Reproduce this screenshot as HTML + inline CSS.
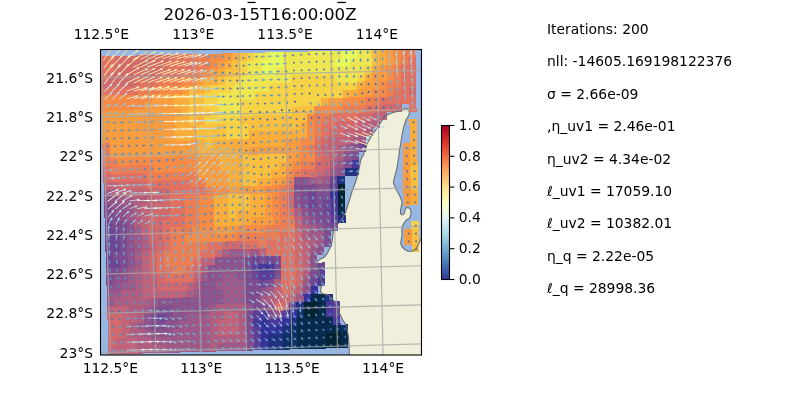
<!DOCTYPE html><html><head><meta charset="utf-8"><style>html,body{margin:0;padding:0;background:#fff;overflow:hidden}svg{display:block;will-change:transform}text{font-family:"DejaVu Sans","Liberation Sans",sans-serif;fill:#000}</style></head><body><svg width="800" height="400" viewBox="0 0 800 400"><defs><clipPath id="mc"><rect x="100.5" y="49.5" width="321" height="305.5"/></clipPath><linearGradient id="cb" x1="0" y1="1" x2="0" y2="0"><stop offset="0" stop-color="rgb(49,54,149)"/><stop offset="0.1" stop-color="rgb(69,117,180)"/><stop offset="0.2" stop-color="rgb(116,173,209)"/><stop offset="0.3" stop-color="rgb(171,217,233)"/><stop offset="0.4" stop-color="rgb(224,243,248)"/><stop offset="0.5" stop-color="rgb(255,255,191)"/><stop offset="0.6" stop-color="rgb(254,224,144)"/><stop offset="0.7" stop-color="rgb(253,174,97)"/><stop offset="0.8" stop-color="rgb(244,109,67)"/><stop offset="0.9" stop-color="rgb(215,48,39)"/><stop offset="1" stop-color="rgb(165,0,38)"/></linearGradient></defs><rect width="800" height="400" fill="#fff"/><g clip-path="url(#mc)"><rect x="100" y="49" width="322" height="307" fill="#97b6e1"/><path d="M405.5 108.5 L407.5 108.8 L409 110.5 L409.5 113 L408.5 116 L406.5 119 L405 123 L403.5 128 L402 135 L400.5 145 L399.4 150 L399 155 L398 161 L397 168 L395.5 174 L394 179 L393.5 183 L394.25 185 L395.5 188 L397 191 L398.75 194 L400.25 197 L401.5 200 L402.1 203 L401.5 205.5 L400.9 208 L400.5 210.5 L400.5 213.5 L401.5 214.75 L403 214.75 L404.5 212.5 L405.25 209.5 L406.25 207.75 L408 207.5 L409.75 208.5 L410.75 210.25 L411 213 L410.5 216 L409.25 218.5 L407.5 219.25 L406 220.25 L404.75 222 L403.2 224.5 L402 227.1 L401.8 230.5 L402.1 234.75 L401.1 240.7 L400.7 243.3 L402 246.7 L404.5 249.2 L407.9 251.3 L412.2 251.3 L415.6 249.2 L418.1 245 L420.2 240.7 L421 239 L424 234 L430 234 L430 370 L349.5 370 L349.5 362 L349.4 355 L349 344.6 L348.5 337 L347.5 331.3 L346.6 325.6 L342.8 320 L340 314.2 L338 308.5 L336 303.8 L333.2 300 L331.6 298 L329.2 295.6 L326 294.4 L322 293.6 L320.4 291.2 L321.2 287.2 L321.6 284 L321.6 280.8 L320.4 277.6 L319.2 274.4 L318.8 270.4 L317.6 267.2 L316.8 264.8 L317.2 262.4 L318.8 260 L321.6 258.4 L324.8 256.8 L327.6 252.8 L330 248 L331.6 244 L332.4 240 L333 233 L334.5 229 L337 225 L340 221.5 L343 217.5 L345.5 212.5 L347.5 206 L349.5 200 L351 195 L352.5 190 L354.5 185 L356.5 179 L358 173 L359.5 167 L360.5 161 L361.5 158 L363.5 155 L364.5 151 L366 148 L367.5 143.5 L369.75 139 L372.75 134.5 L375.75 130 L378.75 125.5 L381.7 121 L385 116.5 L389 114 L395 112 L400 111 L403.5 109.5 L405.5 108.5 Z" fill="#efefdb"/><g shape-rendering="crispEdges"><path d="M99.79 56.35 L107.13 56.18 L107.36 64.02 L100.02 64.19 Z" fill="#e17161"/><path d="M107.13 56.18 L114.47 56.01 L114.7 63.85 L107.36 64.02 Z" fill="#e17161"/><path d="M114.47 56.01 L121.81 55.84 L122.04 63.68 L114.7 63.85 Z" fill="#d16a6d"/><path d="M121.81 55.84 L129.15 55.67 L129.38 63.51 L122.04 63.68 Z" fill="#d16a6d"/><path d="M129.15 55.67 L136.49 55.5 L136.71 63.34 L129.38 63.51 Z" fill="#d16a6d"/><path d="M136.49 55.5 L143.83 55.33 L144.05 63.17 L136.71 63.34 Z" fill="#d16a6d"/><path d="M143.83 55.33 L151.17 55.15 L151.39 62.99 L144.05 63.17 Z" fill="#d16a6d"/><path d="M151.17 55.15 L158.51 54.98 L158.73 62.82 L151.39 62.99 Z" fill="#d16a6d"/><path d="M158.51 54.98 L165.85 54.81 L166.06 62.65 L158.73 62.82 Z" fill="#d16a6d"/><path d="M165.85 54.81 L173.19 54.64 L173.4 62.48 L166.06 62.65 Z" fill="#d16a6d"/><path d="M173.19 54.64 L180.53 54.47 L180.74 62.31 L173.4 62.48 Z" fill="#e17161"/><path d="M180.53 54.47 L187.87 54.3 L188.08 62.14 L180.74 62.31 Z" fill="#e17161"/><path d="M187.87 54.3 L195.21 54.13 L195.42 61.97 L188.08 62.14 Z" fill="#e17161"/><path d="M195.21 54.13 L202.55 53.96 L202.75 61.79 L195.42 61.97 Z" fill="#eb7e53"/><path d="M202.55 53.96 L209.89 53.79 L210.09 61.62 L202.75 61.79 Z" fill="#eb7e53"/><path d="M209.89 53.79 L217.23 53.62 L217.43 61.45 L210.09 61.62 Z" fill="#f68b45"/><path d="M217.23 53.62 L224.57 53.45 L224.77 61.28 L217.43 61.45 Z" fill="#f68b45"/><path d="M224.57 53.45 L231.91 53.28 L232.1 61.11 L224.77 61.28 Z" fill="#f89c40"/><path d="M231.91 53.28 L239.25 53.11 L239.44 60.94 L232.1 61.11 Z" fill="#fbad3c"/><path d="M239.25 53.11 L246.59 52.93 L246.78 60.76 L239.44 60.94 Z" fill="#f8c041"/><path d="M246.59 52.93 L253.93 52.76 L254.12 60.59 L246.78 60.76 Z" fill="#f6d346"/><path d="M253.93 52.76 L261.27 52.59 L261.46 60.42 L254.12 60.59 Z" fill="#eee650"/><path d="M261.27 52.59 L268.61 52.42 L268.79 60.25 L261.46 60.42 Z" fill="#eee650"/><path d="M268.61 52.42 L275.95 52.25 L276.13 60.08 L268.79 60.25 Z" fill="#e7fa5a"/><path d="M275.95 52.25 L283.29 52.08 L283.47 59.91 L276.13 60.08 Z" fill="#e7fa5a"/><path d="M283.29 52.08 L290.63 51.91 L290.81 59.74 L283.47 59.91 Z" fill="#eee650"/><path d="M290.63 51.91 L297.97 51.74 L298.14 59.56 L290.81 59.74 Z" fill="#eee650"/><path d="M297.97 51.74 L305.31 51.57 L305.48 59.39 L298.14 59.56 Z" fill="#eee650"/><path d="M305.31 51.57 L312.65 51.4 L312.82 59.22 L305.48 59.39 Z" fill="#eee650"/><path d="M312.65 51.4 L319.99 51.23 L320.16 59.05 L312.82 59.22 Z" fill="#eee650"/><path d="M319.99 51.23 L327.33 51.06 L327.5 58.88 L320.16 59.05 Z" fill="#eee650"/><path d="M327.33 51.06 L334.66 50.88 L334.83 58.71 L327.5 58.88 Z" fill="#eee650"/><path d="M334.66 50.88 L342 50.71 L342.17 58.53 L334.83 58.71 Z" fill="#eee650"/><path d="M342 50.71 L349.34 50.54 L349.51 58.36 L342.17 58.53 Z" fill="#e7fa5a"/><path d="M349.34 50.54 L356.68 50.37 L356.85 58.19 L349.51 58.36 Z" fill="#e7fa5a"/><path d="M356.68 50.37 L364.02 50.2 L364.18 58.02 L356.85 58.19 Z" fill="#eee650"/><path d="M364.02 50.2 L371.36 50.03 L371.52 57.85 L364.18 58.02 Z" fill="#eee650"/><path d="M371.36 50.03 L378.7 49.86 L378.86 57.68 L371.52 57.85 Z" fill="#f8c041"/><path d="M378.7 49.86 L386.04 49.69 L386.2 57.51 L378.86 57.68 Z" fill="#fbad3c"/><path d="M386.04 49.69 L393.38 49.52 L393.53 57.33 L386.2 57.51 Z" fill="#f89c40"/><path d="M393.38 49.52 L400.72 49.35 L400.87 57.16 L393.53 57.33 Z" fill="#f68b45"/><path d="M400.72 49.35 L408.06 49.18 L408.21 56.99 L400.87 57.16 Z" fill="#eb7e53"/><path d="M408.06 49.18 L415.4 49.01 L415.55 56.82 L408.21 56.99 Z" fill="#eb7e53"/><path d="M100.02 64.19 L107.36 64.02 L107.59 71.87 L100.25 72.04 Z" fill="#e17161"/><path d="M107.36 64.02 L114.7 63.85 L114.93 71.7 L107.59 71.87 Z" fill="#e17161"/><path d="M114.7 63.85 L122.04 63.68 L122.26 71.52 L114.93 71.7 Z" fill="#d16a6d"/><path d="M122.04 63.68 L129.38 63.51 L129.6 71.35 L122.26 71.52 Z" fill="#d16a6d"/><path d="M129.38 63.51 L136.71 63.34 L136.93 71.18 L129.6 71.35 Z" fill="#d16a6d"/><path d="M136.71 63.34 L144.05 63.17 L144.27 71.01 L136.93 71.18 Z" fill="#d16a6d"/><path d="M144.05 63.17 L151.39 62.99 L151.61 70.83 L144.27 71.01 Z" fill="#d16a6d"/><path d="M151.39 62.99 L158.73 62.82 L158.94 70.66 L151.61 70.83 Z" fill="#d16a6d"/><path d="M158.73 62.82 L166.06 62.65 L166.28 70.49 L158.94 70.66 Z" fill="#d16a6d"/><path d="M166.06 62.65 L173.4 62.48 L173.61 70.32 L166.28 70.49 Z" fill="#e17161"/><path d="M173.4 62.48 L180.74 62.31 L180.95 70.14 L173.61 70.32 Z" fill="#e17161"/><path d="M180.74 62.31 L188.08 62.14 L188.28 69.97 L180.95 70.14 Z" fill="#e17161"/><path d="M188.08 62.14 L195.42 61.97 L195.62 69.8 L188.28 69.97 Z" fill="#e17161"/><path d="M195.42 61.97 L202.75 61.79 L202.96 69.63 L195.62 69.8 Z" fill="#eb7e53"/><path d="M202.75 61.79 L210.09 61.62 L210.29 69.46 L202.96 69.63 Z" fill="#eb7e53"/><path d="M210.09 61.62 L217.43 61.45 L217.63 69.28 L210.29 69.46 Z" fill="#f68b45"/><path d="M217.43 61.45 L224.77 61.28 L224.96 69.11 L217.63 69.28 Z" fill="#f89c40"/><path d="M224.77 61.28 L232.1 61.11 L232.3 68.94 L224.96 69.11 Z" fill="#fbad3c"/><path d="M232.1 61.11 L239.44 60.94 L239.64 68.77 L232.3 68.94 Z" fill="#f8c041"/><path d="M239.44 60.94 L246.78 60.76 L246.97 68.59 L239.64 68.77 Z" fill="#f6d346"/><path d="M246.78 60.76 L254.12 60.59 L254.31 68.42 L246.97 68.59 Z" fill="#eee650"/><path d="M254.12 60.59 L261.46 60.42 L261.64 68.25 L254.31 68.42 Z" fill="#eee650"/><path d="M261.46 60.42 L268.79 60.25 L268.98 68.08 L261.64 68.25 Z" fill="#e7fa5a"/><path d="M268.79 60.25 L276.13 60.08 L276.31 67.91 L268.98 68.08 Z" fill="#e7fa5a"/><path d="M276.13 60.08 L283.47 59.91 L283.65 67.73 L276.31 67.91 Z" fill="#e7fa5a"/><path d="M283.47 59.91 L290.81 59.74 L290.99 67.56 L283.65 67.73 Z" fill="#eee650"/><path d="M290.81 59.74 L298.14 59.56 L298.32 67.39 L290.99 67.56 Z" fill="#eee650"/><path d="M298.14 59.56 L305.48 59.39 L305.66 67.22 L298.32 67.39 Z" fill="#eee650"/><path d="M305.48 59.39 L312.82 59.22 L312.99 67.04 L305.66 67.22 Z" fill="#eee650"/><path d="M312.82 59.22 L320.16 59.05 L320.33 66.87 L312.99 67.04 Z" fill="#eee650"/><path d="M320.16 59.05 L327.5 58.88 L327.67 66.7 L320.33 66.87 Z" fill="#eee650"/><path d="M327.5 58.88 L334.83 58.71 L335 66.53 L327.67 66.7 Z" fill="#eee650"/><path d="M334.83 58.71 L342.17 58.53 L342.34 66.36 L335 66.53 Z" fill="#e7fa5a"/><path d="M342.17 58.53 L349.51 58.36 L349.67 66.18 L342.34 66.36 Z" fill="#e7fa5a"/><path d="M349.51 58.36 L356.85 58.19 L357.01 66.01 L349.67 66.18 Z" fill="#eee650"/><path d="M356.85 58.19 L364.18 58.02 L364.34 65.84 L357.01 66.01 Z" fill="#eee650"/><path d="M364.18 58.02 L371.52 57.85 L371.68 65.67 L364.34 65.84 Z" fill="#eee650"/><path d="M371.52 57.85 L378.86 57.68 L379.02 65.49 L371.68 65.67 Z" fill="#f8c041"/><path d="M378.86 57.68 L386.2 57.51 L386.35 65.32 L379.02 65.49 Z" fill="#fbad3c"/><path d="M386.2 57.51 L393.53 57.33 L393.69 65.15 L386.35 65.32 Z" fill="#f89c40"/><path d="M393.53 57.33 L400.87 57.16 L401.02 64.98 L393.69 65.15 Z" fill="#f68b45"/><path d="M400.87 57.16 L408.21 56.99 L408.36 64.81 L401.02 64.98 Z" fill="#eb7e53"/><path d="M408.21 56.99 L415.55 56.82 L415.7 64.63 L408.36 64.81 Z" fill="#e17161"/><path d="M100.25 72.04 L107.59 71.87 L107.82 79.71 L100.48 79.88 Z" fill="#e17161"/><path d="M107.59 71.87 L114.93 71.7 L115.15 79.54 L107.82 79.71 Z" fill="#d16a6d"/><path d="M114.93 71.7 L122.26 71.52 L122.49 79.37 L115.15 79.54 Z" fill="#d16a6d"/><path d="M122.26 71.52 L129.6 71.35 L129.82 79.19 L122.49 79.37 Z" fill="#d16a6d"/><path d="M129.6 71.35 L136.93 71.18 L137.15 79.02 L129.82 79.19 Z" fill="#d16a6d"/><path d="M136.93 71.18 L144.27 71.01 L144.49 78.85 L137.15 79.02 Z" fill="#d16a6d"/><path d="M144.27 71.01 L151.61 70.83 L151.82 78.67 L144.49 78.85 Z" fill="#d16a6d"/><path d="M151.61 70.83 L158.94 70.66 L159.16 78.5 L151.82 78.67 Z" fill="#d16a6d"/><path d="M158.94 70.66 L166.28 70.49 L166.49 78.33 L159.16 78.5 Z" fill="#e17161"/><path d="M166.28 70.49 L173.61 70.32 L173.82 78.15 L166.49 78.33 Z" fill="#e17161"/><path d="M173.61 70.32 L180.95 70.14 L181.16 77.98 L173.82 78.15 Z" fill="#e17161"/><path d="M180.95 70.14 L188.28 69.97 L188.49 77.81 L181.16 77.98 Z" fill="#eb7e53"/><path d="M188.28 69.97 L195.62 69.8 L195.82 77.64 L188.49 77.81 Z" fill="#eb7e53"/><path d="M195.62 69.8 L202.96 69.63 L203.16 77.46 L195.82 77.64 Z" fill="#eb7e53"/><path d="M202.96 69.63 L210.29 69.46 L210.49 77.29 L203.16 77.46 Z" fill="#f68b45"/><path d="M210.29 69.46 L217.63 69.28 L217.83 77.12 L210.49 77.29 Z" fill="#f89c40"/><path d="M217.63 69.28 L224.96 69.11 L225.16 76.94 L217.83 77.12 Z" fill="#fbad3c"/><path d="M224.96 69.11 L232.3 68.94 L232.49 76.77 L225.16 76.94 Z" fill="#f8c041"/><path d="M232.3 68.94 L239.64 68.77 L239.83 76.6 L232.49 76.77 Z" fill="#f8c041"/><path d="M239.64 68.77 L246.97 68.59 L247.16 76.42 L239.83 76.6 Z" fill="#f6d346"/><path d="M246.97 68.59 L254.31 68.42 L254.5 76.25 L247.16 76.42 Z" fill="#eee650"/><path d="M254.31 68.42 L261.64 68.25 L261.83 76.08 L254.5 76.25 Z" fill="#eee650"/><path d="M261.64 68.25 L268.98 68.08 L269.16 75.91 L261.83 76.08 Z" fill="#e7fa5a"/><path d="M268.98 68.08 L276.31 67.91 L276.5 75.73 L269.16 75.91 Z" fill="#e7fa5a"/><path d="M276.31 67.91 L283.65 67.73 L283.83 75.56 L276.5 75.73 Z" fill="#eee650"/><path d="M283.65 67.73 L290.99 67.56 L291.17 75.39 L283.83 75.56 Z" fill="#eee650"/><path d="M290.99 67.56 L298.32 67.39 L298.5 75.21 L291.17 75.39 Z" fill="#eee650"/><path d="M298.32 67.39 L305.66 67.22 L305.83 75.04 L298.5 75.21 Z" fill="#eee650"/><path d="M305.66 67.22 L312.99 67.04 L313.17 74.87 L305.83 75.04 Z" fill="#eee650"/><path d="M312.99 67.04 L320.33 66.87 L320.5 74.69 L313.17 74.87 Z" fill="#eee650"/><path d="M320.33 66.87 L327.67 66.7 L327.84 74.52 L320.5 74.69 Z" fill="#eee650"/><path d="M327.67 66.7 L335 66.53 L335.17 74.35 L327.84 74.52 Z" fill="#eee650"/><path d="M335 66.53 L342.34 66.36 L342.5 74.18 L335.17 74.35 Z" fill="#eee650"/><path d="M342.34 66.36 L349.67 66.18 L349.84 74 L342.5 74.18 Z" fill="#eee650"/><path d="M349.67 66.18 L357.01 66.01 L357.17 73.83 L349.84 74 Z" fill="#eee650"/><path d="M357.01 66.01 L364.34 65.84 L364.5 73.66 L357.17 73.83 Z" fill="#eee650"/><path d="M364.34 65.84 L371.68 65.67 L371.84 73.48 L364.5 73.66 Z" fill="#f6d346"/><path d="M371.68 65.67 L379.02 65.49 L379.17 73.31 L371.84 73.48 Z" fill="#fbad3c"/><path d="M379.02 65.49 L386.35 65.32 L386.51 73.14 L379.17 73.31 Z" fill="#f89c40"/><path d="M386.35 65.32 L393.69 65.15 L393.84 72.97 L386.51 73.14 Z" fill="#f68b45"/><path d="M393.69 65.15 L401.02 64.98 L401.17 72.79 L393.84 72.97 Z" fill="#eb7e53"/><path d="M401.02 64.98 L408.36 64.81 L408.51 72.62 L401.17 72.79 Z" fill="#e17161"/><path d="M408.36 64.81 L415.7 64.63 L415.84 72.45 L408.51 72.62 Z" fill="#e17161"/><path d="M100.48 79.88 L107.82 79.71 L108.05 87.56 L100.71 87.73 Z" fill="#d16a6d"/><path d="M107.82 79.71 L115.15 79.54 L115.38 87.38 L108.05 87.56 Z" fill="#d16a6d"/><path d="M115.15 79.54 L122.49 79.37 L122.71 87.21 L115.38 87.38 Z" fill="#d16a6d"/><path d="M122.49 79.37 L129.82 79.19 L130.04 87.03 L122.71 87.21 Z" fill="#d16a6d"/><path d="M129.82 79.19 L137.15 79.02 L137.37 86.86 L130.04 87.03 Z" fill="#d16a6d"/><path d="M137.15 79.02 L144.49 78.85 L144.71 86.69 L137.37 86.86 Z" fill="#e17161"/><path d="M144.49 78.85 L151.82 78.67 L152.04 86.51 L144.71 86.69 Z" fill="#e17161"/><path d="M151.82 78.67 L159.16 78.5 L159.37 86.34 L152.04 86.51 Z" fill="#e17161"/><path d="M159.16 78.5 L166.49 78.33 L166.7 86.17 L159.37 86.34 Z" fill="#eb7e53"/><path d="M166.49 78.33 L173.82 78.15 L174.03 85.99 L166.7 86.17 Z" fill="#eb7e53"/><path d="M173.82 78.15 L181.16 77.98 L181.37 85.82 L174.03 85.99 Z" fill="#eb7e53"/><path d="M181.16 77.98 L188.49 77.81 L188.7 85.64 L181.37 85.82 Z" fill="#f68b45"/><path d="M188.49 77.81 L195.82 77.64 L196.03 85.47 L188.7 85.64 Z" fill="#f68b45"/><path d="M195.82 77.64 L203.16 77.46 L203.36 85.3 L196.03 85.47 Z" fill="#f89c40"/><path d="M203.16 77.46 L210.49 77.29 L210.69 85.12 L203.36 85.3 Z" fill="#fbad3c"/><path d="M210.49 77.29 L217.83 77.12 L218.03 84.95 L210.69 85.12 Z" fill="#fbad3c"/><path d="M217.83 77.12 L225.16 76.94 L225.36 84.78 L218.03 84.95 Z" fill="#f8c041"/><path d="M225.16 76.94 L232.49 76.77 L232.69 84.6 L225.36 84.78 Z" fill="#f6d346"/><path d="M232.49 76.77 L239.83 76.6 L240.02 84.43 L232.69 84.6 Z" fill="#f6d346"/><path d="M239.83 76.6 L247.16 76.42 L247.35 84.25 L240.02 84.43 Z" fill="#eee650"/><path d="M247.16 76.42 L254.5 76.25 L254.69 84.08 L247.35 84.25 Z" fill="#eee650"/><path d="M254.5 76.25 L261.83 76.08 L262.02 83.91 L254.69 84.08 Z" fill="#eee650"/><path d="M261.83 76.08 L269.16 75.91 L269.35 83.73 L262.02 83.91 Z" fill="#eee650"/><path d="M269.16 75.91 L276.5 75.73 L276.68 83.56 L269.35 83.73 Z" fill="#eee650"/><path d="M276.5 75.73 L283.83 75.56 L284.01 83.39 L276.68 83.56 Z" fill="#eee650"/><path d="M283.83 75.56 L291.17 75.39 L291.35 83.21 L284.01 83.39 Z" fill="#eee650"/><path d="M291.17 75.39 L298.5 75.21 L298.68 83.04 L291.35 83.21 Z" fill="#f6d346"/><path d="M298.5 75.21 L305.83 75.04 L306.01 82.87 L298.68 83.04 Z" fill="#f6d346"/><path d="M305.83 75.04 L313.17 74.87 L313.34 82.69 L306.01 82.87 Z" fill="#f6d346"/><path d="M313.17 74.87 L320.5 74.69 L320.67 82.52 L313.34 82.69 Z" fill="#f6d346"/><path d="M320.5 74.69 L327.84 74.52 L328.01 82.34 L320.67 82.52 Z" fill="#f6d346"/><path d="M327.84 74.52 L335.17 74.35 L335.34 82.17 L328.01 82.34 Z" fill="#f6d346"/><path d="M335.17 74.35 L342.5 74.18 L342.67 82 L335.34 82.17 Z" fill="#eee650"/><path d="M342.5 74.18 L349.84 74 L350 81.82 L342.67 82 Z" fill="#eee650"/><path d="M349.84 74 L357.17 73.83 L357.33 81.65 L350 81.82 Z" fill="#eee650"/><path d="M357.17 73.83 L364.5 73.66 L364.67 81.48 L357.33 81.65 Z" fill="#f6d346"/><path d="M364.5 73.66 L371.84 73.48 L372 81.3 L364.67 81.48 Z" fill="#fbad3c"/><path d="M371.84 73.48 L379.17 73.31 L379.33 81.13 L372 81.3 Z" fill="#f89c40"/><path d="M379.17 73.31 L386.51 73.14 L386.66 80.95 L379.33 81.13 Z" fill="#f89c40"/><path d="M386.51 73.14 L393.84 72.97 L393.99 80.78 L386.66 80.95 Z" fill="#f68b45"/><path d="M393.84 72.97 L401.17 72.79 L401.33 80.61 L393.99 80.78 Z" fill="#eb7e53"/><path d="M401.17 72.79 L408.51 72.62 L408.66 80.43 L401.33 80.61 Z" fill="#e17161"/><path d="M408.51 72.62 L415.84 72.45 L415.99 80.26 L408.66 80.43 Z" fill="#e17161"/><path d="M100.71 87.73 L108.05 87.56 L108.27 95.4 L100.94 95.57 Z" fill="#e17161"/><path d="M108.05 87.56 L115.38 87.38 L115.6 95.23 L108.27 95.4 Z" fill="#e17161"/><path d="M115.38 87.38 L122.71 87.21 L122.93 95.05 L115.6 95.23 Z" fill="#e17161"/><path d="M122.71 87.21 L130.04 87.03 L130.26 94.88 L122.93 95.05 Z" fill="#e17161"/><path d="M130.04 87.03 L137.37 86.86 L137.59 94.7 L130.26 94.88 Z" fill="#e17161"/><path d="M137.37 86.86 L144.71 86.69 L144.92 94.53 L137.59 94.7 Z" fill="#eb7e53"/><path d="M144.71 86.69 L152.04 86.51 L152.25 94.35 L144.92 94.53 Z" fill="#eb7e53"/><path d="M152.04 86.51 L159.37 86.34 L159.58 94.18 L152.25 94.35 Z" fill="#eb7e53"/><path d="M159.37 86.34 L166.7 86.17 L166.91 94 L159.58 94.18 Z" fill="#f68b45"/><path d="M166.7 86.17 L174.03 85.99 L174.24 93.83 L166.91 94 Z" fill="#f68b45"/><path d="M174.03 85.99 L181.37 85.82 L181.57 93.65 L174.24 93.83 Z" fill="#f68b45"/><path d="M181.37 85.82 L188.7 85.64 L188.9 93.48 L181.57 93.65 Z" fill="#f89c40"/><path d="M188.7 85.64 L196.03 85.47 L196.23 93.31 L188.9 93.48 Z" fill="#f8c041"/><path d="M196.03 85.47 L203.36 85.3 L203.56 93.13 L196.23 93.31 Z" fill="#fbad3c"/><path d="M203.36 85.3 L210.69 85.12 L210.89 92.96 L203.56 93.13 Z" fill="#f8c041"/><path d="M210.69 85.12 L218.03 84.95 L218.22 92.78 L210.89 92.96 Z" fill="#f6d346"/><path d="M218.03 84.95 L225.36 84.78 L225.55 92.61 L218.22 92.78 Z" fill="#f6d346"/><path d="M225.36 84.78 L232.69 84.6 L232.88 92.43 L225.55 92.61 Z" fill="#f6d346"/><path d="M232.69 84.6 L240.02 84.43 L240.21 92.26 L232.88 92.43 Z" fill="#eee650"/><path d="M240.02 84.43 L247.35 84.25 L247.54 92.08 L240.21 92.26 Z" fill="#eee650"/><path d="M247.35 84.25 L254.69 84.08 L254.87 91.91 L247.54 92.08 Z" fill="#eee650"/><path d="M254.69 84.08 L262.02 83.91 L262.2 91.74 L254.87 91.91 Z" fill="#eee650"/><path d="M262.02 83.91 L269.35 83.73 L269.53 91.56 L262.2 91.74 Z" fill="#eee650"/><path d="M269.35 83.73 L276.68 83.56 L276.86 91.39 L269.53 91.56 Z" fill="#f6d346"/><path d="M276.68 83.56 L284.01 83.39 L284.2 91.21 L276.86 91.39 Z" fill="#f6d346"/><path d="M284.01 83.39 L291.35 83.21 L291.53 91.04 L284.2 91.21 Z" fill="#f6d346"/><path d="M291.35 83.21 L298.68 83.04 L298.86 90.86 L291.53 91.04 Z" fill="#f6d346"/><path d="M298.68 83.04 L306.01 82.87 L306.19 90.69 L298.86 90.86 Z" fill="#f6d346"/><path d="M306.01 82.87 L313.34 82.69 L313.52 90.51 L306.19 90.69 Z" fill="#f6d346"/><path d="M313.34 82.69 L320.67 82.52 L320.85 90.34 L313.52 90.51 Z" fill="#f6d346"/><path d="M320.67 82.52 L328.01 82.34 L328.18 90.17 L320.85 90.34 Z" fill="#f6d346"/><path d="M328.01 82.34 L335.34 82.17 L335.51 89.99 L328.18 90.17 Z" fill="#f6d346"/><path d="M335.34 82.17 L342.67 82 L342.84 89.82 L335.51 89.99 Z" fill="#f6d346"/><path d="M342.67 82 L350 81.82 L350.17 89.64 L342.84 89.82 Z" fill="#f6d346"/><path d="M350 81.82 L357.33 81.65 L357.5 89.47 L350.17 89.64 Z" fill="#f6d346"/><path d="M357.33 81.65 L364.67 81.48 L364.83 89.29 L357.5 89.47 Z" fill="#fbad3c"/><path d="M364.67 81.48 L372 81.3 L372.16 89.12 L364.83 89.29 Z" fill="#f89c40"/><path d="M372 81.3 L379.33 81.13 L379.49 88.94 L372.16 89.12 Z" fill="#f89c40"/><path d="M379.33 81.13 L386.66 80.95 L386.82 88.77 L379.49 88.94 Z" fill="#f68b45"/><path d="M386.66 80.95 L393.99 80.78 L394.15 88.6 L386.82 88.77 Z" fill="#eb7e53"/><path d="M393.99 80.78 L401.33 80.61 L401.48 88.42 L394.15 88.6 Z" fill="#eb7e53"/><path d="M401.33 80.61 L408.66 80.43 L408.81 88.25 L401.48 88.42 Z" fill="#e17161"/><path d="M408.66 80.43 L415.99 80.26 L416.14 88.07 L408.81 88.25 Z" fill="#e17161"/><path d="M100.94 95.57 L108.27 95.4 L108.5 103.24 L101.17 103.42 Z" fill="#f68b45"/><path d="M108.27 95.4 L115.6 95.23 L115.83 103.07 L108.5 103.24 Z" fill="#f68b45"/><path d="M115.6 95.23 L122.93 95.05 L123.16 102.89 L115.83 103.07 Z" fill="#f68b45"/><path d="M122.93 95.05 L130.26 94.88 L130.49 102.72 L123.16 102.89 Z" fill="#f68b45"/><path d="M130.26 94.88 L137.59 94.7 L137.81 102.54 L130.49 102.72 Z" fill="#f68b45"/><path d="M137.59 94.7 L144.92 94.53 L145.14 102.37 L137.81 102.54 Z" fill="#f68b45"/><path d="M144.92 94.53 L152.25 94.35 L152.47 102.19 L145.14 102.37 Z" fill="#f68b45"/><path d="M152.25 94.35 L159.58 94.18 L159.8 102.02 L152.47 102.19 Z" fill="#f89c40"/><path d="M159.58 94.18 L166.91 94 L167.13 101.84 L159.8 102.02 Z" fill="#f89c40"/><path d="M166.91 94 L174.24 93.83 L174.45 101.67 L167.13 101.84 Z" fill="#f89c40"/><path d="M174.24 93.83 L181.57 93.65 L181.78 101.49 L174.45 101.67 Z" fill="#fbad3c"/><path d="M181.57 93.65 L188.9 93.48 L189.11 101.32 L181.78 101.49 Z" fill="#fbad3c"/><path d="M188.9 93.48 L196.23 93.31 L196.44 101.14 L189.11 101.32 Z" fill="#f8c041"/><path d="M196.23 93.31 L203.56 93.13 L203.77 100.97 L196.44 101.14 Z" fill="#f8c041"/><path d="M203.56 93.13 L210.89 92.96 L211.1 100.79 L203.77 100.97 Z" fill="#f6d346"/><path d="M210.89 92.96 L218.22 92.78 L218.42 100.62 L211.1 100.79 Z" fill="#f6d346"/><path d="M218.22 92.78 L225.55 92.61 L225.75 100.44 L218.42 100.62 Z" fill="#eee650"/><path d="M225.55 92.61 L232.88 92.43 L233.08 100.27 L225.75 100.44 Z" fill="#eee650"/><path d="M232.88 92.43 L240.21 92.26 L240.41 100.09 L233.08 100.27 Z" fill="#eee650"/><path d="M240.21 92.26 L247.54 92.08 L247.74 99.92 L240.41 100.09 Z" fill="#eee650"/><path d="M247.54 92.08 L254.87 91.91 L255.06 99.74 L247.74 99.92 Z" fill="#eee650"/><path d="M254.87 91.91 L262.2 91.74 L262.39 99.56 L255.06 99.74 Z" fill="#f6d346"/><path d="M262.2 91.74 L269.53 91.56 L269.72 99.39 L262.39 99.56 Z" fill="#f6d346"/><path d="M269.53 91.56 L276.86 91.39 L277.05 99.21 L269.72 99.39 Z" fill="#f6d346"/><path d="M276.86 91.39 L284.2 91.21 L284.38 99.04 L277.05 99.21 Z" fill="#f6d346"/><path d="M284.2 91.21 L291.53 91.04 L291.7 98.86 L284.38 99.04 Z" fill="#f6d346"/><path d="M291.53 91.04 L298.86 90.86 L299.03 98.69 L291.7 98.86 Z" fill="#f6d346"/><path d="M298.86 90.86 L306.19 90.69 L306.36 98.51 L299.03 98.69 Z" fill="#f6d346"/><path d="M306.19 90.69 L313.52 90.51 L313.69 98.34 L306.36 98.51 Z" fill="#f6d346"/><path d="M313.52 90.51 L320.85 90.34 L321.02 98.16 L313.69 98.34 Z" fill="#f6d346"/><path d="M320.85 90.34 L328.18 90.17 L328.35 97.99 L321.02 98.16 Z" fill="#f6d346"/><path d="M328.18 90.17 L335.51 89.99 L335.67 97.81 L328.35 97.99 Z" fill="#f6d346"/><path d="M335.51 89.99 L342.84 89.82 L343 97.64 L335.67 97.81 Z" fill="#f6d346"/><path d="M342.84 89.82 L350.17 89.64 L350.33 97.46 L343 97.64 Z" fill="#fbad3c"/><path d="M350.17 89.64 L357.5 89.47 L357.66 97.29 L350.33 97.46 Z" fill="#fbad3c"/><path d="M357.5 89.47 L364.83 89.29 L364.99 97.11 L357.66 97.29 Z" fill="#f89c40"/><path d="M364.83 89.29 L372.16 89.12 L372.31 96.94 L364.99 97.11 Z" fill="#f89c40"/><path d="M372.16 89.12 L379.49 88.94 L379.64 96.76 L372.31 96.94 Z" fill="#f68b45"/><path d="M379.49 88.94 L386.82 88.77 L386.97 96.59 L379.64 96.76 Z" fill="#f68b45"/><path d="M386.82 88.77 L394.15 88.6 L394.3 96.41 L386.97 96.59 Z" fill="#eb7e53"/><path d="M394.15 88.6 L401.48 88.42 L401.63 96.24 L394.3 96.41 Z" fill="#e17161"/><path d="M401.48 88.42 L408.81 88.25 L408.96 96.06 L401.63 96.24 Z" fill="#e17161"/><path d="M408.81 88.25 L416.14 88.07 L416.28 95.89 L408.96 96.06 Z" fill="#d16a6d"/><path d="M101.17 103.42 L108.5 103.24 L108.73 111.09 L101.4 111.26 Z" fill="#f68b45"/><path d="M108.5 103.24 L115.83 103.07 L116.05 110.91 L108.73 111.09 Z" fill="#f68b45"/><path d="M115.83 103.07 L123.16 102.89 L123.38 110.74 L116.05 110.91 Z" fill="#f68b45"/><path d="M123.16 102.89 L130.49 102.72 L130.71 110.56 L123.38 110.74 Z" fill="#f68b45"/><path d="M130.49 102.72 L137.81 102.54 L138.03 110.38 L130.71 110.56 Z" fill="#f68b45"/><path d="M137.81 102.54 L145.14 102.37 L145.36 110.21 L138.03 110.38 Z" fill="#f68b45"/><path d="M145.14 102.37 L152.47 102.19 L152.69 110.03 L145.36 110.21 Z" fill="#f89c40"/><path d="M152.47 102.19 L159.8 102.02 L160.01 109.86 L152.69 110.03 Z" fill="#f89c40"/><path d="M159.8 102.02 L167.13 101.84 L167.34 109.68 L160.01 109.86 Z" fill="#f89c40"/><path d="M167.13 101.84 L174.45 101.67 L174.66 109.5 L167.34 109.68 Z" fill="#f89c40"/><path d="M174.45 101.67 L181.78 101.49 L181.99 109.33 L174.66 109.5 Z" fill="#fbad3c"/><path d="M181.78 101.49 L189.11 101.32 L189.32 109.15 L181.99 109.33 Z" fill="#fbad3c"/><path d="M189.11 101.32 L196.44 101.14 L196.64 108.98 L189.32 109.15 Z" fill="#f8c041"/><path d="M196.44 101.14 L203.77 100.97 L203.97 108.8 L196.64 108.98 Z" fill="#f8c041"/><path d="M203.77 100.97 L211.1 100.79 L211.3 108.62 L203.97 108.8 Z" fill="#f6d346"/><path d="M211.1 100.79 L218.42 100.62 L218.62 108.45 L211.3 108.62 Z" fill="#f6d346"/><path d="M218.42 100.62 L225.75 100.44 L225.95 108.27 L218.62 108.45 Z" fill="#eee650"/><path d="M225.75 100.44 L233.08 100.27 L233.27 108.1 L225.95 108.27 Z" fill="#eee650"/><path d="M233.08 100.27 L240.41 100.09 L240.6 107.92 L233.27 108.1 Z" fill="#eee650"/><path d="M240.41 100.09 L247.74 99.92 L247.93 107.75 L240.6 107.92 Z" fill="#f6d346"/><path d="M247.74 99.92 L255.06 99.74 L255.25 107.57 L247.93 107.75 Z" fill="#f6d346"/><path d="M255.06 99.74 L262.39 99.56 L262.58 107.39 L255.25 107.57 Z" fill="#f6d346"/><path d="M262.39 99.56 L269.72 99.39 L269.91 107.22 L262.58 107.39 Z" fill="#f6d346"/><path d="M269.72 99.39 L277.05 99.21 L277.23 107.04 L269.91 107.22 Z" fill="#f6d346"/><path d="M277.05 99.21 L284.38 99.04 L284.56 106.87 L277.23 107.04 Z" fill="#f6d346"/><path d="M284.38 99.04 L291.7 98.86 L291.88 106.69 L284.56 106.87 Z" fill="#f6d346"/><path d="M291.7 98.86 L299.03 98.69 L299.21 106.51 L291.88 106.69 Z" fill="#f6d346"/><path d="M299.03 98.69 L306.36 98.51 L306.54 106.34 L299.21 106.51 Z" fill="#f6d346"/><path d="M306.36 98.51 L313.69 98.34 L313.86 106.16 L306.54 106.34 Z" fill="#f6d346"/><path d="M313.69 98.34 L321.02 98.16 L321.19 105.99 L313.86 106.16 Z" fill="#f6d346"/><path d="M321.02 98.16 L328.35 97.99 L328.52 105.81 L321.19 105.99 Z" fill="#fbad3c"/><path d="M328.35 97.99 L335.67 97.81 L335.84 105.63 L328.52 105.81 Z" fill="#f89c40"/><path d="M335.67 97.81 L343 97.64 L343.17 105.46 L335.84 105.63 Z" fill="#f89c40"/><path d="M343 97.64 L350.33 97.46 L350.49 105.28 L343.17 105.46 Z" fill="#f68b45"/><path d="M350.33 97.46 L357.66 97.29 L357.82 105.11 L350.49 105.28 Z" fill="#f68b45"/><path d="M357.66 97.29 L364.99 97.11 L365.15 104.93 L357.82 105.11 Z" fill="#f68b45"/><path d="M364.99 97.11 L372.31 96.94 L372.47 104.75 L365.15 104.93 Z" fill="#eb7e53"/><path d="M372.31 96.94 L379.64 96.76 L379.8 104.58 L372.47 104.75 Z" fill="#eb7e53"/><path d="M379.64 96.76 L386.97 96.59 L387.13 104.4 L379.8 104.58 Z" fill="#e17161"/><path d="M386.97 96.59 L394.3 96.41 L394.45 104.23 L387.13 104.4 Z" fill="#e17161"/><path d="M394.3 96.41 L401.63 96.24 L401.78 104.05 L394.45 104.23 Z" fill="#e17161"/><path d="M401.63 96.24 L408.96 96.06 L409.1 103.88 L401.78 104.05 Z" fill="#e17161"/><path d="M408.96 96.06 L416.28 95.89 L416.43 103.7 L409.1 103.88 Z" fill="#e17161"/><path d="M101.4 111.26 L108.73 111.09 L108.96 118.93 L101.63 119.11 Z" fill="#f89c40"/><path d="M108.73 111.09 L116.05 110.91 L116.28 118.75 L108.96 118.93 Z" fill="#f89c40"/><path d="M116.05 110.91 L123.38 110.74 L123.6 118.58 L116.28 118.75 Z" fill="#f89c40"/><path d="M123.38 110.74 L130.71 110.56 L130.93 118.4 L123.6 118.58 Z" fill="#f89c40"/><path d="M130.71 110.56 L138.03 110.38 L138.25 118.22 L130.93 118.4 Z" fill="#f89c40"/><path d="M138.03 110.38 L145.36 110.21 L145.58 118.05 L138.25 118.22 Z" fill="#f89c40"/><path d="M145.36 110.21 L152.69 110.03 L152.9 117.87 L145.58 118.05 Z" fill="#f89c40"/><path d="M152.69 110.03 L160.01 109.86 L160.23 117.7 L152.9 117.87 Z" fill="#f89c40"/><path d="M160.01 109.86 L167.34 109.68 L167.55 117.52 L160.23 117.7 Z" fill="#f89c40"/><path d="M167.34 109.68 L174.66 109.5 L174.88 117.34 L167.55 117.52 Z" fill="#f89c40"/><path d="M174.66 109.5 L181.99 109.33 L182.2 117.17 L174.88 117.34 Z" fill="#f89c40"/><path d="M181.99 109.33 L189.32 109.15 L189.52 116.99 L182.2 117.17 Z" fill="#fbad3c"/><path d="M189.32 109.15 L196.64 108.98 L196.85 116.81 L189.52 116.99 Z" fill="#f8c041"/><path d="M196.64 108.98 L203.97 108.8 L204.17 116.64 L196.85 116.81 Z" fill="#f8c041"/><path d="M203.97 108.8 L211.3 108.62 L211.5 116.46 L204.17 116.64 Z" fill="#f8c041"/><path d="M211.3 108.62 L218.62 108.45 L218.82 116.28 L211.5 116.46 Z" fill="#f6d346"/><path d="M218.62 108.45 L225.95 108.27 L226.15 116.11 L218.82 116.28 Z" fill="#eee650"/><path d="M225.95 108.27 L233.27 108.1 L233.47 115.93 L226.15 116.11 Z" fill="#eee650"/><path d="M233.27 108.1 L240.6 107.92 L240.79 115.75 L233.47 115.93 Z" fill="#eee650"/><path d="M240.6 107.92 L247.93 107.75 L248.12 115.58 L240.79 115.75 Z" fill="#f6d346"/><path d="M247.93 107.75 L255.25 107.57 L255.44 115.4 L248.12 115.58 Z" fill="#f6d346"/><path d="M255.25 107.57 L262.58 107.39 L262.77 115.22 L255.44 115.4 Z" fill="#f6d346"/><path d="M262.58 107.39 L269.91 107.22 L270.09 115.05 L262.77 115.22 Z" fill="#f6d346"/><path d="M269.91 107.22 L277.23 107.04 L277.42 114.87 L270.09 115.05 Z" fill="#f6d346"/><path d="M277.23 107.04 L284.56 106.87 L284.74 114.69 L277.42 114.87 Z" fill="#f6d346"/><path d="M284.56 106.87 L291.88 106.69 L292.06 114.52 L284.74 114.69 Z" fill="#f6d346"/><path d="M291.88 106.69 L299.21 106.51 L299.39 114.34 L292.06 114.52 Z" fill="#f8c041"/><path d="M299.21 106.51 L306.54 106.34 L306.71 114.16 L299.39 114.34 Z" fill="#f8c041"/><path d="M306.54 106.34 L313.86 106.16 L314.04 113.99 L306.71 114.16 Z" fill="#f8c041"/><path d="M313.86 106.16 L321.19 105.99 L321.36 113.81 L314.04 113.99 Z" fill="#f68b45"/><path d="M321.19 105.99 L328.52 105.81 L328.69 113.63 L321.36 113.81 Z" fill="#f68b45"/><path d="M328.52 105.81 L335.84 105.63 L336.01 113.46 L328.69 113.63 Z" fill="#f68b45"/><path d="M335.84 105.63 L343.17 105.46 L343.33 113.28 L336.01 113.46 Z" fill="#f68b45"/><path d="M343.17 105.46 L350.49 105.28 L350.66 113.1 L343.33 113.28 Z" fill="#eb7e53"/><path d="M350.49 105.28 L357.82 105.11 L357.98 112.93 L350.66 113.1 Z" fill="#eb7e53"/><path d="M357.82 105.11 L365.15 104.93 L365.31 112.75 L357.98 112.93 Z" fill="#eb7e53"/><path d="M365.15 104.93 L372.47 104.75 L372.63 112.57 L365.31 112.75 Z" fill="#e17161"/><path d="M372.47 104.75 L379.8 104.58 L379.96 112.4 L372.63 112.57 Z" fill="#e17161"/><path d="M379.8 104.58 L387.13 104.4 L387.28 112.22 L379.96 112.4 Z" fill="#d16a6d"/><path d="M387.13 104.4 L394.45 104.23 L394.6 112.04 L387.28 112.22 Z" fill="#d16a6d"/><path d="M394.45 104.23 L401.78 104.05 L401.93 111.87 L394.6 112.04 Z" fill="#d16a6d"/><path d="M409.1 103.88 L416.43 103.7 L416.58 111.51 L409.25 111.69 Z" fill="#e17161"/><path d="M101.63 119.11 L108.96 118.93 L109.18 126.78 L101.86 126.95 Z" fill="#f89c40"/><path d="M108.96 118.93 L116.28 118.75 L116.51 126.6 L109.18 126.78 Z" fill="#f89c40"/><path d="M116.28 118.75 L123.6 118.58 L123.83 126.42 L116.51 126.6 Z" fill="#f89c40"/><path d="M123.6 118.58 L130.93 118.4 L131.15 126.24 L123.83 126.42 Z" fill="#f89c40"/><path d="M130.93 118.4 L138.25 118.22 L138.47 126.07 L131.15 126.24 Z" fill="#f89c40"/><path d="M138.25 118.22 L145.58 118.05 L145.8 125.89 L138.47 126.07 Z" fill="#f89c40"/><path d="M145.58 118.05 L152.9 117.87 L153.12 125.71 L145.8 125.89 Z" fill="#f89c40"/><path d="M152.9 117.87 L160.23 117.7 L160.44 125.53 L153.12 125.71 Z" fill="#f89c40"/><path d="M160.23 117.7 L167.55 117.52 L167.76 125.36 L160.44 125.53 Z" fill="#f89c40"/><path d="M167.55 117.52 L174.88 117.34 L175.09 125.18 L167.76 125.36 Z" fill="#f89c40"/><path d="M174.88 117.34 L182.2 117.17 L182.41 125 L175.09 125.18 Z" fill="#fbad3c"/><path d="M182.2 117.17 L189.52 116.99 L189.73 124.82 L182.41 125 Z" fill="#fbad3c"/><path d="M189.52 116.99 L196.85 116.81 L197.05 124.65 L189.73 124.82 Z" fill="#f8c041"/><path d="M196.85 116.81 L204.17 116.64 L204.38 124.47 L197.05 124.65 Z" fill="#fbad3c"/><path d="M204.17 116.64 L211.5 116.46 L211.7 124.29 L204.38 124.47 Z" fill="#f6d346"/><path d="M211.5 116.46 L218.82 116.28 L219.02 124.11 L211.7 124.29 Z" fill="#f6d346"/><path d="M218.82 116.28 L226.15 116.11 L226.34 123.94 L219.02 124.11 Z" fill="#f6d346"/><path d="M226.15 116.11 L233.47 115.93 L233.66 123.76 L226.34 123.94 Z" fill="#f6d346"/><path d="M233.47 115.93 L240.79 115.75 L240.99 123.58 L233.66 123.76 Z" fill="#f6d346"/><path d="M240.79 115.75 L248.12 115.58 L248.31 123.41 L240.99 123.58 Z" fill="#f8c041"/><path d="M248.12 115.58 L255.44 115.4 L255.63 123.23 L248.31 123.41 Z" fill="#f8c041"/><path d="M255.44 115.4 L262.77 115.22 L262.95 123.05 L255.63 123.23 Z" fill="#f8c041"/><path d="M262.77 115.22 L270.09 115.05 L270.28 122.87 L262.95 123.05 Z" fill="#f8c041"/><path d="M270.09 115.05 L277.42 114.87 L277.6 122.7 L270.28 122.87 Z" fill="#f8c041"/><path d="M277.42 114.87 L284.74 114.69 L284.92 122.52 L277.6 122.7 Z" fill="#f8c041"/><path d="M284.74 114.69 L292.06 114.52 L292.24 122.34 L284.92 122.52 Z" fill="#f8c041"/><path d="M292.06 114.52 L299.39 114.34 L299.57 122.16 L292.24 122.34 Z" fill="#f8c041"/><path d="M299.39 114.34 L306.71 114.16 L306.89 121.99 L299.57 122.16 Z" fill="#f8c041"/><path d="M306.71 114.16 L314.04 113.99 L314.21 121.81 L306.89 121.99 Z" fill="#f68b45"/><path d="M314.04 113.99 L321.36 113.81 L321.53 121.63 L314.21 121.81 Z" fill="#eb7e53"/><path d="M321.36 113.81 L328.69 113.63 L328.86 121.45 L321.53 121.63 Z" fill="#eb7e53"/><path d="M328.69 113.63 L336.01 113.46 L336.18 121.28 L328.86 121.45 Z" fill="#e17161"/><path d="M336.01 113.46 L343.33 113.28 L343.5 121.1 L336.18 121.28 Z" fill="#e17161"/><path d="M343.33 113.28 L350.66 113.1 L350.82 120.92 L343.5 121.1 Z" fill="#e17161"/><path d="M350.66 113.1 L357.98 112.93 L358.15 120.74 L350.82 120.92 Z" fill="#e17161"/><path d="M357.98 112.93 L365.31 112.75 L365.47 120.57 L358.15 120.74 Z" fill="#d16a6d"/><path d="M365.31 112.75 L372.63 112.57 L372.79 120.39 L365.47 120.57 Z" fill="#d16a6d"/><path d="M372.63 112.57 L379.96 112.4 L380.11 120.21 L372.79 120.39 Z" fill="#c16479"/><path d="M379.96 112.4 L387.28 112.22 L387.44 120.04 L380.11 120.21 Z" fill="#c16479"/><path d="M101.86 126.95 L109.18 126.78 L109.41 134.62 L102.09 134.8 Z" fill="#f89c40"/><path d="M109.18 126.78 L116.51 126.6 L116.73 134.44 L109.41 134.62 Z" fill="#f89c40"/><path d="M116.51 126.6 L123.83 126.42 L124.05 134.26 L116.73 134.44 Z" fill="#f89c40"/><path d="M123.83 126.42 L131.15 126.24 L131.37 134.09 L124.05 134.26 Z" fill="#f89c40"/><path d="M131.15 126.24 L138.47 126.07 L138.69 133.91 L131.37 134.09 Z" fill="#f89c40"/><path d="M138.47 126.07 L145.8 125.89 L146.01 133.73 L138.69 133.91 Z" fill="#f89c40"/><path d="M145.8 125.89 L153.12 125.71 L153.33 133.55 L146.01 133.73 Z" fill="#f89c40"/><path d="M153.12 125.71 L160.44 125.53 L160.66 133.37 L153.33 133.55 Z" fill="#f89c40"/><path d="M160.44 125.53 L167.76 125.36 L167.98 133.19 L160.66 133.37 Z" fill="#f89c40"/><path d="M167.76 125.36 L175.09 125.18 L175.3 133.02 L167.98 133.19 Z" fill="#f89c40"/><path d="M175.09 125.18 L182.41 125 L182.62 132.84 L175.3 133.02 Z" fill="#fbad3c"/><path d="M182.41 125 L189.73 124.82 L189.94 132.66 L182.62 132.84 Z" fill="#fbad3c"/><path d="M189.73 124.82 L197.05 124.65 L197.26 132.48 L189.94 132.66 Z" fill="#fbad3c"/><path d="M197.05 124.65 L204.38 124.47 L204.58 132.3 L197.26 132.48 Z" fill="#f8c041"/><path d="M204.38 124.47 L211.7 124.29 L211.9 132.13 L204.58 132.3 Z" fill="#f8c041"/><path d="M211.7 124.29 L219.02 124.11 L219.22 131.95 L211.9 132.13 Z" fill="#f8c041"/><path d="M219.02 124.11 L226.34 123.94 L226.54 131.77 L219.22 131.95 Z" fill="#f8c041"/><path d="M226.34 123.94 L233.66 123.76 L233.86 131.59 L226.54 131.77 Z" fill="#f6d346"/><path d="M233.66 123.76 L240.99 123.58 L241.18 131.41 L233.86 131.59 Z" fill="#f6d346"/><path d="M240.99 123.58 L248.31 123.41 L248.5 131.24 L241.18 131.41 Z" fill="#f6d346"/><path d="M248.31 123.41 L255.63 123.23 L255.82 131.06 L248.5 131.24 Z" fill="#f8c041"/><path d="M255.63 123.23 L262.95 123.05 L263.14 130.88 L255.82 131.06 Z" fill="#f8c041"/><path d="M262.95 123.05 L270.28 122.87 L270.46 130.7 L263.14 130.88 Z" fill="#f8c041"/><path d="M270.28 122.87 L277.6 122.7 L277.78 130.52 L270.46 130.7 Z" fill="#f8c041"/><path d="M277.6 122.7 L284.92 122.52 L285.1 130.35 L277.78 130.52 Z" fill="#f8c041"/><path d="M284.92 122.52 L292.24 122.34 L292.42 130.17 L285.1 130.35 Z" fill="#f8c041"/><path d="M292.24 122.34 L299.57 122.16 L299.74 129.99 L292.42 130.17 Z" fill="#f8c041"/><path d="M299.57 122.16 L306.89 121.99 L307.06 129.81 L299.74 129.99 Z" fill="#fbad3c"/><path d="M306.89 121.99 L314.21 121.81 L314.39 129.63 L307.06 129.81 Z" fill="#f68b45"/><path d="M314.21 121.81 L321.53 121.63 L321.71 129.45 L314.39 129.63 Z" fill="#eb7e53"/><path d="M321.53 121.63 L328.86 121.45 L329.03 129.28 L321.71 129.45 Z" fill="#e17161"/><path d="M328.86 121.45 L336.18 121.28 L336.35 129.1 L329.03 129.28 Z" fill="#e17161"/><path d="M336.18 121.28 L343.5 121.1 L343.67 128.92 L336.35 129.1 Z" fill="#d16a6d"/><path d="M343.5 121.1 L350.82 120.92 L350.99 128.74 L343.67 128.92 Z" fill="#d16a6d"/><path d="M350.82 120.92 L358.15 120.74 L358.31 128.56 L350.99 128.74 Z" fill="#d16a6d"/><path d="M358.15 120.74 L365.47 120.57 L365.63 128.39 L358.31 128.56 Z" fill="#c16479"/><path d="M365.47 120.57 L372.79 120.39 L372.95 128.21 L365.63 128.39 Z" fill="#c16479"/><path d="M372.79 120.39 L380.11 120.21 L380.27 128.03 L372.95 128.21 Z" fill="#b05e80"/><path d="M409.4 119.5 L416.72 119.33 L416.87 127.14 L409.55 127.32 Z" fill="#fbad3c"/><path d="M102.09 134.8 L109.41 134.62 L109.64 142.46 L102.32 142.64 Z" fill="#f89c40"/><path d="M109.41 134.62 L116.73 134.44 L116.96 142.28 L109.64 142.46 Z" fill="#f89c40"/><path d="M116.73 134.44 L124.05 134.26 L124.28 142.11 L116.96 142.28 Z" fill="#f89c40"/><path d="M124.05 134.26 L131.37 134.09 L131.6 141.93 L124.28 142.11 Z" fill="#f89c40"/><path d="M131.37 134.09 L138.69 133.91 L138.91 141.75 L131.6 141.93 Z" fill="#f89c40"/><path d="M138.69 133.91 L146.01 133.73 L146.23 141.57 L138.91 141.75 Z" fill="#f89c40"/><path d="M146.01 133.73 L153.33 133.55 L153.55 141.39 L146.23 141.57 Z" fill="#f89c40"/><path d="M153.33 133.55 L160.66 133.37 L160.87 141.21 L153.55 141.39 Z" fill="#f89c40"/><path d="M160.66 133.37 L167.98 133.19 L168.19 141.03 L160.87 141.21 Z" fill="#f89c40"/><path d="M167.98 133.19 L175.3 133.02 L175.51 140.85 L168.19 141.03 Z" fill="#f89c40"/><path d="M175.3 133.02 L182.62 132.84 L182.82 140.68 L175.51 140.85 Z" fill="#fbad3c"/><path d="M182.62 132.84 L189.94 132.66 L190.14 140.5 L182.82 140.68 Z" fill="#fbad3c"/><path d="M189.94 132.66 L197.26 132.48 L197.46 140.32 L190.14 140.5 Z" fill="#fbad3c"/><path d="M197.26 132.48 L204.58 132.3 L204.78 140.14 L197.46 140.32 Z" fill="#f8c041"/><path d="M204.58 132.3 L211.9 132.13 L212.1 139.96 L204.78 140.14 Z" fill="#f8c041"/><path d="M211.9 132.13 L219.22 131.95 L219.42 139.78 L212.1 139.96 Z" fill="#f8c041"/><path d="M219.22 131.95 L226.54 131.77 L226.74 139.6 L219.42 139.78 Z" fill="#f8c041"/><path d="M226.54 131.77 L233.86 131.59 L234.05 139.42 L226.74 139.6 Z" fill="#f6d346"/><path d="M233.86 131.59 L241.18 131.41 L241.37 139.24 L234.05 139.42 Z" fill="#f6d346"/><path d="M241.18 131.41 L248.5 131.24 L248.69 139.07 L241.37 139.24 Z" fill="#f6d346"/><path d="M248.5 131.24 L255.82 131.06 L256.01 138.89 L248.69 139.07 Z" fill="#fbad3c"/><path d="M255.82 131.06 L263.14 130.88 L263.33 138.71 L256.01 138.89 Z" fill="#fbad3c"/><path d="M263.14 130.88 L270.46 130.7 L270.65 138.53 L263.33 138.71 Z" fill="#fbad3c"/><path d="M270.46 130.7 L277.78 130.52 L277.97 138.35 L270.65 138.53 Z" fill="#fbad3c"/><path d="M277.78 130.52 L285.1 130.35 L285.28 138.17 L277.97 138.35 Z" fill="#fbad3c"/><path d="M285.1 130.35 L292.42 130.17 L292.6 137.99 L285.28 138.17 Z" fill="#fbad3c"/><path d="M292.42 130.17 L299.74 129.99 L299.92 137.81 L292.6 137.99 Z" fill="#fbad3c"/><path d="M299.74 129.99 L307.06 129.81 L307.24 137.64 L299.92 137.81 Z" fill="#fbad3c"/><path d="M307.06 129.81 L314.39 129.63 L314.56 137.46 L307.24 137.64 Z" fill="#f68b45"/><path d="M314.39 129.63 L321.71 129.45 L321.88 137.28 L314.56 137.46 Z" fill="#eb7e53"/><path d="M321.71 129.45 L329.03 129.28 L329.2 137.1 L321.88 137.28 Z" fill="#e17161"/><path d="M329.03 129.28 L336.35 129.1 L336.51 136.92 L329.2 137.1 Z" fill="#d16a6d"/><path d="M336.35 129.1 L343.67 128.92 L343.83 136.74 L336.51 136.92 Z" fill="#d16a6d"/><path d="M343.67 128.92 L350.99 128.74 L351.15 136.56 L343.83 136.74 Z" fill="#c16479"/><path d="M350.99 128.74 L358.31 128.56 L358.47 136.38 L351.15 136.56 Z" fill="#c16479"/><path d="M358.31 128.56 L365.63 128.39 L365.79 136.2 L358.47 136.38 Z" fill="#c16479"/><path d="M365.63 128.39 L372.95 128.21 L373.11 136.03 L365.79 136.2 Z" fill="#b05e80"/><path d="M409.55 127.32 L416.87 127.14 L417.02 134.95 L409.7 135.13 Z" fill="#fbad3c"/><path d="M102.32 142.64 L109.64 142.46 L109.87 150.31 L102.55 150.49 Z" fill="#eb7e53"/><path d="M109.64 142.46 L116.96 142.28 L117.18 150.13 L109.87 150.31 Z" fill="#f89c40"/><path d="M116.96 142.28 L124.28 142.11 L124.5 149.95 L117.18 150.13 Z" fill="#f89c40"/><path d="M124.28 142.11 L131.6 141.93 L131.82 149.77 L124.5 149.95 Z" fill="#f89c40"/><path d="M131.6 141.93 L138.91 141.75 L139.13 149.59 L131.82 149.77 Z" fill="#f89c40"/><path d="M138.91 141.75 L146.23 141.57 L146.45 149.41 L139.13 149.59 Z" fill="#f89c40"/><path d="M146.23 141.57 L153.55 141.39 L153.77 149.23 L146.45 149.41 Z" fill="#f89c40"/><path d="M153.55 141.39 L160.87 141.21 L161.08 149.05 L153.77 149.23 Z" fill="#f89c40"/><path d="M160.87 141.21 L168.19 141.03 L168.4 148.87 L161.08 149.05 Z" fill="#f89c40"/><path d="M168.19 141.03 L175.51 140.85 L175.72 148.69 L168.4 148.87 Z" fill="#f89c40"/><path d="M175.51 140.85 L182.82 140.68 L183.03 148.51 L175.72 148.69 Z" fill="#f89c40"/><path d="M182.82 140.68 L190.14 140.5 L190.35 148.33 L183.03 148.51 Z" fill="#f89c40"/><path d="M190.14 140.5 L197.46 140.32 L197.67 148.15 L190.35 148.33 Z" fill="#f89c40"/><path d="M197.46 140.32 L204.78 140.14 L204.98 147.97 L197.67 148.15 Z" fill="#fbad3c"/><path d="M204.78 140.14 L212.1 139.96 L212.3 147.79 L204.98 147.97 Z" fill="#f8c041"/><path d="M212.1 139.96 L219.42 139.78 L219.62 147.61 L212.3 147.79 Z" fill="#fbad3c"/><path d="M219.42 139.78 L226.74 139.6 L226.93 147.43 L219.62 147.61 Z" fill="#fbad3c"/><path d="M226.74 139.6 L234.05 139.42 L234.25 147.25 L226.93 147.43 Z" fill="#fbad3c"/><path d="M234.05 139.42 L241.37 139.24 L241.57 147.08 L234.25 147.25 Z" fill="#fbad3c"/><path d="M241.37 139.24 L248.69 139.07 L248.88 146.9 L241.57 147.08 Z" fill="#fbad3c"/><path d="M248.69 139.07 L256.01 138.89 L256.2 146.72 L248.88 146.9 Z" fill="#fbad3c"/><path d="M256.01 138.89 L263.33 138.71 L263.52 146.54 L256.2 146.72 Z" fill="#fbad3c"/><path d="M263.33 138.71 L270.65 138.53 L270.83 146.36 L263.52 146.54 Z" fill="#fbad3c"/><path d="M270.65 138.53 L277.97 138.35 L278.15 146.18 L270.83 146.36 Z" fill="#fbad3c"/><path d="M277.97 138.35 L285.28 138.17 L285.47 146 L278.15 146.18 Z" fill="#fbad3c"/><path d="M285.28 138.17 L292.6 137.99 L292.78 145.82 L285.47 146 Z" fill="#f89c40"/><path d="M292.6 137.99 L299.92 137.81 L300.1 145.64 L292.78 145.82 Z" fill="#f89c40"/><path d="M299.92 137.81 L307.24 137.64 L307.42 145.46 L300.1 145.64 Z" fill="#f68b45"/><path d="M307.24 137.64 L314.56 137.46 L314.73 145.28 L307.42 145.46 Z" fill="#f68b45"/><path d="M314.56 137.46 L321.88 137.28 L322.05 145.1 L314.73 145.28 Z" fill="#e17161"/><path d="M321.88 137.28 L329.2 137.1 L329.37 144.92 L322.05 145.1 Z" fill="#d16a6d"/><path d="M329.2 137.1 L336.51 136.92 L336.68 144.74 L329.37 144.92 Z" fill="#c16479"/><path d="M336.51 136.92 L343.83 136.74 L344 144.56 L336.68 144.74 Z" fill="#c16479"/><path d="M343.83 136.74 L351.15 136.56 L351.32 144.38 L344 144.56 Z" fill="#c16479"/><path d="M351.15 136.56 L358.47 136.38 L358.63 144.2 L351.32 144.38 Z" fill="#b05e80"/><path d="M358.47 136.38 L365.79 136.2 L365.95 144.02 L358.63 144.2 Z" fill="#9e5987"/><path d="M409.7 135.13 L417.02 134.95 L417.17 142.77 L409.85 142.95 Z" fill="#fbad3c"/><path d="M102.55 150.49 L109.87 150.31 L110.09 158.15 L102.78 158.33 Z" fill="#eb7e53"/><path d="M109.87 150.31 L117.18 150.13 L117.41 157.97 L110.09 158.15 Z" fill="#f89c40"/><path d="M117.18 150.13 L124.5 149.95 L124.72 157.79 L117.41 157.97 Z" fill="#f89c40"/><path d="M124.5 149.95 L131.82 149.77 L132.04 157.61 L124.72 157.79 Z" fill="#f89c40"/><path d="M131.82 149.77 L139.13 149.59 L139.35 157.43 L132.04 157.61 Z" fill="#f89c40"/><path d="M139.13 149.59 L146.45 149.41 L146.67 157.25 L139.35 157.43 Z" fill="#f89c40"/><path d="M146.45 149.41 L153.77 149.23 L153.98 157.07 L146.67 157.25 Z" fill="#f89c40"/><path d="M153.77 149.23 L161.08 149.05 L161.3 156.89 L153.98 157.07 Z" fill="#f89c40"/><path d="M161.08 149.05 L168.4 148.87 L168.61 156.71 L161.3 156.89 Z" fill="#f89c40"/><path d="M168.4 148.87 L175.72 148.69 L175.93 156.53 L168.61 156.71 Z" fill="#f89c40"/><path d="M175.72 148.69 L183.03 148.51 L183.24 156.35 L175.93 156.53 Z" fill="#f89c40"/><path d="M183.03 148.51 L190.35 148.33 L190.56 156.17 L183.24 156.35 Z" fill="#f89c40"/><path d="M190.35 148.33 L197.67 148.15 L197.87 155.99 L190.56 156.17 Z" fill="#f89c40"/><path d="M197.67 148.15 L204.98 147.97 L205.19 155.81 L197.87 155.99 Z" fill="#fbad3c"/><path d="M204.98 147.97 L212.3 147.79 L212.5 155.63 L205.19 155.81 Z" fill="#fbad3c"/><path d="M212.3 147.79 L219.62 147.61 L219.82 155.45 L212.5 155.63 Z" fill="#fbad3c"/><path d="M219.62 147.61 L226.93 147.43 L227.13 155.27 L219.82 155.45 Z" fill="#fbad3c"/><path d="M226.93 147.43 L234.25 147.25 L234.44 155.09 L227.13 155.27 Z" fill="#fbad3c"/><path d="M234.25 147.25 L241.57 147.08 L241.76 154.91 L234.44 155.09 Z" fill="#fbad3c"/><path d="M241.57 147.08 L248.88 146.9 L249.07 154.73 L241.76 154.91 Z" fill="#fbad3c"/><path d="M248.88 146.9 L256.2 146.72 L256.39 154.55 L249.07 154.73 Z" fill="#f89c40"/><path d="M256.2 146.72 L263.52 146.54 L263.7 154.37 L256.39 154.55 Z" fill="#f89c40"/><path d="M263.52 146.54 L270.83 146.36 L271.02 154.19 L263.7 154.37 Z" fill="#f89c40"/><path d="M270.83 146.36 L278.15 146.18 L278.33 154 L271.02 154.19 Z" fill="#f89c40"/><path d="M278.15 146.18 L285.47 146 L285.65 153.82 L278.33 154 Z" fill="#f89c40"/><path d="M285.47 146 L292.78 145.82 L292.96 153.64 L285.65 153.82 Z" fill="#f89c40"/><path d="M292.78 145.82 L300.1 145.64 L300.28 153.46 L292.96 153.64 Z" fill="#f89c40"/><path d="M300.1 145.64 L307.42 145.46 L307.59 153.28 L300.28 153.46 Z" fill="#f68b45"/><path d="M307.42 145.46 L314.73 145.28 L314.91 153.1 L307.59 153.28 Z" fill="#eb7e53"/><path d="M314.73 145.28 L322.05 145.1 L322.22 152.92 L314.91 153.1 Z" fill="#d16a6d"/><path d="M322.05 145.1 L329.37 144.92 L329.54 152.74 L322.22 152.92 Z" fill="#c16479"/><path d="M329.37 144.92 L336.68 144.74 L336.85 152.56 L329.54 152.74 Z" fill="#c16479"/><path d="M336.68 144.74 L344 144.56 L344.17 152.38 L336.85 152.56 Z" fill="#b05e80"/><path d="M344 144.56 L351.32 144.38 L351.48 152.2 L344.17 152.38 Z" fill="#9e5987"/><path d="M351.32 144.38 L358.63 144.2 L358.8 152.02 L351.48 152.2 Z" fill="#8e538b"/><path d="M358.63 144.2 L365.95 144.02 L366.11 151.84 L358.8 152.02 Z" fill="#6e4694"/><path d="M402.53 143.12 L409.85 142.95 L410 150.76 L402.68 150.94 Z" fill="#f89c40"/><path d="M409.85 142.95 L417.17 142.77 L417.31 150.58 L410 150.76 Z" fill="#fbad3c"/><path d="M102.78 158.33 L110.09 158.15 L110.32 166 L103.01 166.18 Z" fill="#eb7e53"/><path d="M110.09 158.15 L117.41 157.97 L117.64 165.81 L110.32 166 Z" fill="#eb7e53"/><path d="M117.41 157.97 L124.72 157.79 L124.95 165.63 L117.64 165.81 Z" fill="#f68b45"/><path d="M124.72 157.79 L132.04 157.61 L132.26 165.45 L124.95 165.63 Z" fill="#f68b45"/><path d="M132.04 157.61 L139.35 157.43 L139.57 165.27 L132.26 165.45 Z" fill="#f68b45"/><path d="M139.35 157.43 L146.67 157.25 L146.89 165.09 L139.57 165.27 Z" fill="#f68b45"/><path d="M146.67 157.25 L153.98 157.07 L154.2 164.91 L146.89 165.09 Z" fill="#f68b45"/><path d="M153.98 157.07 L161.3 156.89 L161.51 164.73 L154.2 164.91 Z" fill="#f68b45"/><path d="M161.3 156.89 L168.61 156.71 L168.82 164.55 L161.51 164.73 Z" fill="#f68b45"/><path d="M168.61 156.71 L175.93 156.53 L176.14 164.37 L168.82 164.55 Z" fill="#f68b45"/><path d="M175.93 156.53 L183.24 156.35 L183.45 164.19 L176.14 164.37 Z" fill="#f68b45"/><path d="M183.24 156.35 L190.56 156.17 L190.76 164 L183.45 164.19 Z" fill="#f68b45"/><path d="M190.56 156.17 L197.87 155.99 L198.08 163.82 L190.76 164 Z" fill="#f68b45"/><path d="M197.87 155.99 L205.19 155.81 L205.39 163.64 L198.08 163.82 Z" fill="#f89c40"/><path d="M205.19 155.81 L212.5 155.63 L212.7 163.46 L205.39 163.64 Z" fill="#f89c40"/><path d="M212.5 155.63 L219.82 155.45 L220.01 163.28 L212.7 163.46 Z" fill="#f89c40"/><path d="M219.82 155.45 L227.13 155.27 L227.33 163.1 L220.01 163.28 Z" fill="#fbad3c"/><path d="M227.13 155.27 L234.44 155.09 L234.64 162.92 L227.33 163.1 Z" fill="#fbad3c"/><path d="M234.44 155.09 L241.76 154.91 L241.95 162.74 L234.64 162.92 Z" fill="#fbad3c"/><path d="M241.76 154.91 L249.07 154.73 L249.27 162.56 L241.95 162.74 Z" fill="#f8c041"/><path d="M249.07 154.73 L256.39 154.55 L256.58 162.38 L249.27 162.56 Z" fill="#f8c041"/><path d="M256.39 154.55 L263.7 154.37 L263.89 162.19 L256.58 162.38 Z" fill="#f8c041"/><path d="M263.7 154.37 L271.02 154.19 L271.2 162.01 L263.89 162.19 Z" fill="#f8c041"/><path d="M271.02 154.19 L278.33 154 L278.52 161.83 L271.2 162.01 Z" fill="#f8c041"/><path d="M278.33 154 L285.65 153.82 L285.83 161.65 L278.52 161.83 Z" fill="#f8c041"/><path d="M285.65 153.82 L292.96 153.64 L293.14 161.47 L285.83 161.65 Z" fill="#f89c40"/><path d="M292.96 153.64 L300.28 153.46 L300.46 161.29 L293.14 161.47 Z" fill="#f89c40"/><path d="M300.28 153.46 L307.59 153.28 L307.77 161.11 L300.46 161.29 Z" fill="#f68b45"/><path d="M307.59 153.28 L314.91 153.1 L315.08 160.93 L307.77 161.11 Z" fill="#f68b45"/><path d="M314.91 153.1 L322.22 152.92 L322.39 160.75 L315.08 160.93 Z" fill="#e17161"/><path d="M322.22 152.92 L329.54 152.74 L329.71 160.56 L322.39 160.75 Z" fill="#d16a6d"/><path d="M329.54 152.74 L336.85 152.56 L337.02 160.38 L329.71 160.56 Z" fill="#c16479"/><path d="M336.85 152.56 L344.17 152.38 L344.33 160.2 L337.02 160.38 Z" fill="#b05e80"/><path d="M344.17 152.38 L351.48 152.2 L351.64 160.02 L344.33 160.2 Z" fill="#8e538b"/><path d="M351.48 152.2 L358.8 152.02 L358.96 159.84 L351.64 160.02 Z" fill="#7e4d8f"/><path d="M402.68 150.94 L410 150.76 L410.15 158.57 L402.83 158.75 Z" fill="#f89c40"/><path d="M410 150.76 L417.31 150.58 L417.46 158.39 L410.15 158.57 Z" fill="#fbad3c"/><path d="M103.01 166.18 L110.32 166 L110.55 173.84 L103.24 174.02 Z" fill="#e17161"/><path d="M110.32 166 L117.64 165.81 L117.86 173.66 L110.55 173.84 Z" fill="#eb7e53"/><path d="M117.64 165.81 L124.95 165.63 L125.17 173.48 L117.86 173.66 Z" fill="#eb7e53"/><path d="M124.95 165.63 L132.26 165.45 L132.48 173.29 L125.17 173.48 Z" fill="#eb7e53"/><path d="M132.26 165.45 L139.57 165.27 L139.79 173.11 L132.48 173.29 Z" fill="#eb7e53"/><path d="M139.57 165.27 L146.89 165.09 L147.1 172.93 L139.79 173.11 Z" fill="#eb7e53"/><path d="M146.89 165.09 L154.2 164.91 L154.42 172.75 L147.1 172.93 Z" fill="#eb7e53"/><path d="M154.2 164.91 L161.51 164.73 L161.73 172.57 L154.42 172.75 Z" fill="#f68b45"/><path d="M161.51 164.73 L168.82 164.55 L169.04 172.39 L161.73 172.57 Z" fill="#f68b45"/><path d="M168.82 164.55 L176.14 164.37 L176.35 172.2 L169.04 172.39 Z" fill="#f68b45"/><path d="M176.14 164.37 L183.45 164.19 L183.66 172.02 L176.35 172.2 Z" fill="#f68b45"/><path d="M183.45 164.19 L190.76 164 L190.97 171.84 L183.66 172.02 Z" fill="#f68b45"/><path d="M190.76 164 L198.08 163.82 L198.28 171.66 L190.97 171.84 Z" fill="#f68b45"/><path d="M198.08 163.82 L205.39 163.64 L205.59 171.48 L198.28 171.66 Z" fill="#f89c40"/><path d="M205.39 163.64 L212.7 163.46 L212.9 171.3 L205.59 171.48 Z" fill="#f89c40"/><path d="M212.7 163.46 L220.01 163.28 L220.21 171.11 L212.9 171.3 Z" fill="#f89c40"/><path d="M220.01 163.28 L227.33 163.1 L227.52 170.93 L220.21 171.11 Z" fill="#fbad3c"/><path d="M227.33 163.1 L234.64 162.92 L234.84 170.75 L227.52 170.93 Z" fill="#fbad3c"/><path d="M234.64 162.92 L241.95 162.74 L242.15 170.57 L234.84 170.75 Z" fill="#fbad3c"/><path d="M241.95 162.74 L249.27 162.56 L249.46 170.39 L242.15 170.57 Z" fill="#f8c041"/><path d="M249.27 162.56 L256.58 162.38 L256.77 170.2 L249.46 170.39 Z" fill="#f8c041"/><path d="M256.58 162.38 L263.89 162.19 L264.08 170.02 L256.77 170.2 Z" fill="#f8c041"/><path d="M263.89 162.19 L271.2 162.01 L271.39 169.84 L264.08 170.02 Z" fill="#f8c041"/><path d="M271.2 162.01 L278.52 161.83 L278.7 169.66 L271.39 169.84 Z" fill="#f8c041"/><path d="M278.52 161.83 L285.83 161.65 L286.01 169.48 L278.7 169.66 Z" fill="#fbad3c"/><path d="M285.83 161.65 L293.14 161.47 L293.32 169.3 L286.01 169.48 Z" fill="#f89c40"/><path d="M293.14 161.47 L300.46 161.29 L300.63 169.11 L293.32 169.3 Z" fill="#f68b45"/><path d="M300.46 161.29 L307.77 161.11 L307.94 168.93 L300.63 169.11 Z" fill="#eb7e53"/><path d="M307.77 161.11 L315.08 160.93 L315.25 168.75 L307.94 168.93 Z" fill="#eb7e53"/><path d="M315.08 160.93 L322.39 160.75 L322.57 168.57 L315.25 168.75 Z" fill="#d16a6d"/><path d="M322.39 160.75 L329.71 160.56 L329.88 168.39 L322.57 168.57 Z" fill="#d16a6d"/><path d="M329.71 160.56 L337.02 160.38 L337.19 168.21 L329.88 168.39 Z" fill="#b05e80"/><path d="M337.02 160.38 L344.33 160.2 L344.5 168.02 L337.19 168.21 Z" fill="#9e5987"/><path d="M344.33 160.2 L351.64 160.02 L351.81 167.84 L344.5 168.02 Z" fill="#7e4d8f"/><path d="M351.64 160.02 L358.96 159.84 L359.12 167.66 L351.81 167.84 Z" fill="#49389a"/><path d="M402.83 158.75 L410.15 158.57 L410.3 166.39 L402.99 166.57 Z" fill="#f89c40"/><path d="M410.15 158.57 L417.46 158.39 L417.61 166.21 L410.3 166.39 Z" fill="#fbad3c"/><path d="M103.24 174.02 L110.55 173.84 L110.78 181.68 L103.47 181.87 Z" fill="#d16a6d"/><path d="M110.55 173.84 L117.86 173.66 L118.09 181.5 L110.78 181.68 Z" fill="#e17161"/><path d="M117.86 173.66 L125.17 173.48 L125.4 181.32 L118.09 181.5 Z" fill="#e17161"/><path d="M125.17 173.48 L132.48 173.29 L132.7 181.14 L125.4 181.32 Z" fill="#e17161"/><path d="M132.48 173.29 L139.79 173.11 L140.01 180.95 L132.7 181.14 Z" fill="#e17161"/><path d="M139.79 173.11 L147.1 172.93 L147.32 180.77 L140.01 180.95 Z" fill="#e17161"/><path d="M147.1 172.93 L154.42 172.75 L154.63 180.59 L147.32 180.77 Z" fill="#eb7e53"/><path d="M154.42 172.75 L161.73 172.57 L161.94 180.41 L154.63 180.59 Z" fill="#eb7e53"/><path d="M161.73 172.57 L169.04 172.39 L169.25 180.22 L161.94 180.41 Z" fill="#eb7e53"/><path d="M169.04 172.39 L176.35 172.2 L176.56 180.04 L169.25 180.22 Z" fill="#eb7e53"/><path d="M176.35 172.2 L183.66 172.02 L183.87 179.86 L176.56 180.04 Z" fill="#eb7e53"/><path d="M183.66 172.02 L190.97 171.84 L191.18 179.68 L183.87 179.86 Z" fill="#eb7e53"/><path d="M190.97 171.84 L198.28 171.66 L198.49 179.49 L191.18 179.68 Z" fill="#eb7e53"/><path d="M198.28 171.66 L205.59 171.48 L205.79 179.31 L198.49 179.49 Z" fill="#f89c40"/><path d="M205.59 171.48 L212.9 171.3 L213.1 179.13 L205.79 179.31 Z" fill="#f89c40"/><path d="M212.9 171.3 L220.21 171.11 L220.41 178.95 L213.1 179.13 Z" fill="#f89c40"/><path d="M220.21 171.11 L227.52 170.93 L227.72 178.76 L220.41 178.95 Z" fill="#f89c40"/><path d="M227.52 170.93 L234.84 170.75 L235.03 178.58 L227.72 178.76 Z" fill="#fbad3c"/><path d="M234.84 170.75 L242.15 170.57 L242.34 178.4 L235.03 178.58 Z" fill="#fbad3c"/><path d="M242.15 170.57 L249.46 170.39 L249.65 178.22 L242.34 178.4 Z" fill="#f8c041"/><path d="M249.46 170.39 L256.77 170.2 L256.96 178.03 L249.65 178.22 Z" fill="#f8c041"/><path d="M256.77 170.2 L264.08 170.02 L264.27 177.85 L256.96 178.03 Z" fill="#f8c041"/><path d="M264.08 170.02 L271.39 169.84 L271.57 177.67 L264.27 177.85 Z" fill="#f8c041"/><path d="M271.39 169.84 L278.7 169.66 L278.88 177.49 L271.57 177.67 Z" fill="#fbad3c"/><path d="M278.7 169.66 L286.01 169.48 L286.19 177.3 L278.88 177.49 Z" fill="#fbad3c"/><path d="M286.01 169.48 L293.32 169.3 L293.5 177.12 L286.19 177.3 Z" fill="#f68b45"/><path d="M293.32 169.3 L300.63 169.11 L300.81 176.94 L293.5 177.12 Z" fill="#eb7e53"/><path d="M300.63 169.11 L307.94 168.93 L308.12 176.76 L300.81 176.94 Z" fill="#e17161"/><path d="M307.94 168.93 L315.25 168.75 L315.43 176.57 L308.12 176.76 Z" fill="#e17161"/><path d="M315.25 168.75 L322.57 168.57 L322.74 176.39 L315.43 176.57 Z" fill="#d16a6d"/><path d="M322.57 168.57 L329.88 168.39 L330.05 176.21 L322.74 176.39 Z" fill="#c16479"/><path d="M329.88 168.39 L337.19 168.21 L337.36 176.03 L330.05 176.21 Z" fill="#9e5987"/><path d="M337.19 168.21 L344.5 168.02 L344.66 175.84 L337.36 176.03 Z" fill="#8e538b"/><path d="M344.5 168.02 L351.81 167.84 L351.97 175.66 L344.66 175.84 Z" fill="#213180"/><path d="M351.81 167.84 L359.12 167.66 L359.28 175.48 L351.97 175.66 Z" fill="#213180"/><path d="M402.99 166.57 L410.3 166.39 L410.45 174.2 L403.14 174.38 Z" fill="#f89c40"/><path d="M410.3 166.39 L417.61 166.21 L417.75 174.02 L410.45 174.2 Z" fill="#f8c041"/><path d="M103.47 181.87 L110.78 181.68 L111.01 189.53 L103.7 189.71 Z" fill="#c16479"/><path d="M110.78 181.68 L118.09 181.5 L118.31 189.34 L111.01 189.53 Z" fill="#c16479"/><path d="M118.09 181.5 L125.4 181.32 L125.62 189.16 L118.31 189.34 Z" fill="#d16a6d"/><path d="M125.4 181.32 L132.7 181.14 L132.93 188.98 L125.62 189.16 Z" fill="#d16a6d"/><path d="M132.7 181.14 L140.01 180.95 L140.23 188.79 L132.93 188.98 Z" fill="#d16a6d"/><path d="M140.01 180.95 L147.32 180.77 L147.54 188.61 L140.23 188.79 Z" fill="#d16a6d"/><path d="M147.32 180.77 L154.63 180.59 L154.85 188.43 L147.54 188.61 Z" fill="#e17161"/><path d="M154.63 180.59 L161.94 180.41 L162.15 188.25 L154.85 188.43 Z" fill="#e17161"/><path d="M161.94 180.41 L169.25 180.22 L169.46 188.06 L162.15 188.25 Z" fill="#e17161"/><path d="M169.25 180.22 L176.56 180.04 L176.77 187.88 L169.46 188.06 Z" fill="#e17161"/><path d="M176.56 180.04 L183.87 179.86 L184.08 187.7 L176.77 187.88 Z" fill="#e17161"/><path d="M183.87 179.86 L191.18 179.68 L191.38 187.51 L184.08 187.7 Z" fill="#e17161"/><path d="M191.18 179.68 L198.49 179.49 L198.69 187.33 L191.38 187.51 Z" fill="#eb7e53"/><path d="M198.49 179.49 L205.79 179.31 L206 187.15 L198.69 187.33 Z" fill="#eb7e53"/><path d="M205.79 179.31 L213.1 179.13 L213.3 186.96 L206 187.15 Z" fill="#f89c40"/><path d="M213.1 179.13 L220.41 178.95 L220.61 186.78 L213.3 186.96 Z" fill="#f89c40"/><path d="M220.41 178.95 L227.72 178.76 L227.92 186.6 L220.61 186.78 Z" fill="#f89c40"/><path d="M227.72 178.76 L235.03 178.58 L235.23 186.41 L227.92 186.6 Z" fill="#fbad3c"/><path d="M235.03 178.58 L242.34 178.4 L242.53 186.23 L235.23 186.41 Z" fill="#fbad3c"/><path d="M242.34 178.4 L249.65 178.22 L249.84 186.05 L242.53 186.23 Z" fill="#f8c041"/><path d="M249.65 178.22 L256.96 178.03 L257.15 185.86 L249.84 186.05 Z" fill="#f8c041"/><path d="M256.96 178.03 L264.27 177.85 L264.45 185.68 L257.15 185.86 Z" fill="#fbad3c"/><path d="M264.27 177.85 L271.57 177.67 L271.76 185.5 L264.45 185.68 Z" fill="#fbad3c"/><path d="M271.57 177.67 L278.88 177.49 L279.07 185.31 L271.76 185.5 Z" fill="#f89c40"/><path d="M278.88 177.49 L286.19 177.3 L286.37 185.13 L279.07 185.31 Z" fill="#f89c40"/><path d="M286.19 177.3 L293.5 177.12 L293.68 184.95 L286.37 185.13 Z" fill="#eb7e53"/><path d="M293.5 177.12 L300.81 176.94 L300.99 184.76 L293.68 184.95 Z" fill="#8e538b"/><path d="M300.81 176.94 L308.12 176.76 L308.3 184.58 L300.99 184.76 Z" fill="#8e538b"/><path d="M308.12 176.76 L315.43 176.57 L315.6 184.4 L308.3 184.58 Z" fill="#9e5987"/><path d="M315.43 176.57 L322.74 176.39 L322.91 184.21 L315.6 184.4 Z" fill="#b05e80"/><path d="M322.74 176.39 L330.05 176.21 L330.22 184.03 L322.91 184.21 Z" fill="#9e5987"/><path d="M330.05 176.21 L337.36 176.03 L337.52 183.85 L330.22 184.03 Z" fill="#6e4694"/><path d="M337.36 176.03 L344.66 175.84 L344.83 183.66 L337.52 183.85 Z" fill="#213180"/><path d="M403.14 174.38 L410.45 174.2 L410.59 182.02 L403.29 182.2 Z" fill="#f89c40"/><path d="M410.45 174.2 L417.75 174.02 L417.9 181.83 L410.59 182.02 Z" fill="#f8c041"/><path d="M103.7 189.71 L111.01 189.53 L111.23 197.37 L103.93 197.56 Z" fill="#9e5987"/><path d="M111.01 189.53 L118.31 189.34 L118.54 197.19 L111.23 197.37 Z" fill="#b05e80"/><path d="M118.31 189.34 L125.62 189.16 L125.84 197 L118.54 197.19 Z" fill="#b05e80"/><path d="M125.62 189.16 L132.93 188.98 L133.15 196.82 L125.84 197 Z" fill="#c16479"/><path d="M132.93 188.98 L140.23 188.79 L140.45 196.64 L133.15 196.82 Z" fill="#c16479"/><path d="M140.23 188.79 L147.54 188.61 L147.76 196.45 L140.45 196.64 Z" fill="#c16479"/><path d="M147.54 188.61 L154.85 188.43 L155.06 196.27 L147.76 196.45 Z" fill="#d16a6d"/><path d="M154.85 188.43 L162.15 188.25 L162.37 196.08 L155.06 196.27 Z" fill="#d16a6d"/><path d="M162.15 188.25 L169.46 188.06 L169.67 195.9 L162.37 196.08 Z" fill="#d16a6d"/><path d="M169.46 188.06 L176.77 187.88 L176.98 195.72 L169.67 195.9 Z" fill="#e17161"/><path d="M176.77 187.88 L184.08 187.7 L184.28 195.53 L176.98 195.72 Z" fill="#e17161"/><path d="M184.08 187.7 L191.38 187.51 L191.59 195.35 L184.28 195.53 Z" fill="#e17161"/><path d="M191.38 187.51 L198.69 187.33 L198.89 195.16 L191.59 195.35 Z" fill="#e17161"/><path d="M198.69 187.33 L206 187.15 L206.2 194.98 L198.89 195.16 Z" fill="#e17161"/><path d="M206 187.15 L213.3 186.96 L213.5 194.8 L206.2 194.98 Z" fill="#eb7e53"/><path d="M213.3 186.96 L220.61 186.78 L220.81 194.61 L213.5 194.8 Z" fill="#f68b45"/><path d="M220.61 186.78 L227.92 186.6 L228.12 194.43 L220.81 194.61 Z" fill="#f68b45"/><path d="M227.92 186.6 L235.23 186.41 L235.42 194.24 L228.12 194.43 Z" fill="#f89c40"/><path d="M235.23 186.41 L242.53 186.23 L242.73 194.06 L235.42 194.24 Z" fill="#f89c40"/><path d="M242.53 186.23 L249.84 186.05 L250.03 193.88 L242.73 194.06 Z" fill="#f89c40"/><path d="M249.84 186.05 L257.15 185.86 L257.34 193.69 L250.03 193.88 Z" fill="#f89c40"/><path d="M257.15 185.86 L264.45 185.68 L264.64 193.51 L257.34 193.69 Z" fill="#f89c40"/><path d="M264.45 185.68 L271.76 185.5 L271.95 193.32 L264.64 193.51 Z" fill="#f68b45"/><path d="M271.76 185.5 L279.07 185.31 L279.25 193.14 L271.95 193.32 Z" fill="#f68b45"/><path d="M279.07 185.31 L286.37 185.13 L286.56 192.96 L279.25 193.14 Z" fill="#eb7e53"/><path d="M286.37 185.13 L293.68 184.95 L293.86 192.77 L286.56 192.96 Z" fill="#e17161"/><path d="M293.68 184.95 L300.99 184.76 L301.17 192.59 L293.86 192.77 Z" fill="#7e4d8f"/><path d="M300.99 184.76 L308.3 184.58 L308.47 192.4 L301.17 192.59 Z" fill="#7e4d8f"/><path d="M308.3 184.58 L315.6 184.4 L315.78 192.22 L308.47 192.4 Z" fill="#7e4d8f"/><path d="M315.6 184.4 L322.91 184.21 L323.08 192.04 L315.78 192.22 Z" fill="#8e538b"/><path d="M322.91 184.21 L330.22 184.03 L330.39 191.85 L323.08 192.04 Z" fill="#8e538b"/><path d="M330.22 184.03 L337.52 183.85 L337.69 191.67 L330.39 191.85 Z" fill="#5d3e99"/><path d="M337.52 183.85 L344.83 183.66 L345 191.49 L337.69 191.67 Z" fill="#032333"/><path d="M403.29 182.2 L410.59 182.02 L410.74 189.83 L403.44 190.01 Z" fill="#f89c40"/><path d="M410.59 182.02 L417.9 181.83 L418.05 189.65 L410.74 189.83 Z" fill="#f8c041"/><path d="M103.93 197.56 L111.23 197.37 L111.46 205.22 L104.16 205.4 Z" fill="#8e538b"/><path d="M111.23 197.37 L118.54 197.19 L118.76 205.03 L111.46 205.22 Z" fill="#8e538b"/><path d="M118.54 197.19 L125.84 197 L126.07 204.85 L118.76 205.03 Z" fill="#9e5987"/><path d="M125.84 197 L133.15 196.82 L133.37 204.66 L126.07 204.85 Z" fill="#9e5987"/><path d="M133.15 196.82 L140.45 196.64 L140.67 204.48 L133.37 204.66 Z" fill="#b05e80"/><path d="M140.45 196.64 L147.76 196.45 L147.98 204.29 L140.67 204.48 Z" fill="#b05e80"/><path d="M147.76 196.45 L155.06 196.27 L155.28 204.11 L147.98 204.29 Z" fill="#c16479"/><path d="M155.06 196.27 L162.37 196.08 L162.58 203.92 L155.28 204.11 Z" fill="#c16479"/><path d="M162.37 196.08 L169.67 195.9 L169.89 203.74 L162.58 203.92 Z" fill="#d16a6d"/><path d="M169.67 195.9 L176.98 195.72 L177.19 203.55 L169.89 203.74 Z" fill="#e17161"/><path d="M176.98 195.72 L184.28 195.53 L184.49 203.37 L177.19 203.55 Z" fill="#e17161"/><path d="M184.28 195.53 L191.59 195.35 L191.8 203.18 L184.49 203.37 Z" fill="#eb7e53"/><path d="M191.59 195.35 L198.89 195.16 L199.1 203 L191.8 203.18 Z" fill="#eb7e53"/><path d="M198.89 195.16 L206.2 194.98 L206.4 202.81 L199.1 203 Z" fill="#f68b45"/><path d="M206.2 194.98 L213.5 194.8 L213.71 202.63 L206.4 202.81 Z" fill="#f68b45"/><path d="M213.5 194.8 L220.81 194.61 L221.01 202.45 L213.71 202.63 Z" fill="#fbad3c"/><path d="M220.81 194.61 L228.12 194.43 L228.31 202.26 L221.01 202.45 Z" fill="#fbad3c"/><path d="M228.12 194.43 L235.42 194.24 L235.62 202.08 L228.31 202.26 Z" fill="#f8c041"/><path d="M235.42 194.24 L242.73 194.06 L242.92 201.89 L235.62 202.08 Z" fill="#f8c041"/><path d="M242.73 194.06 L250.03 193.88 L250.22 201.71 L242.92 201.89 Z" fill="#f8c041"/><path d="M250.03 193.88 L257.34 193.69 L257.52 201.52 L250.22 201.71 Z" fill="#fbad3c"/><path d="M257.34 193.69 L264.64 193.51 L264.83 201.34 L257.52 201.52 Z" fill="#fbad3c"/><path d="M264.64 193.51 L271.95 193.32 L272.13 201.15 L264.83 201.34 Z" fill="#f89c40"/><path d="M271.95 193.32 L279.25 193.14 L279.43 200.97 L272.13 201.15 Z" fill="#f68b45"/><path d="M279.25 193.14 L286.56 192.96 L286.74 200.78 L279.43 200.97 Z" fill="#eb7e53"/><path d="M286.56 192.96 L293.86 192.77 L294.04 200.6 L286.74 200.78 Z" fill="#d16a6d"/><path d="M293.86 192.77 L301.17 192.59 L301.34 200.41 L294.04 200.6 Z" fill="#8e538b"/><path d="M301.17 192.59 L308.47 192.4 L308.65 200.23 L301.34 200.41 Z" fill="#7e4d8f"/><path d="M308.47 192.4 L315.78 192.22 L315.95 200.04 L308.65 200.23 Z" fill="#6e4694"/><path d="M315.78 192.22 L323.08 192.04 L323.25 199.86 L315.95 200.04 Z" fill="#7e4d8f"/><path d="M323.08 192.04 L330.39 191.85 L330.56 199.68 L323.25 199.86 Z" fill="#7e4d8f"/><path d="M330.39 191.85 L337.69 191.67 L337.86 199.49 L330.56 199.68 Z" fill="#35329b"/><path d="M337.69 191.67 L345 191.49 L345.16 199.31 L337.86 199.49 Z" fill="#032333"/><path d="M403.44 190.01 L410.74 189.83 L410.89 197.64 L403.59 197.83 Z" fill="#f89c40"/><path d="M410.74 189.83 L418.05 189.65 L418.2 197.46 L410.89 197.64 Z" fill="#fbad3c"/><path d="M104.16 205.4 L111.46 205.22 L111.69 213.06 L104.39 213.25 Z" fill="#7e4d8f"/><path d="M111.46 205.22 L118.76 205.03 L118.99 212.87 L111.69 213.06 Z" fill="#8e538b"/><path d="M118.76 205.03 L126.07 204.85 L126.29 212.69 L118.99 212.87 Z" fill="#8e538b"/><path d="M126.07 204.85 L133.37 204.66 L133.59 212.5 L126.29 212.69 Z" fill="#9e5987"/><path d="M133.37 204.66 L140.67 204.48 L140.89 212.32 L133.59 212.5 Z" fill="#b05e80"/><path d="M140.67 204.48 L147.98 204.29 L148.2 212.13 L140.89 212.32 Z" fill="#c16479"/><path d="M147.98 204.29 L155.28 204.11 L155.5 211.95 L148.2 212.13 Z" fill="#c16479"/><path d="M155.28 204.11 L162.58 203.92 L162.8 211.76 L155.5 211.95 Z" fill="#d16a6d"/><path d="M162.58 203.92 L169.89 203.74 L170.1 211.58 L162.8 211.76 Z" fill="#d16a6d"/><path d="M169.89 203.74 L177.19 203.55 L177.4 211.39 L170.1 211.58 Z" fill="#e17161"/><path d="M177.19 203.55 L184.49 203.37 L184.7 211.21 L177.4 211.39 Z" fill="#e17161"/><path d="M184.49 203.37 L191.8 203.18 L192 211.02 L184.7 211.21 Z" fill="#eb7e53"/><path d="M191.8 203.18 L199.1 203 L199.3 210.83 L192 211.02 Z" fill="#eb7e53"/><path d="M199.1 203 L206.4 202.81 L206.61 210.65 L199.3 210.83 Z" fill="#f68b45"/><path d="M206.4 202.81 L213.71 202.63 L213.91 210.46 L206.61 210.65 Z" fill="#f68b45"/><path d="M213.71 202.63 L221.01 202.45 L221.21 210.28 L213.91 210.46 Z" fill="#fbad3c"/><path d="M221.01 202.45 L228.31 202.26 L228.51 210.09 L221.21 210.28 Z" fill="#fbad3c"/><path d="M228.31 202.26 L235.62 202.08 L235.81 209.91 L228.51 210.09 Z" fill="#f8c041"/><path d="M235.62 202.08 L242.92 201.89 L243.11 209.72 L235.81 209.91 Z" fill="#f8c041"/><path d="M242.92 201.89 L250.22 201.71 L250.41 209.54 L243.11 209.72 Z" fill="#f8c041"/><path d="M250.22 201.71 L257.52 201.52 L257.71 209.35 L250.41 209.54 Z" fill="#fbad3c"/><path d="M257.52 201.52 L264.83 201.34 L265.02 209.17 L257.71 209.35 Z" fill="#fbad3c"/><path d="M264.83 201.34 L272.13 201.15 L272.32 208.98 L265.02 209.17 Z" fill="#f89c40"/><path d="M272.13 201.15 L279.43 200.97 L279.62 208.8 L272.32 208.98 Z" fill="#f68b45"/><path d="M279.43 200.97 L286.74 200.78 L286.92 208.61 L279.62 208.8 Z" fill="#eb7e53"/><path d="M286.74 200.78 L294.04 200.6 L294.22 208.42 L286.92 208.61 Z" fill="#d16a6d"/><path d="M294.04 200.6 L301.34 200.41 L301.52 208.24 L294.22 208.42 Z" fill="#8e538b"/><path d="M301.34 200.41 L308.65 200.23 L308.82 208.05 L301.52 208.24 Z" fill="#7e4d8f"/><path d="M308.65 200.23 L315.95 200.04 L316.12 207.87 L308.82 208.05 Z" fill="#6e4694"/><path d="M315.95 200.04 L323.25 199.86 L323.43 207.68 L316.12 207.87 Z" fill="#7e4d8f"/><path d="M323.25 199.86 L330.56 199.68 L330.73 207.5 L323.43 207.68 Z" fill="#6e4694"/><path d="M330.56 199.68 L337.86 199.49 L338.03 207.31 L330.73 207.5 Z" fill="#49389a"/><path d="M337.86 199.49 L345.16 199.31 L345.33 207.13 L338.03 207.31 Z" fill="#032333"/><path d="M403.59 197.83 L410.89 197.64 L411.04 205.46 L403.74 205.64 Z" fill="#f89c40"/><path d="M410.89 197.64 L418.2 197.46 L418.34 205.27 L411.04 205.46 Z" fill="#fbad3c"/><path d="M104.39 213.25 L111.69 213.06 L111.92 220.9 L104.62 221.09 Z" fill="#7e4d8f"/><path d="M111.69 213.06 L118.99 212.87 L119.22 220.72 L111.92 220.9 Z" fill="#7e4d8f"/><path d="M118.99 212.87 L126.29 212.69 L126.52 220.53 L119.22 220.72 Z" fill="#8e538b"/><path d="M126.29 212.69 L133.59 212.5 L133.81 220.35 L126.52 220.53 Z" fill="#9e5987"/><path d="M133.59 212.5 L140.89 212.32 L141.11 220.16 L133.81 220.35 Z" fill="#b05e80"/><path d="M140.89 212.32 L148.2 212.13 L148.41 219.97 L141.11 220.16 Z" fill="#c16479"/><path d="M148.2 212.13 L155.5 211.95 L155.71 219.79 L148.41 219.97 Z" fill="#d16a6d"/><path d="M155.5 211.95 L162.8 211.76 L163.01 219.6 L155.71 219.79 Z" fill="#d16a6d"/><path d="M162.8 211.76 L170.1 211.58 L170.31 219.41 L163.01 219.6 Z" fill="#d16a6d"/><path d="M170.1 211.58 L177.4 211.39 L177.61 219.23 L170.31 219.41 Z" fill="#e17161"/><path d="M177.4 211.39 L184.7 211.21 L184.91 219.04 L177.61 219.23 Z" fill="#e17161"/><path d="M184.7 211.21 L192 211.02 L192.21 218.86 L184.91 219.04 Z" fill="#eb7e53"/><path d="M192 211.02 L199.3 210.83 L199.51 218.67 L192.21 218.86 Z" fill="#eb7e53"/><path d="M199.3 210.83 L206.61 210.65 L206.81 218.48 L199.51 218.67 Z" fill="#f68b45"/><path d="M206.61 210.65 L213.91 210.46 L214.11 218.3 L206.81 218.48 Z" fill="#f68b45"/><path d="M213.91 210.46 L221.21 210.28 L221.41 218.11 L214.11 218.3 Z" fill="#fbad3c"/><path d="M221.21 210.28 L228.51 210.09 L228.71 217.93 L221.41 218.11 Z" fill="#fbad3c"/><path d="M228.51 210.09 L235.81 209.91 L236.01 217.74 L228.71 217.93 Z" fill="#f8c041"/><path d="M235.81 209.91 L243.11 209.72 L243.3 217.55 L236.01 217.74 Z" fill="#fbad3c"/><path d="M243.11 209.72 L250.41 209.54 L250.6 217.37 L243.3 217.55 Z" fill="#fbad3c"/><path d="M250.41 209.54 L257.71 209.35 L257.9 217.18 L250.6 217.37 Z" fill="#fbad3c"/><path d="M257.71 209.35 L265.02 209.17 L265.2 216.99 L257.9 217.18 Z" fill="#fbad3c"/><path d="M265.02 209.17 L272.32 208.98 L272.5 216.81 L265.2 216.99 Z" fill="#f89c40"/><path d="M272.32 208.98 L279.62 208.8 L279.8 216.62 L272.5 216.81 Z" fill="#f68b45"/><path d="M279.62 208.8 L286.92 208.61 L287.1 216.44 L279.8 216.62 Z" fill="#eb7e53"/><path d="M286.92 208.61 L294.22 208.42 L294.4 216.25 L287.1 216.44 Z" fill="#e17161"/><path d="M294.22 208.42 L301.52 208.24 L301.7 216.06 L294.4 216.25 Z" fill="#b05e80"/><path d="M301.52 208.24 L308.82 208.05 L309 215.88 L301.7 216.06 Z" fill="#8e538b"/><path d="M308.82 208.05 L316.12 207.87 L316.3 215.69 L309 215.88 Z" fill="#7e4d8f"/><path d="M316.12 207.87 L323.43 207.68 L323.6 215.51 L316.3 215.69 Z" fill="#7e4d8f"/><path d="M323.43 207.68 L330.73 207.5 L330.9 215.32 L323.6 215.51 Z" fill="#6e4694"/><path d="M330.73 207.5 L338.03 207.31 L338.2 215.13 L330.9 215.32 Z" fill="#49389a"/><path d="M338.03 207.31 L345.33 207.13 L345.5 214.95 L338.2 215.13 Z" fill="#082a4c"/><path d="M104.62 221.09 L111.92 220.9 L112.14 228.75 L104.85 228.93 Z" fill="#6e4694"/><path d="M111.92 220.9 L119.22 220.72 L119.44 228.56 L112.14 228.75 Z" fill="#7e4d8f"/><path d="M119.22 220.72 L126.52 220.53 L126.74 228.37 L119.44 228.56 Z" fill="#7e4d8f"/><path d="M126.52 220.53 L133.81 220.35 L134.04 228.19 L126.74 228.37 Z" fill="#8e538b"/><path d="M133.81 220.35 L141.11 220.16 L141.33 228 L134.04 228.19 Z" fill="#b05e80"/><path d="M141.11 220.16 L148.41 219.97 L148.63 227.81 L141.33 228 Z" fill="#c16479"/><path d="M148.41 219.97 L155.71 219.79 L155.93 227.63 L148.63 227.81 Z" fill="#d16a6d"/><path d="M155.71 219.79 L163.01 219.6 L163.23 227.44 L155.93 227.63 Z" fill="#d16a6d"/><path d="M163.01 219.6 L170.31 219.41 L170.52 227.25 L163.23 227.44 Z" fill="#e17161"/><path d="M170.31 219.41 L177.61 219.23 L177.82 227.07 L170.52 227.25 Z" fill="#e17161"/><path d="M177.61 219.23 L184.91 219.04 L185.12 226.88 L177.82 227.07 Z" fill="#e17161"/><path d="M184.91 219.04 L192.21 218.86 L192.42 226.69 L185.12 226.88 Z" fill="#eb7e53"/><path d="M192.21 218.86 L199.51 218.67 L199.71 226.51 L192.42 226.69 Z" fill="#eb7e53"/><path d="M199.51 218.67 L206.81 218.48 L207.01 226.32 L199.71 226.51 Z" fill="#f68b45"/><path d="M206.81 218.48 L214.11 218.3 L214.31 226.13 L207.01 226.32 Z" fill="#f68b45"/><path d="M214.11 218.3 L221.41 218.11 L221.61 225.94 L214.31 226.13 Z" fill="#fbad3c"/><path d="M221.41 218.11 L228.71 217.93 L228.9 225.76 L221.61 225.94 Z" fill="#fbad3c"/><path d="M228.71 217.93 L236.01 217.74 L236.2 225.57 L228.9 225.76 Z" fill="#fbad3c"/><path d="M236.01 217.74 L243.3 217.55 L243.5 225.38 L236.2 225.57 Z" fill="#fbad3c"/><path d="M243.3 217.55 L250.6 217.37 L250.8 225.2 L243.5 225.38 Z" fill="#fbad3c"/><path d="M250.6 217.37 L257.9 217.18 L258.09 225.01 L250.8 225.2 Z" fill="#f89c40"/><path d="M257.9 217.18 L265.2 216.99 L265.39 224.82 L258.09 225.01 Z" fill="#f89c40"/><path d="M265.2 216.99 L272.5 216.81 L272.69 224.64 L265.39 224.82 Z" fill="#f89c40"/><path d="M272.5 216.81 L279.8 216.62 L279.99 224.45 L272.69 224.64 Z" fill="#f68b45"/><path d="M279.8 216.62 L287.1 216.44 L287.28 224.26 L279.99 224.45 Z" fill="#eb7e53"/><path d="M287.1 216.44 L294.4 216.25 L294.58 224.08 L287.28 224.26 Z" fill="#eb7e53"/><path d="M294.4 216.25 L301.7 216.06 L301.88 223.89 L294.58 224.08 Z" fill="#c16479"/><path d="M301.7 216.06 L309 215.88 L309.17 223.7 L301.88 223.89 Z" fill="#9e5987"/><path d="M309 215.88 L316.3 215.69 L316.47 223.52 L309.17 223.7 Z" fill="#8e538b"/><path d="M316.3 215.69 L323.6 215.51 L323.77 223.33 L316.47 223.52 Z" fill="#7e4d8f"/><path d="M323.6 215.51 L330.9 215.32 L331.07 223.14 L323.77 223.33 Z" fill="#7e4d8f"/><path d="M330.9 215.32 L338.2 215.13 L338.36 222.95 L331.07 223.14 Z" fill="#5d3e99"/><path d="M338.2 215.13 L345.5 214.95 L345.66 222.77 L338.36 222.95 Z" fill="#213180"/><path d="M104.85 228.93 L112.14 228.75 L112.37 236.59 L105.08 236.78 Z" fill="#6e4694"/><path d="M112.14 228.75 L119.44 228.56 L119.67 236.4 L112.37 236.59 Z" fill="#6e4694"/><path d="M119.44 228.56 L126.74 228.37 L126.96 236.22 L119.67 236.4 Z" fill="#7e4d8f"/><path d="M126.74 228.37 L134.04 228.19 L134.26 236.03 L126.96 236.22 Z" fill="#8e538b"/><path d="M134.04 228.19 L141.33 228 L141.55 235.84 L134.26 236.03 Z" fill="#9e5987"/><path d="M141.33 228 L148.63 227.81 L148.85 235.65 L141.55 235.84 Z" fill="#c16479"/><path d="M148.63 227.81 L155.93 227.63 L156.14 235.47 L148.85 235.65 Z" fill="#d16a6d"/><path d="M155.93 227.63 L163.23 227.44 L163.44 235.28 L156.14 235.47 Z" fill="#d16a6d"/><path d="M163.23 227.44 L170.52 227.25 L170.74 235.09 L163.44 235.28 Z" fill="#e17161"/><path d="M170.52 227.25 L177.82 227.07 L178.03 234.9 L170.74 235.09 Z" fill="#eb7e53"/><path d="M177.82 227.07 L185.12 226.88 L185.33 234.72 L178.03 234.9 Z" fill="#eb7e53"/><path d="M185.12 226.88 L192.42 226.69 L192.62 234.53 L185.33 234.72 Z" fill="#eb7e53"/><path d="M192.42 226.69 L199.71 226.51 L199.92 234.34 L192.62 234.53 Z" fill="#f68b45"/><path d="M199.71 226.51 L207.01 226.32 L207.21 234.15 L199.92 234.34 Z" fill="#f68b45"/><path d="M207.01 226.32 L214.31 226.13 L214.51 233.97 L207.21 234.15 Z" fill="#f68b45"/><path d="M214.31 226.13 L221.61 225.94 L221.8 233.78 L214.51 233.97 Z" fill="#f89c40"/><path d="M221.61 225.94 L228.9 225.76 L229.1 233.59 L221.8 233.78 Z" fill="#f89c40"/><path d="M228.9 225.76 L236.2 225.57 L236.4 233.4 L229.1 233.59 Z" fill="#f89c40"/><path d="M236.2 225.57 L243.5 225.38 L243.69 233.21 L236.4 233.4 Z" fill="#f68b45"/><path d="M243.5 225.38 L250.8 225.2 L250.99 233.03 L243.69 233.21 Z" fill="#f68b45"/><path d="M250.8 225.2 L258.09 225.01 L258.28 232.84 L250.99 233.03 Z" fill="#f68b45"/><path d="M258.09 225.01 L265.39 224.82 L265.58 232.65 L258.28 232.84 Z" fill="#f68b45"/><path d="M265.39 224.82 L272.69 224.64 L272.87 232.46 L265.58 232.65 Z" fill="#eb7e53"/><path d="M272.69 224.64 L279.99 224.45 L280.17 232.28 L272.87 232.46 Z" fill="#eb7e53"/><path d="M279.99 224.45 L287.28 224.26 L287.46 232.09 L280.17 232.28 Z" fill="#eb7e53"/><path d="M287.28 224.26 L294.58 224.08 L294.76 231.9 L287.46 232.09 Z" fill="#eb7e53"/><path d="M294.58 224.08 L301.88 223.89 L302.06 231.71 L294.76 231.9 Z" fill="#c16479"/><path d="M301.88 223.89 L309.17 223.7 L309.35 231.53 L302.06 231.71 Z" fill="#b05e80"/><path d="M309.17 223.7 L316.47 223.52 L316.65 231.34 L309.35 231.53 Z" fill="#9e5987"/><path d="M316.47 223.52 L323.77 223.33 L323.94 231.15 L316.65 231.34 Z" fill="#8e538b"/><path d="M323.77 223.33 L331.07 223.14 L331.24 230.96 L323.94 231.15 Z" fill="#7e4d8f"/><path d="M331.07 223.14 L338.36 222.95 L338.53 230.78 L331.24 230.96 Z" fill="#6e4694"/><path d="M411.34 221.09 L418.64 220.9 L418.78 228.71 L411.49 228.9 Z" fill="#f6d346"/><path d="M105.08 236.78 L112.37 236.59 L112.6 244.44 L105.31 244.62 Z" fill="#6e4694"/><path d="M112.37 236.59 L119.67 236.4 L119.89 244.25 L112.6 244.44 Z" fill="#6e4694"/><path d="M119.67 236.4 L126.96 236.22 L127.19 244.06 L119.89 244.25 Z" fill="#7e4d8f"/><path d="M126.96 236.22 L134.26 236.03 L134.48 243.87 L127.19 244.06 Z" fill="#8e538b"/><path d="M134.26 236.03 L141.55 235.84 L141.77 243.68 L134.48 243.87 Z" fill="#9e5987"/><path d="M141.55 235.84 L148.85 235.65 L149.07 243.49 L141.77 243.68 Z" fill="#b05e80"/><path d="M148.85 235.65 L156.14 235.47 L156.36 243.31 L149.07 243.49 Z" fill="#d16a6d"/><path d="M156.14 235.47 L163.44 235.28 L163.65 243.12 L156.36 243.31 Z" fill="#d16a6d"/><path d="M163.44 235.28 L170.74 235.09 L170.95 242.93 L163.65 243.12 Z" fill="#e17161"/><path d="M170.74 235.09 L178.03 234.9 L178.24 242.74 L170.95 242.93 Z" fill="#eb7e53"/><path d="M178.03 234.9 L185.33 234.72 L185.54 242.55 L178.24 242.74 Z" fill="#eb7e53"/><path d="M185.33 234.72 L192.62 234.53 L192.83 242.36 L185.54 242.55 Z" fill="#f68b45"/><path d="M192.62 234.53 L199.92 234.34 L200.12 242.18 L192.83 242.36 Z" fill="#f68b45"/><path d="M199.92 234.34 L207.21 234.15 L207.42 241.99 L200.12 242.18 Z" fill="#f68b45"/><path d="M207.21 234.15 L214.51 233.97 L214.71 241.8 L207.42 241.99 Z" fill="#f68b45"/><path d="M214.51 233.97 L221.8 233.78 L222 241.61 L214.71 241.8 Z" fill="#f68b45"/><path d="M221.8 233.78 L229.1 233.59 L229.3 241.42 L222 241.61 Z" fill="#f68b45"/><path d="M229.1 233.59 L236.4 233.4 L236.59 241.23 L229.3 241.42 Z" fill="#f68b45"/><path d="M236.4 233.4 L243.69 233.21 L243.88 241.05 L236.59 241.23 Z" fill="#eb7e53"/><path d="M243.69 233.21 L250.99 233.03 L251.18 240.86 L243.88 241.05 Z" fill="#eb7e53"/><path d="M250.99 233.03 L258.28 232.84 L258.47 240.67 L251.18 240.86 Z" fill="#eb7e53"/><path d="M258.28 232.84 L265.58 232.65 L265.77 240.48 L258.47 240.67 Z" fill="#eb7e53"/><path d="M265.58 232.65 L272.87 232.46 L273.06 240.29 L265.77 240.48 Z" fill="#eb7e53"/><path d="M272.87 232.46 L280.17 232.28 L280.35 240.1 L273.06 240.29 Z" fill="#eb7e53"/><path d="M280.17 232.28 L287.46 232.09 L287.65 239.92 L280.35 240.1 Z" fill="#e17161"/><path d="M287.46 232.09 L294.76 231.9 L294.94 239.73 L287.65 239.92 Z" fill="#e17161"/><path d="M294.76 231.9 L302.06 231.71 L302.23 239.54 L294.94 239.73 Z" fill="#d16a6d"/><path d="M302.06 231.71 L309.35 231.53 L309.53 239.35 L302.23 239.54 Z" fill="#b05e80"/><path d="M309.35 231.53 L316.65 231.34 L316.82 239.16 L309.53 239.35 Z" fill="#9e5987"/><path d="M316.65 231.34 L323.94 231.15 L324.11 238.97 L316.82 239.16 Z" fill="#9e5987"/><path d="M323.94 231.15 L331.24 230.96 L331.41 238.79 L324.11 238.97 Z" fill="#7e4d8f"/><path d="M404.19 229.09 L411.49 228.9 L411.64 236.71 L404.34 236.9 Z" fill="#f89c40"/><path d="M411.49 228.9 L418.78 228.71 L418.93 236.53 L411.64 236.71 Z" fill="#f8c041"/><path d="M105.31 244.62 L112.6 244.44 L112.83 252.28 L105.54 252.47 Z" fill="#6e4694"/><path d="M112.6 244.44 L119.89 244.25 L120.12 252.09 L112.83 252.28 Z" fill="#6e4694"/><path d="M119.89 244.25 L127.19 244.06 L127.41 251.9 L120.12 252.09 Z" fill="#7e4d8f"/><path d="M127.19 244.06 L134.48 243.87 L134.7 251.71 L127.41 251.9 Z" fill="#8e538b"/><path d="M134.48 243.87 L141.77 243.68 L141.99 251.52 L134.7 251.71 Z" fill="#9e5987"/><path d="M141.77 243.68 L149.07 243.49 L149.29 251.33 L141.99 251.52 Z" fill="#b05e80"/><path d="M149.07 243.49 L156.36 243.31 L156.58 251.15 L149.29 251.33 Z" fill="#c16479"/><path d="M156.36 243.31 L163.65 243.12 L163.87 250.96 L156.58 251.15 Z" fill="#d16a6d"/><path d="M163.65 243.12 L170.95 242.93 L171.16 250.77 L163.87 250.96 Z" fill="#e17161"/><path d="M170.95 242.93 L178.24 242.74 L178.45 250.58 L171.16 250.77 Z" fill="#eb7e53"/><path d="M178.24 242.74 L185.54 242.55 L185.74 250.39 L178.45 250.58 Z" fill="#eb7e53"/><path d="M185.54 242.55 L192.83 242.36 L193.04 250.2 L185.74 250.39 Z" fill="#eb7e53"/><path d="M192.83 242.36 L200.12 242.18 L200.33 250.01 L193.04 250.2 Z" fill="#eb7e53"/><path d="M200.12 242.18 L207.42 241.99 L207.62 249.82 L200.33 250.01 Z" fill="#eb7e53"/><path d="M207.42 241.99 L214.71 241.8 L214.91 249.63 L207.62 249.82 Z" fill="#e17161"/><path d="M214.71 241.8 L222 241.61 L222.2 249.44 L214.91 249.63 Z" fill="#e17161"/><path d="M222 241.61 L229.3 241.42 L229.49 249.25 L222.2 249.44 Z" fill="#d16a6d"/><path d="M229.3 241.42 L236.59 241.23 L236.79 249.07 L229.49 249.25 Z" fill="#d16a6d"/><path d="M236.59 241.23 L243.88 241.05 L244.08 248.88 L236.79 249.07 Z" fill="#d16a6d"/><path d="M243.88 241.05 L251.18 240.86 L251.37 248.69 L244.08 248.88 Z" fill="#e17161"/><path d="M251.18 240.86 L258.47 240.67 L258.66 248.5 L251.37 248.69 Z" fill="#e17161"/><path d="M258.47 240.67 L265.77 240.48 L265.95 248.31 L258.66 248.5 Z" fill="#eb7e53"/><path d="M265.77 240.48 L273.06 240.29 L273.24 248.12 L265.95 248.31 Z" fill="#e17161"/><path d="M273.06 240.29 L280.35 240.1 L280.54 247.93 L273.24 248.12 Z" fill="#e17161"/><path d="M280.35 240.1 L287.65 239.92 L287.83 247.74 L280.54 247.93 Z" fill="#e17161"/><path d="M287.65 239.92 L294.94 239.73 L295.12 247.55 L287.83 247.74 Z" fill="#e17161"/><path d="M294.94 239.73 L302.23 239.54 L302.41 247.36 L295.12 247.55 Z" fill="#d16a6d"/><path d="M302.23 239.54 L309.53 239.35 L309.7 247.17 L302.41 247.36 Z" fill="#c16479"/><path d="M309.53 239.35 L316.82 239.16 L316.99 246.99 L309.7 247.17 Z" fill="#b05e80"/><path d="M316.82 239.16 L324.11 238.97 L324.29 246.8 L316.99 246.99 Z" fill="#9e5987"/><path d="M324.11 238.97 L331.41 238.79 L331.58 246.61 L324.29 246.8 Z" fill="#7e4d8f"/><path d="M404.34 236.9 L411.64 236.71 L411.79 244.53 L404.49 244.72 Z" fill="#f89c40"/><path d="M411.64 236.71 L418.93 236.53 L419.08 244.34 L411.79 244.53 Z" fill="#f8c041"/><path d="M105.54 252.47 L112.83 252.28 L113.05 260.12 L105.77 260.31 Z" fill="#6e4694"/><path d="M112.83 252.28 L120.12 252.09 L120.34 259.93 L113.05 260.12 Z" fill="#7e4d8f"/><path d="M120.12 252.09 L127.41 251.9 L127.63 259.74 L120.34 259.93 Z" fill="#7e4d8f"/><path d="M127.41 251.9 L134.7 251.71 L134.92 259.55 L127.63 259.74 Z" fill="#8e538b"/><path d="M134.7 251.71 L141.99 251.52 L142.21 259.36 L134.92 259.55 Z" fill="#b05e80"/><path d="M141.99 251.52 L149.29 251.33 L149.5 259.17 L142.21 259.36 Z" fill="#c16479"/><path d="M149.29 251.33 L156.58 251.15 L156.79 258.99 L149.5 259.17 Z" fill="#d16a6d"/><path d="M156.58 251.15 L163.87 250.96 L164.08 258.8 L156.79 258.99 Z" fill="#e17161"/><path d="M163.87 250.96 L171.16 250.77 L171.37 258.61 L164.08 258.8 Z" fill="#eb7e53"/><path d="M171.16 250.77 L178.45 250.58 L178.66 258.42 L171.37 258.61 Z" fill="#eb7e53"/><path d="M178.45 250.58 L185.74 250.39 L185.95 258.23 L178.66 258.42 Z" fill="#eb7e53"/><path d="M185.74 250.39 L193.04 250.2 L193.24 258.04 L185.95 258.23 Z" fill="#eb7e53"/><path d="M193.04 250.2 L200.33 250.01 L200.53 257.85 L193.24 258.04 Z" fill="#eb7e53"/><path d="M200.33 250.01 L207.62 249.82 L207.82 257.66 L200.53 257.85 Z" fill="#e17161"/><path d="M207.62 249.82 L214.91 249.63 L215.11 257.47 L207.82 257.66 Z" fill="#e17161"/><path d="M214.91 249.63 L222.2 249.44 L222.4 257.28 L215.11 257.47 Z" fill="#d16a6d"/><path d="M222.2 249.44 L229.49 249.25 L229.69 257.09 L222.4 257.28 Z" fill="#b05e80"/><path d="M229.49 249.25 L236.79 249.07 L236.98 256.9 L229.69 257.09 Z" fill="#9e5987"/><path d="M236.79 249.07 L244.08 248.88 L244.27 256.71 L236.98 256.9 Z" fill="#9e5987"/><path d="M244.08 248.88 L251.37 248.69 L251.56 256.52 L244.27 256.71 Z" fill="#b05e80"/><path d="M251.37 248.69 L258.66 248.5 L258.85 256.33 L251.56 256.52 Z" fill="#9e5987"/><path d="M258.66 248.5 L265.95 248.31 L266.14 256.14 L258.85 256.33 Z" fill="#c16479"/><path d="M265.95 248.31 L273.24 248.12 L273.43 255.95 L266.14 256.14 Z" fill="#e17161"/><path d="M273.24 248.12 L280.54 247.93 L280.72 255.76 L273.43 255.95 Z" fill="#e17161"/><path d="M280.54 247.93 L287.83 247.74 L288.01 255.57 L280.72 255.76 Z" fill="#e17161"/><path d="M287.83 247.74 L295.12 247.55 L295.3 255.38 L288.01 255.57 Z" fill="#e17161"/><path d="M295.12 247.55 L302.41 247.36 L302.59 255.19 L295.3 255.38 Z" fill="#d16a6d"/><path d="M302.41 247.36 L309.7 247.17 L309.88 255 L302.59 255.19 Z" fill="#c16479"/><path d="M309.7 247.17 L316.99 246.99 L317.17 254.81 L309.88 255 Z" fill="#9e5987"/><path d="M316.99 246.99 L324.29 246.8 L324.46 254.62 L317.17 254.81 Z" fill="#8e538b"/><path d="M411.79 244.53 L419.08 244.34 L419.22 252.15 L411.94 252.34 Z" fill="#f8c041"/><path d="M105.77 260.31 L113.05 260.12 L113.28 267.97 L105.99 268.16 Z" fill="#6e4694"/><path d="M113.05 260.12 L120.34 259.93 L120.57 267.78 L113.28 267.97 Z" fill="#6e4694"/><path d="M120.34 259.93 L127.63 259.74 L127.86 267.59 L120.57 267.78 Z" fill="#7e4d8f"/><path d="M127.63 259.74 L134.92 259.55 L135.15 267.4 L127.86 267.59 Z" fill="#8e538b"/><path d="M134.92 259.55 L142.21 259.36 L142.43 267.21 L135.15 267.4 Z" fill="#9e5987"/><path d="M142.21 259.36 L149.5 259.17 L149.72 267.02 L142.43 267.21 Z" fill="#c16479"/><path d="M149.5 259.17 L156.79 258.99 L157.01 266.82 L149.72 267.02 Z" fill="#d16a6d"/><path d="M156.79 258.99 L164.08 258.8 L164.3 266.63 L157.01 266.82 Z" fill="#e17161"/><path d="M164.08 258.8 L171.37 258.61 L171.59 266.44 L164.3 266.63 Z" fill="#eb7e53"/><path d="M171.37 258.61 L178.66 258.42 L178.87 266.25 L171.59 266.44 Z" fill="#eb7e53"/><path d="M178.66 258.42 L185.95 258.23 L186.16 266.06 L178.87 266.25 Z" fill="#eb7e53"/><path d="M185.95 258.23 L193.24 258.04 L193.45 265.87 L186.16 266.06 Z" fill="#eb7e53"/><path d="M193.24 258.04 L200.53 257.85 L200.74 265.68 L193.45 265.87 Z" fill="#e17161"/><path d="M200.53 257.85 L207.82 257.66 L208.02 265.49 L200.74 265.68 Z" fill="#c16479"/><path d="M207.82 257.66 L215.11 257.47 L215.31 265.3 L208.02 265.49 Z" fill="#c16479"/><path d="M215.11 257.47 L222.4 257.28 L222.6 265.11 L215.31 265.3 Z" fill="#8e538b"/><path d="M222.4 257.28 L229.69 257.09 L229.89 264.92 L222.6 265.11 Z" fill="#8e538b"/><path d="M229.69 257.09 L236.98 256.9 L237.18 264.73 L229.89 264.92 Z" fill="#8e538b"/><path d="M236.98 256.9 L244.27 256.71 L244.46 264.54 L237.18 264.73 Z" fill="#8e538b"/><path d="M244.27 256.71 L251.56 256.52 L251.75 264.35 L244.46 264.54 Z" fill="#7e4d8f"/><path d="M251.56 256.52 L258.85 256.33 L259.04 264.16 L251.75 264.35 Z" fill="#6e4694"/><path d="M258.85 256.33 L266.14 256.14 L266.33 263.97 L259.04 264.16 Z" fill="#7e4d8f"/><path d="M266.14 256.14 L273.43 255.95 L273.62 263.78 L266.33 263.97 Z" fill="#6e4694"/><path d="M273.43 255.95 L280.72 255.76 L280.9 263.59 L273.62 263.78 Z" fill="#7e4d8f"/><path d="M280.72 255.76 L288.01 255.57 L288.19 263.4 L280.9 263.59 Z" fill="#e17161"/><path d="M288.01 255.57 L295.3 255.38 L295.48 263.2 L288.19 263.4 Z" fill="#e17161"/><path d="M295.3 255.38 L302.59 255.19 L302.77 263.01 L295.48 263.2 Z" fill="#d16a6d"/><path d="M302.59 255.19 L309.88 255 L310.05 262.82 L302.77 263.01 Z" fill="#c16479"/><path d="M309.88 255 L317.17 254.81 L317.34 262.63 L310.05 262.82 Z" fill="#8e538b"/><path d="M105.99 268.16 L113.28 267.97 L113.51 275.81 L106.22 276 Z" fill="#7e4d8f"/><path d="M113.28 267.97 L120.57 267.78 L120.8 275.62 L113.51 275.81 Z" fill="#7e4d8f"/><path d="M120.57 267.78 L127.86 267.59 L128.08 275.43 L120.8 275.62 Z" fill="#8e538b"/><path d="M127.86 267.59 L135.15 267.4 L135.37 275.24 L128.08 275.43 Z" fill="#9e5987"/><path d="M135.15 267.4 L142.43 267.21 L142.65 275.05 L135.37 275.24 Z" fill="#b05e80"/><path d="M142.43 267.21 L149.72 267.02 L149.94 274.86 L142.65 275.05 Z" fill="#c16479"/><path d="M149.72 267.02 L157.01 266.82 L157.23 274.66 L149.94 274.86 Z" fill="#d16a6d"/><path d="M157.01 266.82 L164.3 266.63 L164.51 274.47 L157.23 274.66 Z" fill="#e17161"/><path d="M164.3 266.63 L171.59 266.44 L171.8 274.28 L164.51 274.47 Z" fill="#e17161"/><path d="M171.59 266.44 L178.87 266.25 L179.08 274.09 L171.8 274.28 Z" fill="#eb7e53"/><path d="M178.87 266.25 L186.16 266.06 L186.37 273.9 L179.08 274.09 Z" fill="#eb7e53"/><path d="M186.16 266.06 L193.45 265.87 L193.66 273.71 L186.37 273.9 Z" fill="#e17161"/><path d="M193.45 265.87 L200.74 265.68 L200.94 273.52 L193.66 273.71 Z" fill="#d16a6d"/><path d="M200.74 265.68 L208.02 265.49 L208.23 273.33 L200.94 273.52 Z" fill="#b05e80"/><path d="M208.02 265.49 L215.31 265.3 L215.51 273.13 L208.23 273.33 Z" fill="#8e538b"/><path d="M215.31 265.3 L222.6 265.11 L222.8 272.94 L215.51 273.13 Z" fill="#8e538b"/><path d="M222.6 265.11 L229.89 264.92 L230.09 272.75 L222.8 272.94 Z" fill="#8e538b"/><path d="M229.89 264.92 L237.18 264.73 L237.37 272.56 L230.09 272.75 Z" fill="#8e538b"/><path d="M237.18 264.73 L244.46 264.54 L244.66 272.37 L237.37 272.56 Z" fill="#8e538b"/><path d="M244.46 264.54 L251.75 264.35 L251.94 272.18 L244.66 272.37 Z" fill="#7e4d8f"/><path d="M251.75 264.35 L259.04 264.16 L259.23 271.99 L251.94 272.18 Z" fill="#5d3e99"/><path d="M259.04 264.16 L266.33 263.97 L266.51 271.8 L259.23 271.99 Z" fill="#49389a"/><path d="M266.33 263.97 L273.62 263.78 L273.8 271.6 L266.51 271.8 Z" fill="#49389a"/><path d="M273.62 263.78 L280.9 263.59 L281.09 271.41 L273.8 271.6 Z" fill="#6e4694"/><path d="M280.9 263.59 L288.19 263.4 L288.37 271.22 L281.09 271.41 Z" fill="#e17161"/><path d="M288.19 263.4 L295.48 263.2 L295.66 271.03 L288.37 271.22 Z" fill="#e17161"/><path d="M295.48 263.2 L302.77 263.01 L302.94 270.84 L295.66 271.03 Z" fill="#d16a6d"/><path d="M302.77 263.01 L310.05 262.82 L310.23 270.65 L302.94 270.84 Z" fill="#c16479"/><path d="M310.05 262.82 L317.34 262.63 L317.52 270.46 L310.23 270.65 Z" fill="#8e538b"/><path d="M317.34 262.63 L324.63 262.44 L324.8 270.27 L317.52 270.46 Z" fill="#6e4694"/><path d="M106.22 276 L113.51 275.81 L113.74 283.66 L106.45 283.85 Z" fill="#7e4d8f"/><path d="M113.51 275.81 L120.8 275.62 L121.02 283.46 L113.74 283.66 Z" fill="#8e538b"/><path d="M120.8 275.62 L128.08 275.43 L128.31 283.27 L121.02 283.46 Z" fill="#8e538b"/><path d="M128.08 275.43 L135.37 275.24 L135.59 283.08 L128.31 283.27 Z" fill="#9e5987"/><path d="M135.37 275.24 L142.65 275.05 L142.87 282.89 L135.59 283.08 Z" fill="#b05e80"/><path d="M142.65 275.05 L149.94 274.86 L150.16 282.7 L142.87 282.89 Z" fill="#c16479"/><path d="M149.94 274.86 L157.23 274.66 L157.44 282.5 L150.16 282.7 Z" fill="#c16479"/><path d="M157.23 274.66 L164.51 274.47 L164.73 282.31 L157.44 282.5 Z" fill="#d16a6d"/><path d="M164.51 274.47 L171.8 274.28 L172.01 282.12 L164.73 282.31 Z" fill="#e17161"/><path d="M171.8 274.28 L179.08 274.09 L179.29 281.93 L172.01 282.12 Z" fill="#e17161"/><path d="M179.08 274.09 L186.37 273.9 L186.58 281.74 L179.29 281.93 Z" fill="#e17161"/><path d="M186.37 273.9 L193.66 273.71 L193.86 281.54 L186.58 281.74 Z" fill="#e17161"/><path d="M193.66 273.71 L200.94 273.52 L201.15 281.35 L193.86 281.54 Z" fill="#c16479"/><path d="M200.94 273.52 L208.23 273.33 L208.43 281.16 L201.15 281.35 Z" fill="#9e5987"/><path d="M208.23 273.33 L215.51 273.13 L215.71 280.97 L208.43 281.16 Z" fill="#8e538b"/><path d="M215.51 273.13 L222.8 272.94 L223 280.78 L215.71 280.97 Z" fill="#8e538b"/><path d="M222.8 272.94 L230.09 272.75 L230.28 280.58 L223 280.78 Z" fill="#9e5987"/><path d="M230.09 272.75 L237.37 272.56 L237.57 280.39 L230.28 280.58 Z" fill="#9e5987"/><path d="M237.37 272.56 L244.66 272.37 L244.85 280.2 L237.57 280.39 Z" fill="#8e538b"/><path d="M244.66 272.37 L251.94 272.18 L252.13 280.01 L244.85 280.2 Z" fill="#7e4d8f"/><path d="M251.94 272.18 L259.23 271.99 L259.42 279.82 L252.13 280.01 Z" fill="#6e4694"/><path d="M259.23 271.99 L266.51 271.8 L266.7 279.62 L259.42 279.82 Z" fill="#5d3e99"/><path d="M266.51 271.8 L273.8 271.6 L273.99 279.43 L266.7 279.62 Z" fill="#5d3e99"/><path d="M273.8 271.6 L281.09 271.41 L281.27 279.24 L273.99 279.43 Z" fill="#7e4d8f"/><path d="M281.09 271.41 L288.37 271.22 L288.55 279.05 L281.27 279.24 Z" fill="#e17161"/><path d="M288.37 271.22 L295.66 271.03 L295.84 278.86 L288.55 279.05 Z" fill="#e17161"/><path d="M295.66 271.03 L302.94 270.84 L303.12 278.66 L295.84 278.86 Z" fill="#d16a6d"/><path d="M302.94 270.84 L310.23 270.65 L310.41 278.47 L303.12 278.66 Z" fill="#b05e80"/><path d="M310.23 270.65 L317.52 270.46 L317.69 278.28 L310.41 278.47 Z" fill="#7e4d8f"/><path d="M317.52 270.46 L324.8 270.27 L324.97 278.09 L317.69 278.28 Z" fill="#5d3e99"/><path d="M106.45 283.85 L113.74 283.66 L113.97 291.5 L106.68 291.69 Z" fill="#8e538b"/><path d="M113.74 283.66 L121.02 283.46 L121.25 291.31 L113.97 291.5 Z" fill="#8e538b"/><path d="M121.02 283.46 L128.31 283.27 L128.53 291.11 L121.25 291.31 Z" fill="#9e5987"/><path d="M128.31 283.27 L135.59 283.08 L135.81 290.92 L128.53 291.11 Z" fill="#9e5987"/><path d="M135.59 283.08 L142.87 282.89 L143.09 290.73 L135.81 290.92 Z" fill="#b05e80"/><path d="M142.87 282.89 L150.16 282.7 L150.38 290.54 L143.09 290.73 Z" fill="#c16479"/><path d="M150.16 282.7 L157.44 282.5 L157.66 290.34 L150.38 290.54 Z" fill="#c16479"/><path d="M157.44 282.5 L164.73 282.31 L164.94 290.15 L157.66 290.34 Z" fill="#d16a6d"/><path d="M164.73 282.31 L172.01 282.12 L172.22 289.96 L164.94 290.15 Z" fill="#d16a6d"/><path d="M172.01 282.12 L179.29 281.93 L179.5 289.77 L172.22 289.96 Z" fill="#d16a6d"/><path d="M179.29 281.93 L186.58 281.74 L186.79 289.57 L179.5 289.77 Z" fill="#d16a6d"/><path d="M186.58 281.74 L193.86 281.54 L194.07 289.38 L186.79 289.57 Z" fill="#c16479"/><path d="M193.86 281.54 L201.15 281.35 L201.35 289.19 L194.07 289.38 Z" fill="#b05e80"/><path d="M201.15 281.35 L208.43 281.16 L208.63 288.99 L201.35 289.19 Z" fill="#8e538b"/><path d="M208.43 281.16 L215.71 280.97 L215.91 288.8 L208.63 288.99 Z" fill="#8e538b"/><path d="M215.71 280.97 L223 280.78 L223.2 288.61 L215.91 288.8 Z" fill="#9e5987"/><path d="M223 280.78 L230.28 280.58 L230.48 288.42 L223.2 288.61 Z" fill="#9e5987"/><path d="M230.28 280.58 L237.57 280.39 L237.76 288.22 L230.48 288.42 Z" fill="#9e5987"/><path d="M237.57 280.39 L244.85 280.2 L245.04 288.03 L237.76 288.22 Z" fill="#9e5987"/><path d="M244.85 280.2 L252.13 280.01 L252.33 287.84 L245.04 288.03 Z" fill="#7e4d8f"/><path d="M252.13 280.01 L259.42 279.82 L259.61 287.65 L252.33 287.84 Z" fill="#7e4d8f"/><path d="M259.42 279.82 L266.7 279.62 L266.89 287.45 L259.61 287.65 Z" fill="#6e4694"/><path d="M266.7 279.62 L273.99 279.43 L274.17 287.26 L266.89 287.45 Z" fill="#7e4d8f"/><path d="M273.99 279.43 L281.27 279.24 L281.45 287.07 L274.17 287.26 Z" fill="#b05e80"/><path d="M281.27 279.24 L288.55 279.05 L288.74 286.87 L281.45 287.07 Z" fill="#e17161"/><path d="M288.55 279.05 L295.84 278.86 L296.02 286.68 L288.74 286.87 Z" fill="#e17161"/><path d="M295.84 278.86 L303.12 278.66 L303.3 286.49 L296.02 286.68 Z" fill="#d16a6d"/><path d="M303.12 278.66 L310.41 278.47 L310.58 286.3 L303.3 286.49 Z" fill="#9e5987"/><path d="M310.41 278.47 L317.69 278.28 L317.86 286.1 L310.58 286.3 Z" fill="#6e4694"/><path d="M317.69 278.28 L324.97 278.09 L325.15 285.91 L317.86 286.1 Z" fill="#49389a"/><path d="M106.68 291.69 L113.97 291.5 L114.19 299.34 L106.91 299.54 Z" fill="#9e5987"/><path d="M113.97 291.5 L121.25 291.31 L121.47 299.15 L114.19 299.34 Z" fill="#9e5987"/><path d="M121.25 291.31 L128.53 291.11 L128.75 298.96 L121.47 299.15 Z" fill="#b05e80"/><path d="M128.53 291.11 L135.81 290.92 L136.03 298.76 L128.75 298.96 Z" fill="#b05e80"/><path d="M135.81 290.92 L143.09 290.73 L143.31 298.57 L136.03 298.76 Z" fill="#b05e80"/><path d="M143.09 290.73 L150.38 290.54 L150.59 298.38 L143.31 298.57 Z" fill="#c16479"/><path d="M150.38 290.54 L157.66 290.34 L157.87 298.18 L150.59 298.38 Z" fill="#c16479"/><path d="M157.66 290.34 L164.94 290.15 L165.15 297.99 L157.87 298.18 Z" fill="#c16479"/><path d="M164.94 290.15 L172.22 289.96 L172.43 297.8 L165.15 297.99 Z" fill="#c16479"/><path d="M172.22 289.96 L179.5 289.77 L179.71 297.6 L172.43 297.8 Z" fill="#c16479"/><path d="M179.5 289.77 L186.79 289.57 L187 297.41 L179.71 297.6 Z" fill="#c16479"/><path d="M186.79 289.57 L194.07 289.38 L194.28 297.22 L187 297.41 Z" fill="#b05e80"/><path d="M194.07 289.38 L201.35 289.19 L201.56 297.02 L194.28 297.22 Z" fill="#9e5987"/><path d="M201.35 289.19 L208.63 288.99 L208.84 296.83 L201.56 297.02 Z" fill="#8e538b"/><path d="M208.63 288.99 L215.91 288.8 L216.12 296.64 L208.84 296.83 Z" fill="#8e538b"/><path d="M215.91 288.8 L223.2 288.61 L223.4 296.44 L216.12 296.64 Z" fill="#8e538b"/><path d="M223.2 288.61 L230.48 288.42 L230.68 296.25 L223.4 296.44 Z" fill="#9e5987"/><path d="M230.48 288.42 L237.76 288.22 L237.96 296.06 L230.68 296.25 Z" fill="#9e5987"/><path d="M237.76 288.22 L245.04 288.03 L245.24 295.86 L237.96 296.06 Z" fill="#9e5987"/><path d="M245.04 288.03 L252.33 287.84 L252.52 295.67 L245.24 295.86 Z" fill="#7e4d8f"/><path d="M252.33 287.84 L259.61 287.65 L259.8 295.47 L252.52 295.67 Z" fill="#7e4d8f"/><path d="M259.61 287.65 L266.89 287.45 L267.08 295.28 L259.8 295.47 Z" fill="#8e538b"/><path d="M266.89 287.45 L274.17 287.26 L274.36 295.09 L267.08 295.28 Z" fill="#9e5987"/><path d="M274.17 287.26 L281.45 287.07 L281.64 294.89 L274.36 295.09 Z" fill="#c16479"/><path d="M281.45 287.07 L288.74 286.87 L288.92 294.7 L281.64 294.89 Z" fill="#e17161"/><path d="M288.74 286.87 L296.02 286.68 L296.2 294.51 L288.92 294.7 Z" fill="#d16a6d"/><path d="M296.02 286.68 L303.3 286.49 L303.48 294.31 L296.2 294.51 Z" fill="#c16479"/><path d="M303.3 286.49 L310.58 286.3 L310.76 294.12 L303.48 294.31 Z" fill="#8e538b"/><path d="M310.58 286.3 L317.86 286.1 L318.04 293.93 L310.76 294.12 Z" fill="#35329b"/><path d="M106.91 299.54 L114.19 299.34 L114.42 307.19 L107.14 307.38 Z" fill="#9e5987"/><path d="M114.19 299.34 L121.47 299.15 L121.7 306.99 L114.42 307.19 Z" fill="#b05e80"/><path d="M121.47 299.15 L128.75 298.96 L128.98 306.8 L121.7 306.99 Z" fill="#b05e80"/><path d="M128.75 298.96 L136.03 298.76 L136.26 306.61 L128.98 306.8 Z" fill="#b05e80"/><path d="M136.03 298.76 L143.31 298.57 L143.53 306.41 L136.26 306.61 Z" fill="#b05e80"/><path d="M143.31 298.57 L150.59 298.38 L150.81 306.22 L143.53 306.41 Z" fill="#b05e80"/><path d="M150.59 298.38 L157.87 298.18 L158.09 306.02 L150.81 306.22 Z" fill="#9e5987"/><path d="M157.87 298.18 L165.15 297.99 L165.37 305.83 L158.09 306.02 Z" fill="#8e538b"/><path d="M165.15 297.99 L172.43 297.8 L172.65 305.63 L165.37 305.83 Z" fill="#8e538b"/><path d="M172.43 297.8 L179.71 297.6 L179.93 305.44 L172.65 305.63 Z" fill="#8e538b"/><path d="M179.71 297.6 L187 297.41 L187.2 305.25 L179.93 305.44 Z" fill="#8e538b"/><path d="M187 297.41 L194.28 297.22 L194.48 305.05 L187.2 305.25 Z" fill="#8e538b"/><path d="M194.28 297.22 L201.56 297.02 L201.76 304.86 L194.48 305.05 Z" fill="#8e538b"/><path d="M201.56 297.02 L208.84 296.83 L209.04 304.66 L201.76 304.86 Z" fill="#8e538b"/><path d="M208.84 296.83 L216.12 296.64 L216.32 304.47 L209.04 304.66 Z" fill="#8e538b"/><path d="M216.12 296.64 L223.4 296.44 L223.59 304.28 L216.32 304.47 Z" fill="#8e538b"/><path d="M223.4 296.44 L230.68 296.25 L230.87 304.08 L223.59 304.28 Z" fill="#9e5987"/><path d="M230.68 296.25 L237.96 296.06 L238.15 303.89 L230.87 304.08 Z" fill="#9e5987"/><path d="M237.96 296.06 L245.24 295.86 L245.43 303.69 L238.15 303.89 Z" fill="#9e5987"/><path d="M245.24 295.86 L252.52 295.67 L252.71 303.5 L245.43 303.69 Z" fill="#7e4d8f"/><path d="M252.52 295.67 L259.8 295.47 L259.99 303.3 L252.71 303.5 Z" fill="#7e4d8f"/><path d="M259.8 295.47 L267.08 295.28 L267.26 303.11 L259.99 303.3 Z" fill="#9e5987"/><path d="M267.08 295.28 L274.36 295.09 L274.54 302.92 L267.26 303.11 Z" fill="#b05e80"/><path d="M274.36 295.09 L281.64 294.89 L281.82 302.72 L274.54 302.92 Z" fill="#c16479"/><path d="M281.64 294.89 L288.92 294.7 L289.1 302.53 L281.82 302.72 Z" fill="#d16a6d"/><path d="M288.92 294.7 L296.2 294.51 L296.38 302.33 L289.1 302.53 Z" fill="#c16479"/><path d="M296.2 294.51 L303.48 294.31 L303.66 302.14 L296.38 302.33 Z" fill="#9e5987"/><path d="M303.48 294.31 L310.76 294.12 L310.93 301.94 L303.66 302.14 Z" fill="#35329b"/><path d="M310.76 294.12 L318.04 293.93 L318.21 301.75 L310.93 301.94 Z" fill="#082a4c"/><path d="M318.04 293.93 L325.32 293.73 L325.49 301.56 L318.21 301.75 Z" fill="#082a4c"/><path d="M325.32 293.73 L332.6 293.54 L332.77 301.36 L325.49 301.56 Z" fill="#213180"/><path d="M107.14 307.38 L114.42 307.19 L114.65 315.03 L107.37 315.23 Z" fill="#c16479"/><path d="M114.42 307.19 L121.7 306.99 L121.93 314.84 L114.65 315.03 Z" fill="#c16479"/><path d="M121.7 306.99 L128.98 306.8 L129.2 314.64 L121.93 314.84 Z" fill="#c16479"/><path d="M128.98 306.8 L136.26 306.61 L136.48 314.45 L129.2 314.64 Z" fill="#b05e80"/><path d="M136.26 306.61 L143.53 306.41 L143.75 314.25 L136.48 314.45 Z" fill="#b05e80"/><path d="M143.53 306.41 L150.81 306.22 L151.03 314.06 L143.75 314.25 Z" fill="#9e5987"/><path d="M150.81 306.22 L158.09 306.02 L158.31 313.86 L151.03 314.06 Z" fill="#8e538b"/><path d="M158.09 306.02 L165.37 305.83 L165.58 313.67 L158.31 313.86 Z" fill="#7e4d8f"/><path d="M165.37 305.83 L172.65 305.63 L172.86 313.47 L165.58 313.67 Z" fill="#7e4d8f"/><path d="M172.65 305.63 L179.93 305.44 L180.14 313.28 L172.86 313.47 Z" fill="#8e538b"/><path d="M179.93 305.44 L187.2 305.25 L187.41 313.08 L180.14 313.28 Z" fill="#8e538b"/><path d="M187.2 305.25 L194.48 305.05 L194.69 312.89 L187.41 313.08 Z" fill="#8e538b"/><path d="M194.48 305.05 L201.76 304.86 L201.96 312.69 L194.69 312.89 Z" fill="#8e538b"/><path d="M201.76 304.86 L209.04 304.66 L209.24 312.5 L201.96 312.69 Z" fill="#8e538b"/><path d="M209.04 304.66 L216.32 304.47 L216.52 312.3 L209.24 312.5 Z" fill="#9e5987"/><path d="M216.32 304.47 L223.59 304.28 L223.79 312.11 L216.52 312.3 Z" fill="#b05e80"/><path d="M223.59 304.28 L230.87 304.08 L231.07 311.91 L223.79 312.11 Z" fill="#b05e80"/><path d="M230.87 304.08 L238.15 303.89 L238.35 311.72 L231.07 311.91 Z" fill="#b05e80"/><path d="M238.15 303.89 L245.43 303.69 L245.62 311.52 L238.35 311.72 Z" fill="#b05e80"/><path d="M245.43 303.69 L252.71 303.5 L252.9 311.33 L245.62 311.52 Z" fill="#8e538b"/><path d="M252.71 303.5 L259.99 303.3 L260.18 311.13 L252.9 311.33 Z" fill="#7e4d8f"/><path d="M259.99 303.3 L267.26 303.11 L267.45 310.94 L260.18 311.13 Z" fill="#7e4d8f"/><path d="M267.26 303.11 L274.54 302.92 L274.73 310.74 L267.45 310.94 Z" fill="#8e538b"/><path d="M274.54 302.92 L281.82 302.72 L282 310.55 L274.73 310.74 Z" fill="#e17161"/><path d="M281.82 302.72 L289.1 302.53 L289.28 310.35 L282 310.55 Z" fill="#d16a6d"/><path d="M289.1 302.53 L296.38 302.33 L296.56 310.16 L289.28 310.35 Z" fill="#5d3e99"/><path d="M296.38 302.33 L303.66 302.14 L303.83 309.96 L296.56 310.16 Z" fill="#213180"/><path d="M303.66 302.14 L310.93 301.94 L311.11 309.77 L303.83 309.96 Z" fill="#032333"/><path d="M310.93 301.94 L318.21 301.75 L318.39 309.57 L311.11 309.77 Z" fill="#032333"/><path d="M318.21 301.75 L325.49 301.56 L325.66 309.38 L318.39 309.57 Z" fill="#082a4c"/><path d="M325.49 301.56 L332.77 301.36 L332.94 309.18 L325.66 309.38 Z" fill="#49389a"/><path d="M332.77 301.36 L340.05 301.17 L340.21 308.99 L332.94 309.18 Z" fill="#5d3e99"/><path d="M107.37 315.23 L114.65 315.03 L114.88 322.88 L107.6 323.07 Z" fill="#d16a6d"/><path d="M114.65 315.03 L121.93 314.84 L122.15 322.68 L114.88 322.88 Z" fill="#d16a6d"/><path d="M121.93 314.84 L129.2 314.64 L129.43 322.48 L122.15 322.68 Z" fill="#c16479"/><path d="M129.2 314.64 L136.48 314.45 L136.7 322.29 L129.43 322.48 Z" fill="#c16479"/><path d="M136.48 314.45 L143.75 314.25 L143.97 322.09 L136.7 322.29 Z" fill="#b05e80"/><path d="M143.75 314.25 L151.03 314.06 L151.25 321.9 L143.97 322.09 Z" fill="#8e538b"/><path d="M151.03 314.06 L158.31 313.86 L158.52 321.7 L151.25 321.9 Z" fill="#7e4d8f"/><path d="M158.31 313.86 L165.58 313.67 L165.8 321.51 L158.52 321.7 Z" fill="#6e4694"/><path d="M165.58 313.67 L172.86 313.47 L173.07 321.31 L165.8 321.51 Z" fill="#7e4d8f"/><path d="M172.86 313.47 L180.14 313.28 L180.35 321.12 L173.07 321.31 Z" fill="#8e538b"/><path d="M180.14 313.28 L187.41 313.08 L187.62 320.92 L180.35 321.12 Z" fill="#8e538b"/><path d="M187.41 313.08 L194.69 312.89 L194.89 320.72 L187.62 320.92 Z" fill="#9e5987"/><path d="M194.69 312.89 L201.96 312.69 L202.17 320.53 L194.89 320.72 Z" fill="#9e5987"/><path d="M201.96 312.69 L209.24 312.5 L209.44 320.33 L202.17 320.53 Z" fill="#9e5987"/><path d="M209.24 312.5 L216.52 312.3 L216.72 320.14 L209.44 320.33 Z" fill="#b05e80"/><path d="M216.52 312.3 L223.79 312.11 L223.99 319.94 L216.72 320.14 Z" fill="#b05e80"/><path d="M223.79 312.11 L231.07 311.91 L231.27 319.75 L223.99 319.94 Z" fill="#c16479"/><path d="M231.07 311.91 L238.35 311.72 L238.54 319.55 L231.27 319.75 Z" fill="#c16479"/><path d="M238.35 311.72 L245.62 311.52 L245.82 319.35 L238.54 319.55 Z" fill="#b05e80"/><path d="M245.62 311.52 L252.9 311.33 L253.09 319.16 L245.82 319.35 Z" fill="#7e4d8f"/><path d="M252.9 311.33 L260.18 311.13 L260.36 318.96 L253.09 319.16 Z" fill="#5d3e99"/><path d="M260.18 311.13 L267.45 310.94 L267.64 318.77 L260.36 318.96 Z" fill="#49389a"/><path d="M267.45 310.94 L274.73 310.74 L274.91 318.57 L267.64 318.77 Z" fill="#7e4d8f"/><path d="M274.73 310.74 L282 310.55 L282.19 318.38 L274.91 318.57 Z" fill="#8e538b"/><path d="M282 310.55 L289.28 310.35 L289.46 318.18 L282.19 318.38 Z" fill="#5d3e99"/><path d="M289.28 310.35 L296.56 310.16 L296.74 317.98 L289.46 318.18 Z" fill="#35329b"/><path d="M296.56 310.16 L303.83 309.96 L304.01 317.79 L296.74 317.98 Z" fill="#0d3064"/><path d="M303.83 309.96 L311.11 309.77 L311.29 317.59 L304.01 317.79 Z" fill="#032333"/><path d="M311.11 309.77 L318.39 309.57 L318.56 317.4 L311.29 317.59 Z" fill="#032333"/><path d="M318.39 309.57 L325.66 309.38 L325.83 317.2 L318.56 317.4 Z" fill="#082a4c"/><path d="M325.66 309.38 L332.94 309.18 L333.11 317.01 L325.83 317.2 Z" fill="#49389a"/><path d="M332.94 309.18 L340.21 308.99 L340.38 316.81 L333.11 317.01 Z" fill="#5d3e99"/><path d="M107.6 323.07 L114.88 322.88 L115.1 330.72 L107.83 330.92 Z" fill="#d16a6d"/><path d="M114.88 322.88 L122.15 322.68 L122.38 330.52 L115.1 330.72 Z" fill="#d16a6d"/><path d="M122.15 322.68 L129.43 322.48 L129.65 330.33 L122.38 330.52 Z" fill="#c16479"/><path d="M129.43 322.48 L136.7 322.29 L136.92 330.13 L129.65 330.33 Z" fill="#b05e80"/><path d="M136.7 322.29 L143.97 322.09 L144.19 329.93 L136.92 330.13 Z" fill="#9e5987"/><path d="M143.97 322.09 L151.25 321.9 L151.47 329.74 L144.19 329.93 Z" fill="#8e538b"/><path d="M151.25 321.9 L158.52 321.7 L158.74 329.54 L151.47 329.74 Z" fill="#7e4d8f"/><path d="M158.52 321.7 L165.8 321.51 L166.01 329.35 L158.74 329.54 Z" fill="#7e4d8f"/><path d="M165.8 321.51 L173.07 321.31 L173.28 329.15 L166.01 329.35 Z" fill="#8e538b"/><path d="M173.07 321.31 L180.35 321.12 L180.56 328.95 L173.28 329.15 Z" fill="#8e538b"/><path d="M180.35 321.12 L187.62 320.92 L187.83 328.76 L180.56 328.95 Z" fill="#9e5987"/><path d="M187.62 320.92 L194.89 320.72 L195.1 328.56 L187.83 328.76 Z" fill="#9e5987"/><path d="M194.89 320.72 L202.17 320.53 L202.37 328.36 L195.1 328.56 Z" fill="#9e5987"/><path d="M202.17 320.53 L209.44 320.33 L209.65 328.17 L202.37 328.36 Z" fill="#9e5987"/><path d="M209.44 320.33 L216.72 320.14 L216.92 327.97 L209.65 328.17 Z" fill="#b05e80"/><path d="M216.72 320.14 L223.99 319.94 L224.19 327.77 L216.92 327.97 Z" fill="#c16479"/><path d="M223.99 319.94 L231.27 319.75 L231.46 327.58 L224.19 327.77 Z" fill="#c16479"/><path d="M231.27 319.75 L238.54 319.55 L238.74 327.38 L231.46 327.58 Z" fill="#c16479"/><path d="M238.54 319.55 L245.82 319.35 L246.01 327.19 L238.74 327.38 Z" fill="#b05e80"/><path d="M245.82 319.35 L253.09 319.16 L253.28 326.99 L246.01 327.19 Z" fill="#7e4d8f"/><path d="M253.09 319.16 L260.36 318.96 L260.55 326.79 L253.28 326.99 Z" fill="#49389a"/><path d="M260.36 318.96 L267.64 318.77 L267.83 326.6 L260.55 326.79 Z" fill="#35329b"/><path d="M267.64 318.77 L274.91 318.57 L275.1 326.4 L267.83 326.6 Z" fill="#49389a"/><path d="M274.91 318.57 L282.19 318.38 L282.37 326.2 L275.1 326.4 Z" fill="#49389a"/><path d="M282.19 318.38 L289.46 318.18 L289.64 326.01 L282.37 326.2 Z" fill="#35329b"/><path d="M289.46 318.18 L296.74 317.98 L296.92 325.81 L289.64 326.01 Z" fill="#213180"/><path d="M296.74 317.98 L304.01 317.79 L304.19 325.61 L296.92 325.81 Z" fill="#082a4c"/><path d="M304.01 317.79 L311.29 317.59 L311.46 325.42 L304.19 325.61 Z" fill="#082a4c"/><path d="M311.29 317.59 L318.56 317.4 L318.73 325.22 L311.46 325.42 Z" fill="#082a4c"/><path d="M318.56 317.4 L325.83 317.2 L326.01 325.02 L318.73 325.22 Z" fill="#082a4c"/><path d="M325.83 317.2 L333.11 317.01 L333.28 324.83 L326.01 325.02 Z" fill="#082a4c"/><path d="M333.11 317.01 L340.38 316.81 L340.55 324.63 L333.28 324.83 Z" fill="#49389a"/><path d="M107.83 330.92 L115.1 330.72 L115.33 338.56 L108.06 338.76 Z" fill="#d16a6d"/><path d="M115.1 330.72 L122.38 330.52 L122.6 338.37 L115.33 338.56 Z" fill="#d16a6d"/><path d="M122.38 330.52 L129.65 330.33 L129.87 338.17 L122.6 338.37 Z" fill="#c16479"/><path d="M129.65 330.33 L136.92 330.13 L137.14 337.97 L129.87 338.17 Z" fill="#b05e80"/><path d="M136.92 330.13 L144.19 329.93 L144.41 337.78 L137.14 337.97 Z" fill="#b05e80"/><path d="M144.19 329.93 L151.47 329.74 L151.68 337.58 L144.41 337.78 Z" fill="#9e5987"/><path d="M151.47 329.74 L158.74 329.54 L158.96 337.38 L151.68 337.58 Z" fill="#8e538b"/><path d="M158.74 329.54 L166.01 329.35 L166.23 337.18 L158.96 337.38 Z" fill="#8e538b"/><path d="M166.01 329.35 L173.28 329.15 L173.5 336.99 L166.23 337.18 Z" fill="#8e538b"/><path d="M173.28 329.15 L180.56 328.95 L180.77 336.79 L173.5 336.99 Z" fill="#9e5987"/><path d="M180.56 328.95 L187.83 328.76 L188.04 336.59 L180.77 336.79 Z" fill="#9e5987"/><path d="M187.83 328.76 L195.1 328.56 L195.31 336.4 L188.04 336.59 Z" fill="#9e5987"/><path d="M195.1 328.56 L202.37 328.36 L202.58 336.2 L195.31 336.4 Z" fill="#9e5987"/><path d="M202.37 328.36 L209.65 328.17 L209.85 336 L202.58 336.2 Z" fill="#9e5987"/><path d="M209.65 328.17 L216.92 327.97 L217.12 335.8 L209.85 336 Z" fill="#b05e80"/><path d="M216.92 327.97 L224.19 327.77 L224.39 335.61 L217.12 335.8 Z" fill="#c16479"/><path d="M224.19 327.77 L231.46 327.58 L231.66 335.41 L224.39 335.61 Z" fill="#c16479"/><path d="M231.46 327.58 L238.74 327.38 L238.93 335.21 L231.66 335.41 Z" fill="#c16479"/><path d="M238.74 327.38 L246.01 327.19 L246.2 335.02 L238.93 335.21 Z" fill="#b05e80"/><path d="M246.01 327.19 L253.28 326.99 L253.47 334.82 L246.2 335.02 Z" fill="#7e4d8f"/><path d="M253.28 326.99 L260.55 326.79 L260.74 334.62 L253.47 334.82 Z" fill="#5d3e99"/><path d="M260.55 326.79 L267.83 326.6 L268.01 334.42 L260.74 334.62 Z" fill="#35329b"/><path d="M267.83 326.6 L275.1 326.4 L275.28 334.23 L268.01 334.42 Z" fill="#35329b"/><path d="M275.1 326.4 L282.37 326.2 L282.55 334.03 L275.28 334.23 Z" fill="#35329b"/><path d="M282.37 326.2 L289.64 326.01 L289.83 333.83 L282.55 334.03 Z" fill="#213180"/><path d="M289.64 326.01 L296.92 325.81 L297.1 333.64 L289.83 333.83 Z" fill="#0d3064"/><path d="M296.92 325.81 L304.19 325.61 L304.37 333.44 L297.1 333.64 Z" fill="#082a4c"/><path d="M304.19 325.61 L311.46 325.42 L311.64 333.24 L304.37 333.44 Z" fill="#082a4c"/><path d="M311.46 325.42 L318.73 325.22 L318.91 333.04 L311.64 333.24 Z" fill="#082a4c"/><path d="M318.73 325.22 L326.01 325.02 L326.18 332.85 L318.91 333.04 Z" fill="#082a4c"/><path d="M326.01 325.02 L333.28 324.83 L333.45 332.65 L326.18 332.85 Z" fill="#082a4c"/><path d="M333.28 324.83 L340.55 324.63 L340.72 332.45 L333.45 332.65 Z" fill="#082a4c"/><path d="M340.55 324.63 L347.82 324.44 L347.99 332.26 L340.72 332.45 Z" fill="#0d3064"/><path d="M108.06 338.76 L115.33 338.56 L115.56 346.41 L108.29 346.61 Z" fill="#d16a6d"/><path d="M115.33 338.56 L122.6 338.37 L122.83 346.21 L115.56 346.41 Z" fill="#c16479"/><path d="M122.6 338.37 L129.87 338.17 L130.1 346.01 L122.83 346.21 Z" fill="#c16479"/><path d="M129.87 338.17 L137.14 337.97 L137.37 345.81 L130.1 346.01 Z" fill="#c16479"/><path d="M137.14 337.97 L144.41 337.78 L144.63 345.62 L137.37 345.81 Z" fill="#b05e80"/><path d="M144.41 337.78 L151.68 337.58 L151.9 345.42 L144.63 345.62 Z" fill="#b05e80"/><path d="M151.68 337.58 L158.96 337.38 L159.17 345.22 L151.9 345.42 Z" fill="#9e5987"/><path d="M158.96 337.38 L166.23 337.18 L166.44 345.02 L159.17 345.22 Z" fill="#9e5987"/><path d="M166.23 337.18 L173.5 336.99 L173.71 344.83 L166.44 345.02 Z" fill="#9e5987"/><path d="M173.5 336.99 L180.77 336.79 L180.98 344.63 L173.71 344.83 Z" fill="#9e5987"/><path d="M180.77 336.79 L188.04 336.59 L188.25 344.43 L180.98 344.63 Z" fill="#9e5987"/><path d="M188.04 336.59 L195.31 336.4 L195.51 344.23 L188.25 344.43 Z" fill="#9e5987"/><path d="M195.31 336.4 L202.58 336.2 L202.78 344.03 L195.51 344.23 Z" fill="#9e5987"/><path d="M202.58 336.2 L209.85 336 L210.05 343.84 L202.78 344.03 Z" fill="#9e5987"/><path d="M209.85 336 L217.12 335.8 L217.32 343.64 L210.05 343.84 Z" fill="#b05e80"/><path d="M217.12 335.8 L224.39 335.61 L224.59 343.44 L217.32 343.64 Z" fill="#b05e80"/><path d="M224.39 335.61 L231.66 335.41 L231.86 343.24 L224.59 343.44 Z" fill="#b05e80"/><path d="M231.66 335.41 L238.93 335.21 L239.13 343.04 L231.86 343.24 Z" fill="#b05e80"/><path d="M238.93 335.21 L246.2 335.02 L246.4 342.85 L239.13 343.04 Z" fill="#b05e80"/><path d="M246.2 335.02 L253.47 334.82 L253.66 342.65 L246.4 342.85 Z" fill="#7e4d8f"/><path d="M253.47 334.82 L260.74 334.62 L260.93 342.45 L253.66 342.65 Z" fill="#5d3e99"/><path d="M260.74 334.62 L268.01 334.42 L268.2 342.25 L260.93 342.45 Z" fill="#35329b"/><path d="M268.01 334.42 L275.28 334.23 L275.47 342.06 L268.2 342.25 Z" fill="#213180"/><path d="M275.28 334.23 L282.55 334.03 L282.74 341.86 L275.47 342.06 Z" fill="#213180"/><path d="M282.55 334.03 L289.83 333.83 L290.01 341.66 L282.74 341.86 Z" fill="#0d3064"/><path d="M289.83 333.83 L297.1 333.64 L297.28 341.46 L290.01 341.66 Z" fill="#0d3064"/><path d="M297.1 333.64 L304.37 333.44 L304.54 341.26 L297.28 341.46 Z" fill="#082a4c"/><path d="M304.37 333.44 L311.64 333.24 L311.81 341.07 L304.54 341.26 Z" fill="#082a4c"/><path d="M311.64 333.24 L318.91 333.04 L319.08 340.87 L311.81 341.07 Z" fill="#082a4c"/><path d="M318.91 333.04 L326.18 332.85 L326.35 340.67 L319.08 340.87 Z" fill="#082a4c"/><path d="M326.18 332.85 L333.45 332.65 L333.62 340.47 L326.35 340.67 Z" fill="#032333"/><path d="M333.45 332.65 L340.72 332.45 L340.89 340.27 L333.62 340.47 Z" fill="#032333"/><path d="M340.72 332.45 L347.99 332.26 L348.16 340.08 L340.89 340.27 Z" fill="#082a4c"/><path d="M108.29 346.61 L115.56 346.41 L115.79 354.25 L108.52 354.45 Z" fill="#c16479"/><path d="M115.56 346.41 L122.83 346.21 L123.05 354.05 L115.79 354.25 Z" fill="#c16479"/><path d="M122.83 346.21 L130.1 346.01 L130.32 353.86 L123.05 354.05 Z" fill="#c16479"/><path d="M130.1 346.01 L137.37 345.81 L137.59 353.66 L130.32 353.86 Z" fill="#c16479"/><path d="M137.37 345.81 L144.63 345.62 L144.85 353.46 L137.59 353.66 Z" fill="#b05e80"/><path d="M144.63 345.62 L151.9 345.42 L152.12 353.26 L144.85 353.46 Z" fill="#b05e80"/><path d="M151.9 345.42 L159.17 345.22 L159.39 353.06 L152.12 353.26 Z" fill="#b05e80"/><path d="M159.17 345.22 L166.44 345.02 L166.65 352.86 L159.39 353.06 Z" fill="#b05e80"/><path d="M166.44 345.02 L173.71 344.83 L173.92 352.66 L166.65 352.86 Z" fill="#9e5987"/><path d="M173.71 344.83 L180.98 344.63 L181.19 352.46 L173.92 352.66 Z" fill="#9e5987"/><path d="M180.98 344.63 L188.25 344.43 L188.45 352.27 L181.19 352.46 Z" fill="#9e5987"/><path d="M188.25 344.43 L195.51 344.23 L195.72 352.07 L188.45 352.27 Z" fill="#9e5987"/><path d="M195.51 344.23 L202.78 344.03 L202.99 351.87 L195.72 352.07 Z" fill="#9e5987"/><path d="M202.78 344.03 L210.05 343.84 L210.25 351.67 L202.99 351.87 Z" fill="#9e5987"/><path d="M210.05 343.84 L217.32 343.64 L217.52 351.47 L210.25 351.67 Z" fill="#b05e80"/><path d="M217.32 343.64 L224.59 343.44 L224.79 351.27 L217.52 351.47 Z" fill="#9e5987"/><path d="M224.59 343.44 L231.86 343.24 L232.05 351.07 L224.79 351.27 Z" fill="#9e5987"/><path d="M231.86 343.24 L239.13 343.04 L239.32 350.88 L232.05 351.07 Z" fill="#9e5987"/><path d="M239.13 343.04 L246.4 342.85 L246.59 350.68 L239.32 350.88 Z" fill="#9e5987"/><path d="M246.4 342.85 L253.66 342.65 L253.86 350.48 L246.59 350.68 Z" fill="#7e4d8f"/><path d="M253.66 342.65 L260.93 342.45 L261.12 350.28 L253.86 350.48 Z" fill="#5d3e99"/><path d="M260.93 342.45 L268.2 342.25 L268.39 350.08 L261.12 350.28 Z" fill="#35329b"/><path d="M268.2 342.25 L275.47 342.06 L275.66 349.88 L268.39 350.08 Z" fill="#213180"/><path d="M275.47 342.06 L282.74 341.86 L282.92 349.68 L275.66 349.88 Z" fill="#213180"/><path d="M282.74 341.86 L290.01 341.66 L290.19 349.49 L282.92 349.68 Z" fill="#0d3064"/><path d="M290.01 341.66 L297.28 341.46 L297.46 349.29 L290.19 349.49 Z" fill="#0d3064"/><path d="M297.28 341.46 L304.54 341.26 L304.72 349.09 L297.46 349.29 Z" fill="#082a4c"/><path d="M304.54 341.26 L311.81 341.07 L311.99 348.89 L304.72 349.09 Z" fill="#082a4c"/><path d="M311.81 341.07 L319.08 340.87 L319.26 348.69 L311.99 348.89 Z" fill="#082a4c"/><path d="M319.08 340.87 L326.35 340.67 L326.52 348.49 L319.26 348.69 Z" fill="#082a4c"/><path d="M326.35 340.67 L333.62 340.47 L333.79 348.29 L326.52 348.49 Z" fill="#032333"/><path d="M333.62 340.47 L340.89 340.27 L341.06 348.1 L333.79 348.29 Z" fill="#032333"/><path d="M340.89 340.27 L348.16 340.08 L348.32 347.9 L341.06 348.1 Z" fill="#082a4c"/></g><path d="M405.5 108.5 L407.5 108.8 L409 110.5 L409.5 113 L408.5 116 L406.5 119 L405 123 L403.5 128 L402 135 L400.5 145 L399.4 150 L399 155 L398 161 L397 168 L395.5 174 L394 179 L393.5 183 L394.25 185 L395.5 188 L397 191 L398.75 194 L400.25 197 L401.5 200 L402.1 203 L401.5 205.5 L400.9 208 L400.5 210.5 L400.5 213.5 L401.5 214.75 L403 214.75 L404.5 212.5 L405.25 209.5 L406.25 207.75 L408 207.5 L409.75 208.5 L410.75 210.25 L411 213 L410.5 216 L409.25 218.5 L407.5 219.25 L406 220.25 L404.75 222 L403.2 224.5 L402 227.1 L401.8 230.5 L402.1 234.75 L401.1 240.7 L400.7 243.3 L402 246.7 L404.5 249.2 L407.9 251.3 L412.2 251.3 L415.6 249.2 L418.1 245 L420.2 240.7 L421 239 L424 234" fill="none" stroke="#6e6e6e" stroke-width="1.1"/><path d="M405.5 108.5 L403.5 109.5 L400 111 L395 112 L389 114 L385 116.5 L381.7 121 L378.75 125.5 L375.75 130 L372.75 134.5 L369.75 139 L367.5 143.5 L366 148 L364.5 151 L363.5 155 L361.5 158 L360.5 161 L359.5 167 L358 173 L356.5 179 L354.5 185 L352.5 190 L351 195 L349.5 200 L347.5 206 L345.5 212.5 L343 217.5 L340 221.5 L337 225 L334.5 229 L333 233 L332.4 240 L331.6 244 L330 248 L327.6 252.8 L324.8 256.8 L321.6 258.4 L318.8 260 L317.2 262.4 L316.8 264.8 L317.6 267.2 L318.8 270.4 L319.2 274.4 L320.4 277.6 L321.6 280.8 L321.6 284 L321.2 287.2 L320.4 291.2 L322 293.6 L326 294.4 L329.2 295.6 L331.6 298 L333.2 300 L336 303.8 L338 308.5 L340 314.2 L342.8 320 L346.6 325.6 L347.5 331.3 L348.5 337 L349 344.6 L349.4 355 L349.5 362" fill="none" stroke="#6e6e6e" stroke-width="1.1"/><path fill="#fee89c" d="M103.2 60.0 111.7 47.5 110.8 47.2 113.7 45.3 113.0 48.7 112.4 47.9 103.9 60.4ZM132.8 59.1 146.1 52.4 145.4 51.7 148.9 51.5 146.6 54.1 146.5 53.1 133.1 59.9ZM140.1 59.0 153.5 52.3 152.8 51.6 156.3 51.3 154.0 54.0 153.9 53.0 140.5 59.7ZM147.5 58.8 161.2 52.9 160.6 52.2 164.1 52.2 161.6 54.7 161.6 53.7 147.8 59.5ZM154.8 58.6 169.1 53.6 168.5 52.8 171.9 53.0 169.4 55.3 169.4 54.3 155.1 59.4ZM162.2 58.4 176.4 53.4 175.8 52.6 179.3 52.8 176.7 55.2 176.7 54.2 162.4 59.2ZM169.5 58.3 184.0 54.1 183.4 53.2 186.9 53.7 184.2 55.9 184.2 54.8 169.7 59.0ZM176.9 58.1 192.0 54.7 191.4 53.8 194.9 54.5 192.0 56.5 192.1 55.5 177.1 58.9ZM184.2 57.9 198.8 54.6 198.3 53.7 201.7 54.3 198.9 56.3 199.0 55.3 184.4 58.7ZM155.0 66.5 169.3 61.4 168.6 60.6 172.1 60.8 169.6 63.2 169.5 62.2 155.3 67.2ZM162.4 66.3 176.5 61.3 175.9 60.5 179.4 60.7 176.8 63.1 176.8 62.1 162.6 67.0Z"/><path fill="#fef0a8" d="M110.6 59.7 120.5 48.8 119.6 48.4 122.8 46.9 121.6 50.2 121.1 49.3 111.2 60.3ZM118.0 59.6 128.0 48.7 127.1 48.3 130.3 46.9 129.1 50.2 128.6 49.3 118.6 60.1ZM125.4 59.4 137.0 50.6 136.2 50.1 139.5 49.2 137.8 52.2 137.5 51.3 125.8 60.0ZM110.8 67.6 120.7 56.8 119.8 56.4 122.9 54.9 121.8 58.2 121.3 57.3 111.4 68.1ZM118.2 67.4 128.2 56.6 127.3 56.2 130.4 54.7 129.3 58.0 128.8 57.1 118.8 68.0ZM125.6 67.2 136.4 58.0 135.6 57.5 138.9 56.5 137.3 59.6 137.0 58.7 126.1 67.8ZM133.0 67.0 145.7 60.5 145.0 59.8 148.4 59.6 146.2 62.2 146.0 61.2 133.3 67.7ZM140.3 66.8 153.2 60.6 152.5 59.9 156.0 59.8 153.7 62.4 153.6 61.4 140.7 67.5ZM147.7 66.6 161.4 61.2 160.7 60.4 164.2 60.5 161.7 63.0 161.7 62.0 148.0 67.4Z"/><path fill="#d3ecf4" d="M191.5 57.8 199.3 54.8 198.6 54.0 202.1 54.1 199.6 56.6 199.6 55.5 191.8 58.5ZM104.2 91.3 110.2 85.1 109.3 84.7 112.5 83.4 111.3 86.6 110.8 85.7 104.8 91.8ZM111.5 91.1 117.6 85.0 116.7 84.5 119.9 83.2 118.6 86.4 118.2 85.5 112.1 91.7ZM156.2 105.6 165.0 104.8 164.6 103.9 167.9 104.9 164.8 106.6 165.1 105.6 156.3 106.4ZM340.2 132.5 348.1 135.4 348.1 134.4 350.6 136.8 347.2 137.0 347.8 136.2 340.0 133.3ZM347.7 140.2 355.7 142.2 355.6 141.2 358.4 143.3 355.0 143.8 355.5 143.0 347.5 140.9ZM151.5 199.9 160.3 199.8 160.0 198.9 163.2 200.2 160.0 201.6 160.3 200.6 151.5 200.7ZM256.5 299.1 263.4 303.6 263.7 302.6 265.7 305.5 262.2 304.9 263.0 304.3 256.0 299.8ZM263.8 299.0 269.7 305.2 270.2 304.3 271.4 307.6 268.2 306.2 269.1 305.8 263.2 299.6ZM285.9 306.4 288.0 314.6 288.9 314.0 288.4 317.5 286.3 314.7 287.3 314.8 285.2 306.6ZM147.7 325.5 156.7 325.5 156.3 324.6 159.5 325.9 156.3 327.3 156.7 326.3 147.7 326.3ZM155.0 325.3 163.9 325.4 163.5 324.4 166.7 325.8 163.5 327.1 163.8 326.2 155.0 326.1ZM140.9 341.4 149.8 341.4 149.5 340.4 152.7 341.8 149.5 343.2 149.8 342.2 140.9 342.2ZM133.8 349.4 142.7 349.4 142.4 348.5 145.6 349.8 142.4 351.2 142.7 350.2 133.8 350.2ZM148.4 349.0 156.8 349.3 156.5 348.3 159.7 349.8 156.5 351.0 156.8 350.1 148.4 349.8Z"/><path fill="#c6e6f0" d="M198.8 57.6 205.8 54.8 205.2 54.0 208.7 54.1 206.2 56.5 206.1 55.5 199.1 58.3ZM191.7 65.6 199.2 62.7 198.6 61.9 202.0 62.0 199.5 64.4 199.5 63.4 192.0 66.3ZM199.0 65.4 205.9 62.6 205.3 61.9 208.8 61.9 206.3 64.4 206.2 63.4 199.3 66.2ZM192.4 89.1 200.1 87.2 199.5 86.3 202.9 86.9 200.2 89.0 200.2 88.0 192.6 89.9ZM104.4 99.1 110.3 93.4 109.4 93.0 112.6 91.7 111.3 94.9 110.8 94.0 105.0 99.7ZM111.8 98.9 117.6 93.3 116.7 92.8 119.9 91.5 118.6 94.7 118.2 93.8 112.3 99.5ZM119.1 98.7 125.0 94.0 124.2 93.5 127.5 92.5 125.9 95.6 125.5 94.6 119.6 99.4ZM192.6 96.9 200.2 96.1 199.8 95.1 203.1 96.1 200.1 97.8 200.3 96.9 192.7 97.7ZM193.3 120.4 201.3 120.4 201.0 119.4 204.2 120.8 201.0 122.2 201.3 121.2 193.3 121.2ZM362.0 124.2 369.0 127.3 369.1 126.2 371.5 128.8 368.0 128.7 368.7 128.0 361.7 124.9ZM164.6 144.6 172.2 144.4 171.8 143.5 175.1 144.8 171.9 146.2 172.2 145.2 164.6 145.4ZM355.1 147.8 362.5 149.1 362.4 148.1 365.3 150.0 361.9 150.8 362.4 149.9 355.0 148.6ZM122.0 192.8 129.3 190.7 128.8 189.9 132.2 190.3 129.5 192.5 129.6 191.5 122.2 193.6ZM136.7 192.4 144.7 192.4 144.4 191.4 147.6 192.8 144.4 194.2 144.7 193.2 136.7 193.2ZM129.6 200.4 137.4 199.4 137.0 198.5 140.3 199.5 137.3 201.2 137.5 200.2 129.7 201.2ZM122.3 208.5 129.0 203.9 128.2 203.3 131.6 202.6 129.7 205.5 129.5 204.5 122.8 209.2ZM137.1 208.1 145.1 206.9 144.7 206.0 148.0 206.9 145.1 208.7 145.2 207.7 137.2 208.9ZM151.7 207.7 159.5 207.6 159.2 206.6 162.4 207.9 159.2 209.3 159.5 208.4 151.7 208.5ZM256.7 307.0 261.9 312.4 262.4 311.5 263.6 314.7 260.4 313.4 261.3 312.9 256.2 307.6ZM140.7 333.6 148.4 333.6 148.1 332.6 151.3 334.0 148.1 335.3 148.4 334.4 140.7 334.4ZM133.6 341.6 141.6 341.6 141.2 340.6 144.4 342.0 141.2 343.4 141.6 342.4 133.6 342.4ZM155.4 341.0 163.6 341.4 163.4 340.4 166.5 341.9 163.2 343.1 163.6 342.2 155.4 341.8Z"/><path fill="#689fca" d="M206.1 57.4 208.0 56.5 207.3 55.8 210.7 55.7 208.4 58.3 208.3 57.3 206.5 58.2ZM213.5 57.3 215.0 56.5 214.2 55.8 217.7 55.6 215.5 58.2 215.3 57.2 213.8 58.0ZM265.0 56.8 263.0 56.8 263.4 57.8 260.2 56.4 263.4 55.1 263.0 56.0 265.0 56.0ZM272.4 56.7 270.3 56.6 270.6 57.6 267.4 56.2 270.6 54.9 270.3 55.8 272.4 55.9ZM279.7 56.5 277.6 56.5 277.9 57.4 274.7 56.1 277.9 54.7 277.6 55.7 279.7 55.7ZM287.0 56.3 285.0 56.3 285.3 57.3 282.1 55.9 285.3 54.5 285.0 55.5 287.1 55.5ZM382.1 53.7 381.9 51.5 381.0 51.9 382.2 48.6 383.7 51.7 382.7 51.4 382.8 53.7ZM206.3 65.3 208.4 64.3 207.6 63.6 211.1 63.4 208.8 66.0 208.7 65.0 206.7 66.0ZM213.7 65.1 215.2 64.4 214.4 63.7 217.9 63.5 215.6 66.1 215.5 65.1 214.0 65.8ZM265.2 64.6 263.2 64.7 263.5 65.6 260.3 64.3 263.5 62.9 263.2 63.9 265.2 63.8ZM272.6 64.5 270.5 64.5 270.8 65.4 267.6 64.1 270.8 62.7 270.5 63.7 272.6 63.7ZM279.9 64.3 277.8 64.3 278.1 65.3 274.9 63.9 278.1 62.5 277.8 63.5 279.9 63.5ZM287.2 64.1 285.4 64.1 285.6 65.1 282.5 63.6 285.7 62.3 285.4 63.3 287.2 63.3ZM382.2 61.5 382.1 59.3 381.1 59.7 382.3 56.4 383.9 59.5 382.9 59.3 383.0 61.5ZM265.4 72.5 263.6 72.5 263.9 73.4 260.7 72.1 263.9 70.7 263.6 71.7 265.4 71.7ZM272.7 72.3 270.9 72.3 271.2 73.3 268.0 71.9 271.2 70.5 270.9 71.5 272.7 71.5ZM382.4 69.3 382.2 67.0 381.3 67.4 382.4 64.1 384.0 67.2 383.0 66.9 383.2 69.3ZM258.3 80.5 256.2 80.5 256.5 81.4 253.3 80.1 256.5 78.7 256.2 79.7 258.3 79.7ZM265.6 80.3 263.5 80.3 263.8 81.3 260.6 79.9 263.8 78.5 263.5 79.5 265.6 79.5ZM272.9 80.1 271.3 80.1 271.7 81.1 268.5 79.7 271.7 78.4 271.3 79.3 272.9 79.3ZM258.4 88.3 256.4 88.3 256.7 89.3 253.5 87.9 256.7 86.5 256.4 87.5 258.4 87.5ZM265.8 88.1 263.7 88.1 264.0 89.1 260.8 87.7 264.0 86.4 263.7 87.3 265.8 87.3ZM222.2 104.0 224.2 104.0 223.9 103.1 227.1 104.4 223.9 105.8 224.2 104.8 222.2 104.8ZM229.5 103.9 231.4 103.9 231.1 102.9 234.3 104.3 231.1 105.6 231.5 104.7 229.5 104.7ZM390.3 100.4 390.2 98.7 389.3 99.1 390.4 95.8 392.0 98.9 391.0 98.7 391.1 100.4ZM222.4 111.9 224.5 111.9 224.2 110.9 227.4 112.2 224.2 113.6 224.5 112.7 222.4 112.7ZM229.7 111.7 231.7 111.7 231.4 110.7 234.6 112.0 231.4 113.4 231.7 112.5 229.7 112.5ZM105.3 122.6 107.5 121.9 106.9 121.1 110.4 121.4 107.7 123.7 107.7 122.6 105.5 123.3ZM127.4 122.0 129.4 121.9 129.0 120.9 132.3 122.1 129.2 123.6 129.5 122.7 127.4 122.8ZM142.0 121.7 144.3 121.6 144.0 120.7 147.2 122.0 144.0 123.4 144.3 122.4 142.0 122.5ZM149.3 121.5 151.5 121.5 151.2 120.5 154.4 121.9 151.2 123.2 151.5 122.3 149.4 122.3ZM376.5 116.0 378.4 116.6 378.4 115.6 381.0 117.9 377.5 118.2 378.1 117.4 376.2 116.8ZM134.9 129.7 137.1 129.6 136.8 128.7 140.0 130.0 136.9 131.4 137.2 130.4 134.9 130.5ZM142.2 129.5 144.4 129.5 144.1 128.5 147.3 129.9 144.1 131.3 144.4 130.3 142.2 130.3ZM149.6 129.3 151.7 129.3 151.4 128.4 154.6 129.7 151.4 131.1 151.7 130.1 149.6 130.1ZM259.2 126.7 260.7 125.6 259.9 125.0 263.3 124.2 261.5 127.2 261.2 126.2 259.6 127.4ZM266.5 126.6 267.9 125.5 267.1 124.9 270.5 124.1 268.7 127.1 268.4 126.1 266.9 127.2ZM273.8 126.4 275.3 125.3 274.5 124.7 277.9 124.0 276.0 126.9 275.7 126.0 274.3 127.0ZM281.1 126.2 282.7 125.2 281.9 124.6 285.3 124.1 283.3 126.9 283.1 125.9 281.6 126.9ZM310.2 125.8 310.5 123.8 309.5 124.0 311.3 121.0 312.2 124.4 311.3 123.9 311.0 125.9ZM142.5 137.3 144.4 137.3 144.1 136.4 147.3 137.7 144.1 139.1 144.4 138.1 142.5 138.1ZM149.8 137.2 151.9 137.2 151.6 136.2 154.8 137.5 151.6 138.9 151.9 138.0 149.8 138.0ZM259.3 134.6 260.8 133.5 260.0 132.9 263.4 132.1 261.6 135.1 261.3 134.1 259.8 135.2ZM266.7 134.4 268.3 133.2 267.5 132.6 270.9 131.8 269.1 134.8 268.8 133.8 267.1 135.0ZM274.0 134.2 275.6 133.0 274.8 132.4 278.2 131.6 276.4 134.6 276.1 133.6 274.5 134.8ZM281.3 134.0 283.0 132.8 282.1 132.2 285.5 131.4 283.7 134.4 283.4 133.5 281.8 134.7ZM288.6 133.8 289.9 132.9 289.1 132.3 292.5 131.6 290.7 134.6 290.4 133.6 289.1 134.5ZM295.8 133.9 296.2 132.2 295.2 132.3 297.3 129.5 297.8 132.9 297.0 132.4 296.6 134.1ZM266.9 142.2 268.3 141.5 267.6 140.7 271.0 140.5 268.8 143.2 268.7 142.2 267.3 142.9ZM274.2 142.0 275.6 141.1 274.8 140.5 278.3 139.9 276.3 142.8 276.1 141.8 274.6 142.7ZM281.5 141.8 282.9 140.9 282.0 140.3 285.4 139.5 283.6 142.5 283.3 141.5 282.0 142.5ZM296.0 141.8 296.2 139.4 295.2 139.6 297.0 136.6 297.9 139.9 297.0 139.5 296.7 141.9ZM332.7 140.6 334.0 139.3 333.1 138.9 336.4 137.6 335.0 140.8 334.6 139.9 333.2 141.2ZM164.8 152.5 167.0 152.1 166.5 151.2 169.9 152.0 167.0 153.9 167.1 152.9 164.9 153.3ZM303.5 149.4 303.8 147.3 302.8 147.5 304.6 144.5 305.4 147.9 304.5 147.4 304.2 149.5ZM310.8 149.3 310.8 147.1 309.8 147.4 311.3 144.2 312.6 147.4 311.6 147.1 311.6 149.3ZM332.8 148.5 334.4 146.8 333.5 146.4 336.6 145.0 335.4 148.3 335.0 147.4 333.4 149.0ZM106.6 161.8 108.3 161.8 107.9 160.8 111.1 162.2 107.9 163.5 108.2 162.6 106.5 162.6ZM179.5 160.0 181.1 159.0 180.3 158.4 183.8 157.8 181.8 160.7 181.5 159.7 179.9 160.7ZM303.7 157.1 304.3 155.7 303.3 155.6 305.9 153.3 305.8 156.7 305.0 156.0 304.4 157.5ZM310.9 157.1 311.0 155.1 310.0 155.4 311.5 152.2 312.8 155.4 311.8 155.1 311.7 157.1ZM318.3 156.9 318.3 154.8 317.3 155.1 318.7 151.9 320.0 155.2 319.1 154.8 319.1 156.9ZM325.6 156.7 326.0 154.5 325.0 154.6 326.8 151.7 327.6 155.1 326.7 154.6 326.4 156.8ZM114.1 169.4 116.4 169.4 116.1 168.5 119.3 169.9 116.1 171.2 116.4 170.2 114.1 170.2ZM121.4 169.2 123.6 169.2 123.2 168.3 126.4 169.7 123.2 171.0 123.6 170.0 121.4 170.0ZM136.0 168.9 137.7 168.9 137.4 167.9 140.6 169.3 137.4 170.6 137.8 169.7 136.0 169.7ZM165.1 168.2 166.9 167.3 166.2 166.6 169.7 166.3 167.4 169.0 167.3 168.0 165.5 168.9ZM238.2 166.4 240.0 165.0 239.1 164.5 242.5 163.6 240.8 166.6 240.5 165.7 238.6 167.1ZM245.5 166.2 247.0 165.2 246.1 164.6 249.5 163.8 247.7 166.8 247.4 165.8 245.9 166.9ZM333.3 164.0 334.9 163.2 334.2 162.5 337.6 162.3 335.4 164.9 335.2 163.9 333.6 164.7ZM355.3 163.4 357.5 163.0 357.0 162.1 360.4 162.8 357.6 164.8 357.7 163.8 355.5 164.2ZM238.3 174.3 240.1 173.0 239.2 172.4 242.6 171.5 240.9 174.6 240.6 173.6 238.8 174.9ZM245.7 174.1 247.3 172.9 246.5 172.3 249.8 171.5 248.1 174.5 247.8 173.5 246.1 174.7ZM340.8 171.6 343.1 171.1 342.6 170.3 346.0 170.9 343.2 172.9 343.3 171.9 341.0 172.4ZM151.1 184.2 153.0 184.2 152.7 183.2 155.9 184.6 152.7 186.0 153.0 185.0 151.1 185.0ZM172.9 183.7 174.4 183.1 173.8 182.3 177.3 182.6 174.7 184.9 174.7 183.9 173.1 184.4ZM238.5 182.1 240.3 180.7 239.5 180.2 242.9 179.3 241.1 182.3 240.8 181.4 239.0 182.7ZM245.9 181.9 247.3 180.9 246.4 180.3 249.8 179.6 248.0 182.6 247.7 181.6 246.3 182.6ZM238.7 189.9 240.3 188.9 239.4 188.2 242.8 187.5 241.0 190.5 240.7 189.5 239.2 190.6ZM188.0 199.0 190.1 198.6 189.6 197.7 193.0 198.4 190.1 200.4 190.2 199.3 188.1 199.8ZM195.3 198.8 197.4 198.4 196.9 197.5 200.3 198.2 197.5 200.1 197.6 199.1 195.4 199.6ZM202.6 198.6 204.8 198.0 204.2 197.2 207.7 197.7 204.9 199.8 205.0 198.8 202.7 199.4ZM231.6 198.0 232.9 196.5 232.0 196.1 235.1 194.6 234.0 197.9 233.5 197.0 232.2 198.5ZM312.6 196.0 313.2 197.4 314.0 196.7 314.2 200.2 311.5 197.9 312.5 197.8 311.9 196.4ZM188.2 206.8 189.9 206.6 189.4 205.7 192.8 206.7 189.7 208.4 189.9 207.4 188.3 207.6ZM195.5 206.6 197.6 206.2 197.1 205.3 200.5 206.1 197.6 208.0 197.7 207.0 195.6 207.4ZM202.8 206.4 204.8 206.0 204.3 205.1 207.7 205.8 204.8 207.8 205.0 206.8 202.9 207.2ZM298.1 204.2 299.1 205.5 299.7 204.7 300.4 208.1 297.5 206.3 298.4 206.0 297.5 204.7ZM305.4 204.0 306.4 205.5 307.0 204.7 307.6 208.1 304.7 206.2 305.7 205.9 304.7 204.5ZM195.7 214.4 197.4 214.3 196.9 213.3 200.3 214.3 197.2 216.0 197.4 215.1 195.8 215.2ZM298.3 212.0 299.5 213.7 300.1 212.9 300.9 216.2 297.9 214.5 298.9 214.2 297.6 212.5ZM305.6 211.8 306.8 213.5 307.4 212.7 308.2 216.1 305.2 214.3 306.2 214.0 304.9 212.3ZM312.9 211.7 313.8 213.2 314.5 212.4 314.9 215.9 312.1 213.8 313.1 213.6 312.2 212.1ZM320.2 211.5 320.9 212.9 321.6 212.2 321.8 215.7 319.2 213.4 320.2 213.3 319.5 211.9ZM327.5 211.3 328.2 212.7 328.9 212.0 329.1 215.5 326.5 213.2 327.5 213.1 326.8 211.7ZM152.1 223.4 153.7 223.1 153.2 222.2 156.6 223.0 153.7 224.9 153.8 223.9 152.2 224.2ZM298.5 219.8 299.7 221.5 300.3 220.7 301.1 224.1 298.1 222.3 299.1 222.0 297.8 220.3ZM305.8 219.6 307.0 221.4 307.6 220.5 308.4 223.9 305.4 222.2 306.4 221.8 305.1 220.1ZM313.1 219.5 314.1 221.1 314.8 220.3 315.4 223.8 312.5 221.8 313.5 221.6 312.4 219.9ZM320.4 219.3 321.1 220.8 321.8 220.0 322.1 223.5 319.4 221.3 320.4 221.1 319.7 219.7ZM327.7 219.1 328.4 220.6 329.1 219.9 329.3 223.3 326.7 221.1 327.7 220.9 327.0 219.5ZM335.0 219.0 335.7 220.4 336.4 219.7 336.7 223.1 334.0 220.9 335.0 220.8 334.3 219.3ZM342.3 218.8 343.1 220.2 343.8 219.5 344.1 223.0 341.4 220.8 342.4 220.6 341.6 219.1ZM269.5 228.6 269.9 230.2 270.7 229.6 270.0 233.1 268.1 230.2 269.1 230.3 268.7 228.7ZM276.8 228.3 277.6 229.9 278.3 229.2 278.6 232.6 275.9 230.4 276.9 230.3 276.1 228.6ZM284.1 228.1 285.2 229.9 285.8 229.1 286.3 232.5 283.5 230.5 284.5 230.3 283.4 228.5ZM320.5 227.1 322.0 228.9 322.5 228.1 323.4 231.5 320.4 229.8 321.3 229.4 319.9 227.6ZM327.8 226.9 329.1 228.6 329.7 227.8 330.5 231.2 327.5 229.4 328.5 229.1 327.2 227.4ZM335.1 226.7 336.4 228.4 337.0 227.6 337.8 231.0 334.8 229.2 335.8 228.9 334.5 227.2ZM210.6 237.8 211.8 235.8 210.8 235.6 213.5 233.5 213.1 236.9 212.5 236.2 211.3 238.2ZM262.4 236.7 262.5 238.5 263.4 238.2 262.1 241.4 260.7 238.2 261.7 238.5 261.6 236.7ZM269.7 236.5 269.8 238.6 270.8 238.3 269.5 241.5 268.0 238.4 269.0 238.6 268.9 236.5ZM116.0 248.3 116.0 245.9 115.0 246.2 116.4 243.1 117.7 246.3 116.8 245.9 116.8 248.3ZM123.3 248.1 123.3 245.9 122.3 246.2 123.8 243.0 125.1 246.3 124.1 245.9 124.1 248.1ZM159.7 247.1 159.8 245.2 158.8 245.5 160.2 242.3 161.5 245.5 160.5 245.2 160.5 247.1ZM167.0 246.9 167.0 245.0 166.1 245.3 167.5 242.1 168.8 245.3 167.8 245.0 167.8 246.9ZM174.3 246.7 174.5 244.9 173.5 245.1 175.3 242.1 176.2 245.4 175.3 245.0 175.1 246.8ZM218.1 245.4 219.4 243.5 218.4 243.2 221.4 241.4 220.7 244.8 220.1 244.0 218.8 245.8ZM262.6 244.5 262.6 246.6 263.6 246.2 262.3 249.5 260.9 246.3 261.8 246.6 261.8 244.5ZM269.9 244.3 270.0 246.5 270.9 246.2 269.7 249.4 268.2 246.3 269.2 246.5 269.1 244.3ZM116.2 256.1 116.2 253.9 115.2 254.2 116.6 251.0 118.0 254.2 117.0 253.9 117.0 256.1ZM123.5 255.9 123.5 253.8 122.5 254.1 123.9 250.9 125.3 254.1 124.3 253.8 124.3 255.9ZM159.9 255.0 159.9 252.8 159.0 253.1 160.4 249.9 161.7 253.1 160.7 252.8 160.7 255.0ZM167.2 254.8 167.2 252.6 166.3 252.9 167.7 249.7 169.0 252.9 168.0 252.6 168.0 254.8ZM116.4 263.9 116.5 262.1 115.5 262.4 116.9 259.2 118.2 262.5 117.3 262.1 117.2 264.0ZM123.7 263.7 123.9 262.1 122.9 262.3 124.5 259.2 125.6 262.5 124.7 262.1 124.5 263.8ZM152.9 262.9 153.2 261.4 152.2 261.5 154.3 258.7 154.9 262.1 154.0 261.6 153.6 263.1ZM204.0 261.4 205.6 259.8 204.7 259.3 207.9 258.0 206.6 261.2 206.1 260.3 204.6 261.9ZM174.9 270.2 175.3 267.9 174.3 268.1 176.2 265.2 177.0 268.5 176.1 268.1 175.7 270.3ZM204.2 269.2 205.6 268.2 204.7 267.6 208.1 266.7 206.4 269.8 206.1 268.8 204.7 269.8ZM160.6 278.4 161.0 276.5 160.0 276.6 162.1 273.8 162.7 277.3 161.8 276.7 161.4 278.6ZM167.9 278.2 168.1 276.4 167.1 276.5 169.0 273.6 169.8 276.9 168.9 276.5 168.7 278.4ZM189.8 277.5 190.8 275.7 189.8 275.5 192.6 273.4 192.2 276.9 191.5 276.1 190.5 277.9ZM197.1 277.3 198.5 275.6 197.6 275.3 200.7 273.8 199.6 277.1 199.1 276.2 197.7 277.8ZM248.6 283.6 250.5 283.9 250.3 282.9 253.3 284.6 250.0 285.6 250.4 284.7 248.5 284.4ZM314.6 289.9 315.9 291.6 316.5 290.8 317.3 294.1 314.3 292.4 315.3 292.1 314.0 290.4ZM161.7 301.6 163.4 301.9 163.3 300.9 166.2 302.8 162.8 303.6 163.3 302.7 161.6 302.4ZM307.5 297.9 308.8 299.7 309.4 298.9 310.0 302.3 307.1 300.4 308.1 300.2 306.9 298.4ZM314.8 297.7 315.9 299.0 316.4 298.1 317.5 301.5 314.4 299.9 315.3 299.5 314.2 298.2ZM132.7 310.2 134.8 310.2 134.5 309.3 137.7 310.6 134.5 312.0 134.8 311.0 132.7 311.0ZM140.0 310.0 142.2 310.0 141.9 309.1 145.1 310.4 141.9 311.8 142.2 310.8 140.0 310.8ZM220.2 307.9 221.6 308.6 221.8 307.6 224.0 310.2 220.6 310.1 221.3 309.3 219.9 308.6ZM242.1 307.3 243.4 308.0 243.6 307.0 245.9 309.7 242.4 309.5 243.1 308.7 241.7 308.1ZM307.7 305.8 308.7 307.5 309.4 306.8 309.7 310.3 307.0 308.1 308.0 307.9 307.0 306.1ZM125.7 318.3 127.7 318.3 127.4 317.3 130.6 318.7 127.4 320.0 127.7 319.1 125.7 319.1ZM133.0 318.1 135.2 318.1 134.9 317.1 138.1 318.5 134.9 319.8 135.2 318.9 133.0 318.9ZM213.2 316.0 214.6 316.7 214.7 315.7 217.0 318.3 213.5 318.1 214.2 317.4 212.8 316.7ZM220.4 315.8 221.9 316.5 222.0 315.5 224.3 318.1 220.8 317.9 221.5 317.2 220.1 316.5ZM227.7 315.6 229.1 316.3 229.3 315.3 231.6 317.9 228.1 317.7 228.8 317.0 227.4 316.3ZM235.0 315.4 236.4 316.1 236.6 315.1 238.8 317.7 235.3 317.5 236.1 316.8 234.6 316.1ZM242.3 315.2 243.7 315.9 243.8 314.9 246.1 317.6 242.6 317.3 243.3 316.6 241.9 315.9ZM293.3 314.0 294.6 315.9 295.2 315.1 295.8 318.5 292.9 316.6 293.9 316.3 292.7 314.4ZM300.7 313.8 301.6 315.9 302.3 315.2 302.4 318.7 299.8 316.3 300.8 316.2 299.9 314.1ZM184.2 324.5 186.3 325.1 186.3 324.1 189.0 326.3 185.6 326.7 186.1 325.9 184.0 325.3ZM191.5 324.4 193.1 324.7 193.0 323.7 195.8 325.8 192.4 326.4 192.9 325.5 191.3 325.1ZM198.7 324.2 200.4 324.6 200.3 323.5 203.1 325.6 199.7 326.2 200.2 325.3 198.5 324.9ZM206.0 324.0 207.6 324.5 207.6 323.5 210.3 325.7 206.8 326.1 207.4 325.2 205.8 324.7ZM213.3 323.8 214.9 324.5 215.0 323.5 217.4 326.0 213.9 326.0 214.6 325.2 213.0 324.5ZM220.6 323.6 222.5 324.4 222.6 323.4 224.9 325.9 221.5 325.9 222.1 325.1 220.3 324.3ZM227.9 323.4 229.9 324.3 230.0 323.3 232.4 325.8 228.9 325.8 229.6 325.0 227.6 324.1ZM235.2 323.2 236.9 324.1 237.1 323.1 239.3 325.7 235.9 325.5 236.6 324.8 234.8 323.9ZM242.5 323.0 244.5 324.1 244.7 323.1 246.8 325.9 243.3 325.5 244.1 324.8 242.1 323.7ZM286.2 322.0 287.5 323.7 288.1 322.8 288.9 326.2 285.9 324.5 286.9 324.1 285.6 322.4ZM293.5 321.8 294.8 323.4 295.3 322.6 296.2 326.0 293.2 324.2 294.1 323.9 292.9 322.2ZM300.8 321.5 301.8 322.8 302.4 322.0 303.3 325.3 300.3 323.7 301.2 323.3 300.2 322.1ZM191.8 332.2 193.7 333.3 193.9 332.3 196.1 335.0 192.6 334.7 193.4 334.0 191.4 332.9ZM199.0 332.0 201.0 333.1 201.2 332.1 203.3 334.8 199.9 334.5 200.6 333.8 198.6 332.7ZM206.3 331.8 208.1 332.8 208.3 331.8 210.4 334.6 207.0 334.2 207.7 333.5 205.9 332.5ZM213.6 331.6 215.6 332.6 215.7 331.6 218.0 334.1 214.6 334.0 215.3 333.3 213.2 332.3ZM264.5 330.3 266.3 331.7 266.6 330.7 268.4 333.7 265.0 332.9 265.8 332.3 264.0 330.9ZM271.8 330.1 273.6 331.5 273.9 330.5 275.6 333.6 272.2 332.7 273.1 332.1 271.3 330.7ZM279.1 329.9 280.6 331.4 281.1 330.5 282.4 333.6 279.2 332.4 280.1 332.0 278.6 330.5ZM111.8 342.2 113.4 342.2 113.1 341.2 116.3 342.6 113.1 343.9 113.4 343.0 111.8 343.0ZM119.1 342.0 120.9 342.0 120.6 341.0 123.8 342.4 120.6 343.7 120.9 342.8 119.1 342.8ZM192.0 340.1 193.8 341.3 194.1 340.3 196.0 343.2 192.6 342.6 193.4 342.0 191.6 340.7ZM199.3 339.9 201.0 341.1 201.3 340.2 203.1 343.2 199.7 342.4 200.5 341.8 198.8 340.5ZM206.6 339.7 208.3 341.0 208.6 340.0 210.3 343.0 207.0 342.2 207.8 341.6 206.1 340.3ZM213.8 339.5 215.7 340.6 215.9 339.6 218.1 342.3 214.6 341.9 215.4 341.3 213.4 340.2ZM264.7 338.1 266.4 339.4 266.7 338.4 268.5 341.5 265.1 340.6 265.9 340.0 264.2 338.8ZM272.0 337.9 273.7 339.2 274.0 338.2 275.7 341.3 272.4 340.4 273.2 339.8 271.5 338.6ZM279.3 337.7 280.6 338.9 281.0 338.0 282.5 341.1 279.2 340.1 280.1 339.5 278.7 338.3ZM112.0 350.0 114.1 350.0 113.8 349.1 117.0 350.4 113.8 351.8 114.1 350.8 112.0 350.8ZM119.3 349.8 121.5 349.8 121.2 348.9 124.4 350.2 121.2 351.6 121.5 350.6 119.3 350.6ZM199.5 347.7 201.2 349.0 201.5 348.0 203.3 351.0 199.9 350.2 200.7 349.6 199.0 348.4ZM206.8 347.5 208.5 348.8 208.8 347.8 210.5 350.8 207.2 350.0 208.0 349.4 206.3 348.2ZM214.0 347.3 215.8 348.5 216.1 347.5 218.0 350.4 214.6 349.8 215.4 349.2 213.6 348.0ZM264.9 345.9 266.7 347.3 267.0 346.3 268.7 349.3 265.3 348.5 266.2 347.9 264.4 346.6ZM272.2 345.8 273.9 347.0 274.2 346.1 275.9 349.1 272.5 348.2 273.4 347.7 271.7 346.4ZM279.5 345.6 280.8 346.7 281.2 345.8 282.7 348.9 279.4 347.9 280.3 347.3 278.9 346.2Z"/><path fill="#5c91c2" d="M220.8 57.1 222.0 56.6 221.3 55.8 224.8 55.8 222.4 58.3 222.3 57.3 221.2 57.8ZM338.0 54.6 338.3 53.4 337.3 53.5 339.4 50.7 340.0 54.2 339.1 53.6 338.8 54.8ZM345.4 54.4 345.7 53.2 344.7 53.3 346.7 50.5 347.3 54.0 346.4 53.4 346.1 54.6ZM352.7 54.3 352.8 53.2 351.8 53.4 353.6 50.4 354.5 53.7 353.6 53.3 353.5 54.4ZM360.0 54.2 360.0 53.1 359.1 53.4 360.4 50.2 361.8 53.4 360.8 53.1 360.8 54.2ZM367.4 54.0 367.4 52.9 366.4 53.2 367.8 50.0 369.1 53.2 368.2 52.9 368.2 54.0ZM374.7 53.9 374.7 52.7 373.7 53.0 375.1 49.8 376.5 53.0 375.5 52.7 375.5 53.9ZM221.1 64.9 221.9 64.6 221.3 63.8 224.7 63.9 222.3 66.3 222.2 65.3 221.3 65.7ZM338.2 62.4 338.5 61.2 337.5 61.3 339.6 58.5 340.1 62.0 339.3 61.4 339.0 62.6ZM345.5 62.3 345.8 61.1 344.8 61.1 346.9 58.4 347.5 61.8 346.6 61.3 346.3 62.5ZM352.9 62.1 353.0 61.0 352.0 61.2 353.7 58.2 354.7 61.5 353.8 61.1 353.7 62.2ZM360.2 62.0 360.2 60.9 359.2 61.2 360.6 58.0 362.0 61.2 361.0 60.9 361.0 62.0ZM367.5 61.8 367.5 60.7 366.6 61.0 367.9 57.8 369.3 61.0 368.3 60.7 368.3 61.8ZM374.9 61.7 374.9 60.5 373.9 60.8 375.2 57.6 376.6 60.8 375.7 60.5 375.7 61.7ZM213.9 72.9 214.6 72.7 214.0 71.9 217.5 72.0 214.9 74.4 214.9 73.4 214.2 73.7ZM258.1 72.7 257.0 72.7 257.3 73.6 254.1 72.3 257.3 70.9 256.9 71.9 258.1 71.9ZM280.1 72.1 278.6 72.1 278.9 73.1 275.7 71.6 278.9 70.3 278.6 71.3 280.1 71.3ZM338.4 70.3 338.6 69.1 337.6 69.2 339.7 66.4 340.3 69.9 339.4 69.3 339.1 70.4ZM345.7 70.1 346.0 68.9 345.0 69.0 347.0 66.2 347.6 69.6 346.8 69.1 346.5 70.3ZM353.0 69.9 353.2 68.9 352.2 69.1 354.0 66.1 354.9 69.5 354.0 69.0 353.8 70.1ZM360.4 69.8 360.4 68.8 359.4 69.1 360.8 66.0 362.1 69.2 361.2 68.9 361.2 69.8ZM367.7 69.7 367.7 68.7 366.7 69.0 368.1 65.8 369.5 69.0 368.5 68.7 368.5 69.7ZM375.0 69.5 375.0 68.3 374.0 68.6 375.3 65.4 376.8 68.6 375.8 68.3 375.8 69.5ZM214.1 80.7 214.8 80.5 214.2 79.7 217.7 79.9 215.1 82.3 215.1 81.3 214.4 81.5ZM250.9 80.7 249.5 80.7 249.8 81.6 246.6 80.3 249.8 78.9 249.5 79.9 250.9 79.9ZM280.3 80.0 279.1 80.0 279.5 80.9 276.3 79.5 279.5 78.2 279.1 79.2 280.3 79.2ZM287.6 79.8 286.6 79.8 286.9 80.7 283.7 79.3 286.9 78.0 286.6 79.0 287.6 79.0ZM338.5 78.1 338.8 76.9 337.8 77.0 339.9 74.2 340.5 77.6 339.6 77.1 339.3 78.3ZM345.9 77.9 346.2 76.7 345.2 76.8 347.3 74.0 347.8 77.5 346.9 76.9 346.6 78.1ZM353.2 77.7 353.4 76.9 352.4 76.9 354.5 74.2 355.0 77.6 354.2 77.1 354.0 77.9ZM251.1 88.5 250.1 88.5 250.5 89.4 247.2 88.1 250.4 86.7 250.1 87.7 251.1 87.7ZM273.1 88.0 271.7 88.0 272.0 88.9 268.8 87.6 272.0 86.2 271.7 87.2 273.1 87.2ZM280.4 87.8 279.3 87.8 279.7 88.7 276.5 87.4 279.7 86.0 279.3 87.0 280.4 87.0ZM287.8 87.6 286.8 87.6 287.1 88.6 284.0 87.1 287.2 85.8 286.9 86.8 287.8 86.8ZM338.7 85.9 339.0 84.8 338.0 84.9 340.1 82.1 340.6 85.6 339.8 85.0 339.5 86.1ZM346.0 85.7 346.3 84.6 345.3 84.7 347.4 81.9 347.9 85.4 347.1 84.8 346.8 85.9ZM258.6 96.1 257.7 96.1 258.0 97.1 254.8 95.8 258.0 94.4 257.7 95.3 258.6 95.3ZM266.0 96.0 264.7 96.0 265.1 96.9 261.9 95.6 265.1 94.2 264.7 95.2 266.0 95.2ZM273.3 95.8 272.2 95.8 272.5 96.7 269.3 95.4 272.5 94.0 272.2 95.0 273.3 95.0ZM280.6 95.6 279.6 95.6 279.9 96.6 276.7 95.2 279.9 93.9 279.6 94.8 280.6 94.8ZM354.2 93.2 355.1 93.9 355.5 93.0 357.0 96.1 353.7 95.1 354.5 94.5 353.7 93.8ZM273.5 103.6 272.7 103.6 273.0 104.6 269.8 103.3 273.0 101.9 272.7 102.8 273.5 102.8ZM280.8 103.4 279.9 103.4 280.2 104.4 277.0 103.0 280.2 101.7 279.9 102.6 280.8 102.6ZM112.7 122.4 114.0 122.3 113.6 121.4 116.9 122.6 113.7 124.1 114.0 123.1 112.8 123.2ZM120.0 122.2 121.2 122.2 120.9 121.2 124.1 122.5 120.9 123.9 121.2 123.0 120.1 123.0ZM222.5 119.7 223.8 119.4 223.3 118.6 226.7 119.2 223.9 121.2 224.0 120.2 222.7 120.5ZM229.8 119.5 230.9 119.3 230.4 118.4 233.8 119.1 231.0 121.1 231.1 120.1 230.0 120.3ZM281.0 118.3 282.2 117.8 281.4 117.0 284.9 116.8 282.7 119.5 282.5 118.5 281.3 119.1ZM288.3 118.2 289.5 117.6 288.8 116.9 292.3 116.7 290.0 119.3 289.8 118.3 288.7 118.9ZM105.6 130.4 106.7 130.3 106.3 129.4 109.6 130.5 106.5 132.1 106.8 131.1 105.7 131.2ZM113.0 130.2 114.0 130.2 113.7 129.2 116.9 130.6 113.7 132.0 114.0 131.0 113.0 131.0ZM120.3 130.0 121.3 130.0 121.0 129.1 124.2 130.4 121.0 131.8 121.4 130.8 120.3 130.8ZM127.6 129.9 128.8 129.8 128.4 128.9 131.7 130.2 128.5 131.6 128.8 130.6 127.6 130.7ZM222.7 127.6 223.9 127.3 223.3 126.4 226.8 127.0 224.0 129.0 224.1 128.0 222.9 128.3ZM230.0 127.4 231.0 127.1 230.5 126.3 233.9 126.8 231.1 128.9 231.2 127.9 230.2 128.2ZM288.5 126.0 289.8 125.3 289.1 124.6 292.6 124.3 290.4 127.0 290.2 126.0 288.9 126.7ZM135.1 137.5 136.6 137.5 136.3 136.5 139.5 137.9 136.3 139.3 136.6 138.3 135.1 138.3ZM259.6 142.4 260.8 141.7 260.1 141.0 263.6 140.8 261.3 143.4 261.2 142.4 259.9 143.1ZM288.7 141.7 289.6 140.8 288.6 140.4 291.8 139.0 290.6 142.3 290.1 141.4 289.3 142.3ZM106.3 153.9 107.4 153.9 107.0 153.0 110.2 154.3 107.0 155.7 107.4 154.7 106.3 154.7ZM113.6 153.7 114.7 153.7 114.4 152.8 117.6 154.1 114.4 155.5 114.7 154.5 113.6 154.5ZM121.0 153.6 122.0 153.6 121.7 152.6 124.9 154.0 121.7 155.3 122.0 154.4 121.0 154.4ZM128.3 153.4 129.2 153.4 128.9 152.4 132.1 153.8 128.9 155.1 129.2 154.2 128.3 154.2ZM172.1 152.3 173.0 152.1 172.4 151.2 175.8 151.7 173.1 153.9 173.2 152.8 172.3 153.1ZM179.4 152.1 180.4 151.8 179.8 151.0 183.2 151.4 180.6 153.6 180.6 152.6 179.6 152.9ZM237.8 150.7 238.8 150.1 238.0 149.5 241.5 149.0 239.5 151.8 239.2 150.8 238.2 151.4ZM259.8 150.2 260.9 149.6 260.2 148.9 263.7 148.7 261.4 151.4 261.3 150.3 260.1 150.9ZM267.1 150.0 268.4 149.3 267.7 148.6 271.2 148.4 268.9 151.1 268.8 150.1 267.4 150.7ZM274.4 149.8 275.3 149.3 274.6 148.6 278.1 148.4 275.9 151.0 275.7 150.0 274.8 150.5ZM296.2 149.5 296.6 148.3 295.6 148.2 298.1 145.8 298.2 149.3 297.4 148.6 296.9 149.8ZM113.9 161.6 115.1 161.6 114.8 160.6 118.0 162.0 114.8 163.3 115.1 162.4 113.9 162.4ZM121.2 161.4 122.4 161.4 122.1 160.4 125.3 161.8 122.1 163.2 122.4 162.2 121.2 162.2ZM128.5 161.2 129.9 161.2 129.6 160.3 132.8 161.6 129.6 163.0 129.9 162.0 128.5 162.0ZM164.9 160.3 166.1 159.9 165.4 159.1 168.9 159.3 166.4 161.7 166.3 160.7 165.2 161.1ZM296.4 157.3 297.0 156.0 296.0 155.9 298.7 153.7 298.4 157.1 297.7 156.4 297.1 157.7ZM296.5 165.1 297.2 163.9 296.2 163.7 298.9 161.5 298.6 165.0 297.9 164.3 297.2 165.5ZM303.8 164.9 304.5 163.7 303.5 163.5 306.2 161.3 305.9 164.8 305.2 164.0 304.6 165.3ZM165.4 176.0 166.7 175.5 166.0 174.8 169.5 174.9 167.0 177.3 166.9 176.3 165.6 176.8ZM312.2 180.4 312.6 181.0 313.2 180.2 313.9 183.6 311.0 181.7 311.9 181.4 311.5 180.8ZM319.5 180.2 319.9 180.8 320.6 180.0 321.2 183.4 318.3 181.5 319.3 181.3 318.8 180.6ZM326.8 180.0 327.2 180.7 327.9 179.9 328.4 183.4 325.6 181.3 326.6 181.1 326.1 180.4ZM283.1 188.9 283.5 189.5 284.2 188.7 284.8 192.1 281.9 190.2 282.9 189.9 282.5 189.4ZM290.5 188.7 290.8 189.3 291.5 188.5 292.1 191.9 289.2 190.0 290.2 189.8 289.8 189.2ZM297.8 188.5 298.2 189.1 298.8 188.3 299.4 191.8 296.5 189.9 297.5 189.6 297.1 189.0ZM305.1 188.4 305.5 189.0 306.1 188.2 306.7 191.6 303.8 189.7 304.8 189.4 304.4 188.8ZM312.4 188.2 313.1 189.5 313.8 188.8 314.0 192.3 311.4 190.0 312.4 189.9 311.7 188.6ZM319.7 188.0 320.4 189.4 321.1 188.7 321.3 192.1 318.6 189.9 319.7 189.7 319.0 188.4ZM327.0 187.9 327.5 189.1 328.3 188.4 328.2 191.9 325.8 189.4 326.8 189.4 326.3 188.2ZM334.3 187.7 334.7 188.8 335.5 188.2 335.4 191.7 333.0 189.1 334.0 189.1 333.6 188.0ZM341.6 187.5 342.0 188.3 342.8 187.6 342.9 191.1 340.3 188.8 341.3 188.7 340.9 187.8ZM283.3 196.7 283.7 197.3 284.3 196.5 285.0 199.9 282.1 198.0 283.1 197.8 282.7 197.2ZM290.6 196.6 291.0 197.2 291.7 196.4 292.3 199.8 289.4 197.9 290.4 197.6 290.0 197.0ZM297.9 196.4 298.4 197.1 299.0 196.3 299.6 199.7 296.7 197.8 297.7 197.5 297.3 196.8ZM305.3 196.2 305.8 197.2 306.5 196.5 306.9 199.9 304.1 197.8 305.1 197.6 304.6 196.6ZM319.9 195.9 320.4 197.2 321.2 196.6 321.0 200.0 318.6 197.5 319.6 197.5 319.1 196.2ZM327.2 195.8 327.5 197.0 328.4 196.4 327.9 199.9 325.7 197.1 326.8 197.2 326.4 196.0ZM334.5 195.6 334.9 196.8 335.7 196.2 335.3 199.7 333.1 197.0 334.1 197.0 333.7 195.8ZM341.8 195.4 342.2 196.5 343.0 195.9 342.7 199.4 340.4 196.8 341.4 196.8 341.0 195.6ZM180.9 207.0 182.4 207.0 182.1 206.0 185.3 207.3 182.1 208.7 182.4 207.8 181.0 207.8ZM210.0 206.3 211.3 205.6 210.6 204.9 214.1 204.7 211.8 207.4 211.6 206.4 210.3 207.0ZM217.1 206.2 217.6 205.6 216.6 205.3 219.5 203.4 218.9 206.8 218.2 206.0 217.8 206.7ZM224.4 206.1 224.7 205.4 223.7 205.3 226.2 202.9 226.2 206.4 225.4 205.7 225.1 206.4ZM231.7 206.0 231.9 205.2 230.9 205.2 233.3 202.6 233.5 206.0 232.7 205.4 232.4 206.2ZM290.8 204.4 291.3 205.0 291.9 204.2 292.6 207.6 289.7 205.8 290.6 205.5 290.2 204.8ZM312.8 203.9 313.3 205.2 314.1 204.5 314.1 208.0 311.6 205.6 312.6 205.5 312.0 204.2ZM320.1 203.8 320.4 205.0 321.3 204.4 320.8 207.9 318.6 205.2 319.6 205.2 319.3 204.0ZM327.4 203.6 327.7 204.8 328.5 204.2 328.1 207.7 325.9 204.9 326.9 205.0 326.6 203.8ZM334.7 203.4 335.1 204.6 335.9 204.0 335.6 207.5 333.3 204.8 334.3 204.9 333.9 203.6ZM342.0 203.2 342.4 204.4 343.2 203.8 343.0 207.3 340.6 204.7 341.7 204.7 341.2 203.4ZM181.2 214.8 182.4 214.8 182.1 213.9 185.3 215.2 182.1 216.6 182.4 215.6 181.2 215.6ZM188.4 214.6 189.6 214.6 189.3 213.7 192.5 215.0 189.4 216.4 189.7 215.4 188.5 215.4ZM203.0 214.3 204.4 213.9 203.9 213.1 207.3 213.6 204.5 215.7 204.6 214.7 203.2 215.0ZM231.9 213.8 232.1 212.9 231.1 212.9 233.3 210.2 233.7 213.6 232.9 213.1 232.6 214.0ZM239.2 213.6 239.4 212.7 238.4 212.8 240.6 210.1 241.0 213.5 240.2 212.9 239.9 213.8ZM291.0 212.2 291.6 213.0 292.2 212.1 293.1 215.5 290.1 213.9 291.0 213.5 290.4 212.7ZM334.8 211.2 335.4 212.5 336.2 211.8 336.3 215.3 333.7 213.0 334.7 212.9 334.1 211.5ZM342.1 211.0 342.7 212.3 343.5 211.7 343.5 215.1 341.0 212.7 342.0 212.6 341.4 211.3ZM174.0 222.8 175.3 222.7 174.9 221.8 178.2 222.9 175.1 224.5 175.4 223.5 174.1 223.6ZM181.3 222.7 182.7 222.6 182.3 221.7 185.6 222.9 182.4 224.4 182.7 223.4 181.4 223.5ZM188.6 222.5 189.9 222.4 189.6 221.5 192.8 222.7 189.7 224.2 189.9 223.2 188.7 223.3ZM195.9 222.3 197.2 222.1 196.8 221.2 200.1 222.1 197.1 223.9 197.3 222.9 196.0 223.1ZM232.1 221.6 232.4 220.5 231.3 220.6 233.5 217.8 234.0 221.3 233.1 220.7 232.8 221.8ZM239.4 221.5 239.6 220.4 238.6 220.4 240.8 217.7 241.3 221.1 240.4 220.6 240.1 221.7ZM291.2 220.0 292.0 221.0 292.5 220.2 293.4 223.5 290.4 221.9 291.3 221.5 290.5 220.5ZM130.2 232.0 130.8 231.1 129.8 230.8 132.7 228.9 132.1 232.3 131.5 231.5 130.8 232.4ZM137.5 231.8 138.1 231.0 137.1 230.7 140.1 228.9 139.3 232.3 138.7 231.4 138.1 232.3ZM144.8 231.6 145.8 230.5 144.9 230.0 148.1 228.7 146.9 231.9 146.4 231.0 145.4 232.1ZM188.7 230.3 189.7 230.0 189.0 229.2 192.5 229.3 190.0 231.7 189.9 230.7 189.0 231.1ZM195.9 230.2 197.0 229.4 196.1 228.8 199.5 227.9 197.8 231.0 197.5 230.0 196.4 230.8ZM203.1 230.1 203.9 228.9 202.9 228.7 205.7 226.7 205.2 230.1 204.5 229.4 203.8 230.5ZM232.3 229.5 232.5 228.4 231.5 228.4 233.7 225.7 234.2 229.1 233.3 228.6 233.0 229.7ZM239.6 229.3 239.8 228.4 238.8 228.5 240.9 225.7 241.4 229.2 240.6 228.6 240.3 229.5ZM130.4 239.8 130.8 239.1 129.9 238.9 132.7 236.8 132.2 240.2 131.5 239.5 131.1 240.2ZM137.7 239.6 138.1 239.0 137.1 238.7 140.0 236.8 139.4 240.2 138.8 239.4 138.3 240.1ZM145.0 239.4 145.4 238.8 144.4 238.5 147.4 236.6 146.7 240.0 146.1 239.2 145.6 239.9ZM181.4 238.6 182.0 237.4 180.9 237.3 183.5 234.9 183.4 238.4 182.7 237.7 182.1 238.9ZM217.9 237.6 218.2 236.9 217.2 236.8 219.7 234.4 219.7 237.9 218.9 237.2 218.6 237.9ZM130.6 247.8 131.0 246.6 130.0 246.6 132.3 244.0 132.5 247.5 131.7 246.9 131.3 248.0ZM137.9 247.5 138.3 246.9 137.3 246.6 140.2 244.7 139.6 248.1 139.0 247.3 138.6 247.9ZM145.2 247.3 145.6 246.7 144.6 246.4 147.5 244.5 146.9 247.9 146.3 247.1 145.9 247.7ZM152.4 247.2 152.7 246.2 151.7 246.3 153.9 243.6 154.3 247.0 153.5 246.4 153.2 247.4ZM255.3 244.6 255.5 245.7 256.4 245.3 255.6 248.6 253.7 245.7 254.7 245.9 254.5 244.7ZM130.8 255.6 131.1 254.6 130.1 254.6 132.3 251.9 132.7 255.4 131.9 254.8 131.6 255.8ZM152.7 255.1 153.0 253.8 152.0 253.9 154.1 251.1 154.6 254.5 153.7 254.0 153.4 255.3ZM218.4 253.1 219.5 252.4 218.7 251.7 222.1 251.0 220.3 254.0 220.0 253.0 218.9 253.8ZM225.9 252.9 226.7 252.8 226.2 251.9 229.6 252.8 226.5 254.6 226.8 253.6 226.0 253.7ZM233.4 252.7 234.2 253.0 234.2 252.0 236.8 254.3 233.4 254.5 234.0 253.7 233.1 253.5ZM240.8 252.6 241.6 253.6 242.2 252.8 243.0 256.2 240.0 254.4 240.9 254.1 240.2 253.1ZM109.1 264.1 109.1 262.8 108.2 263.1 109.5 259.9 110.9 263.1 109.9 262.8 109.9 264.1ZM211.5 261.1 212.6 261.0 212.2 260.1 215.5 261.1 212.4 262.8 212.7 261.8 211.6 261.9ZM218.8 260.9 219.9 260.9 219.6 259.9 222.8 261.2 219.7 262.6 220.0 261.7 218.9 261.7ZM226.2 260.7 227.2 260.8 227.0 259.8 230.1 261.4 226.8 262.5 227.1 261.6 226.1 261.5ZM233.5 260.5 234.7 260.8 234.6 259.8 237.4 261.9 234.0 262.4 234.5 261.6 233.3 261.3ZM240.9 260.3 241.9 260.7 241.9 259.7 244.5 262.0 241.1 262.3 241.7 261.5 240.6 261.1ZM263.0 260.0 263.5 261.4 264.3 260.8 264.0 264.3 261.7 261.7 262.7 261.7 262.2 260.3ZM109.4 272.0 109.4 270.9 108.4 271.2 109.8 268.0 111.1 271.2 110.2 270.9 110.2 272.0ZM116.7 271.7 116.9 270.8 115.9 270.9 118.0 268.2 118.5 271.6 117.6 271.0 117.4 271.9ZM124.0 271.4 124.3 270.8 123.3 270.6 126.0 268.4 125.7 271.9 125.0 271.2 124.7 271.8ZM153.1 270.7 153.5 269.5 152.5 269.5 154.8 266.9 155.1 270.3 154.3 269.7 153.9 271.0ZM211.7 268.9 212.8 268.9 212.4 267.9 215.7 269.1 212.6 270.6 212.8 269.7 211.8 269.7ZM219.1 268.7 220.1 268.7 219.8 267.8 223.0 269.1 219.9 270.5 220.2 269.5 219.1 269.5ZM226.4 268.5 227.3 268.6 227.0 267.6 230.2 269.1 226.9 270.3 227.3 269.4 226.3 269.3ZM233.7 268.3 234.8 268.6 234.7 267.6 237.6 269.6 234.1 270.2 234.7 269.4 233.5 269.1ZM241.0 268.2 242.1 268.4 242.0 267.4 244.8 269.5 241.4 270.1 241.9 269.2 240.8 268.9ZM109.6 279.7 109.8 279.0 108.8 279.0 111.0 276.4 111.4 279.8 110.6 279.2 110.4 279.9ZM116.9 279.4 117.3 278.8 116.3 278.6 119.2 276.6 118.6 280.1 118.0 279.3 117.6 279.9ZM124.2 279.2 124.6 278.6 123.6 278.4 126.5 276.5 125.9 279.9 125.3 279.1 124.9 279.7ZM153.4 278.5 153.8 277.8 152.8 277.6 155.7 275.6 155.1 279.1 154.4 278.3 154.0 278.9ZM204.5 277.0 205.1 276.6 204.3 276.0 207.7 275.3 205.8 278.2 205.5 277.2 204.9 277.7ZM211.8 276.8 212.4 276.4 211.6 275.8 215.0 275.3 213.0 278.1 212.8 277.1 212.2 277.5ZM219.1 276.6 219.8 276.4 219.3 275.5 222.7 276.0 220.0 278.1 220.1 277.1 219.4 277.3ZM132.5 302.4 133.6 302.2 133.2 301.3 136.5 302.3 133.5 304.0 133.7 303.0 132.6 303.2ZM139.8 302.2 141.1 302.2 140.7 301.2 143.9 302.5 140.8 303.9 141.1 303.0 139.8 303.0ZM168.9 301.4 169.8 301.5 169.6 300.5 172.7 302.2 169.4 303.2 169.8 302.3 168.9 302.2ZM220.0 300.1 220.7 300.3 220.6 299.2 223.3 301.4 219.9 301.9 220.4 301.0 219.8 300.8ZM322.1 297.5 323.0 298.5 323.5 297.6 324.8 300.8 321.6 299.5 322.5 299.0 321.5 298.0ZM329.3 297.3 330.2 298.2 330.7 297.3 332.0 300.6 328.8 299.2 329.7 298.8 328.8 297.8ZM125.4 310.4 126.4 310.4 126.0 309.4 129.3 310.6 126.2 312.1 126.5 311.2 125.5 311.2ZM176.5 309.1 177.8 309.3 177.6 308.3 180.6 310.2 177.2 311.0 177.7 310.1 176.3 309.9ZM205.6 308.3 206.4 308.5 206.3 307.5 209.1 309.5 205.6 310.1 206.2 309.3 205.4 309.1ZM212.9 308.1 214.3 308.8 214.4 307.7 216.7 310.3 213.2 310.2 213.9 309.5 212.6 308.8ZM227.5 307.7 228.8 308.3 228.9 307.3 231.2 309.9 227.7 309.8 228.4 309.0 227.2 308.5ZM234.8 307.5 236.1 308.2 236.3 307.2 238.6 309.8 235.1 309.6 235.8 308.9 234.4 308.3ZM314.9 305.5 315.9 306.5 316.4 305.6 317.6 308.9 314.4 307.5 315.4 307.1 314.4 306.0ZM322.2 305.3 323.2 306.2 323.6 305.3 324.9 308.6 321.7 307.3 322.6 306.8 321.7 305.8ZM329.5 305.1 330.0 305.6 330.5 304.7 331.7 307.9 328.5 306.6 329.4 306.2 328.9 305.7ZM198.4 316.3 199.6 316.4 199.3 315.4 202.4 316.9 199.2 318.1 199.5 317.2 198.4 317.1ZM205.8 316.1 207.1 316.5 207.0 315.5 209.7 317.6 206.3 318.1 206.8 317.2 205.6 316.9ZM307.8 313.5 308.8 314.5 309.3 313.6 310.5 316.9 307.3 315.5 308.2 315.1 307.3 314.1ZM315.1 313.3 316.1 314.3 316.5 313.4 317.8 316.6 314.6 315.3 315.5 314.8 314.6 313.9ZM322.4 313.1 323.0 313.7 323.5 312.8 324.8 316.1 321.5 314.8 322.5 314.3 321.8 313.7ZM118.6 326.3 119.5 326.3 119.1 325.3 122.3 326.7 119.1 328.1 119.5 327.1 118.6 327.1ZM308.0 321.3 309.0 322.3 309.4 321.3 310.7 324.6 307.5 323.3 308.4 322.8 307.5 321.9ZM315.3 321.1 316.2 322.0 316.7 321.1 318.0 324.3 314.8 323.1 315.7 322.6 314.7 321.7ZM111.6 334.3 112.7 334.3 112.4 333.4 115.6 334.7 112.4 336.1 112.7 335.1 111.6 335.1ZM118.9 334.1 120.3 334.1 120.0 333.2 123.2 334.5 120.0 335.9 120.3 334.9 118.9 334.9ZM286.4 329.7 287.4 330.8 287.8 329.9 289.1 333.1 285.9 331.8 286.8 331.3 285.8 330.3ZM293.7 329.5 294.6 330.6 295.1 329.7 296.4 332.9 293.2 331.6 294.1 331.1 293.1 330.1ZM300.9 329.3 301.8 330.1 302.2 329.2 303.6 332.4 300.4 331.2 301.2 330.7 300.4 329.9ZM308.1 329.1 308.8 329.5 309.1 328.6 310.9 331.5 307.5 330.8 308.3 330.2 307.7 329.8ZM315.4 328.9 316.0 329.3 316.3 328.4 318.2 331.3 314.8 330.6 315.6 330.0 315.0 329.6ZM286.6 337.6 287.5 338.5 288.0 337.6 289.3 340.9 286.1 339.6 287.0 339.1 286.0 338.1ZM293.8 337.4 294.8 338.3 295.3 337.4 296.6 340.7 293.3 339.3 294.2 338.9 293.3 337.9ZM301.1 337.1 301.9 337.8 302.3 336.9 303.8 340.0 300.5 339.0 301.4 338.4 300.6 337.8ZM308.3 336.9 308.9 337.3 309.2 336.4 311.1 339.3 307.7 338.6 308.5 338.0 307.9 337.6ZM315.6 336.7 316.2 337.1 316.4 336.1 318.4 339.1 314.9 338.4 315.7 337.8 315.1 337.4ZM286.7 345.4 287.8 346.4 288.2 345.5 289.5 348.7 286.3 347.4 287.2 347.0 286.2 346.0ZM294.0 345.2 295.0 346.1 295.4 345.2 296.7 348.4 293.5 347.2 294.4 346.7 293.5 345.8ZM301.3 345.0 302.1 345.6 302.4 344.7 304.0 347.8 300.7 346.8 301.5 346.3 300.7 345.6ZM308.5 344.7 309.1 345.2 309.4 344.2 311.3 347.1 307.9 346.4 308.7 345.8 308.0 345.4Z"/><path fill="#4575b4" d="M228.6 57.0 229.1 57.5 229.6 56.6 230.1 59.1 227.6 58.5 228.5 58.0 228.0 57.6ZM236.0 56.9 236.3 57.5 237.1 56.9 236.8 59.4 234.6 58.1 235.6 57.9 235.3 57.3ZM243.4 56.8 243.6 57.4 244.4 56.8 244.0 59.4 241.9 57.8 242.9 57.7 242.6 57.1ZM301.4 55.8 301.0 55.3 300.4 56.0 300.3 53.4 302.6 54.5 301.7 54.8 302.1 55.3ZM228.7 64.8 229.3 65.1 229.6 64.1 230.8 66.4 228.2 66.5 228.9 65.8 228.3 65.5ZM236.2 64.8 236.5 65.3 237.3 64.7 237.0 67.3 234.8 65.9 235.8 65.7 235.5 65.1ZM243.6 64.6 243.8 65.2 244.6 64.6 244.2 67.2 242.1 65.6 243.1 65.5 242.8 64.9ZM294.2 63.8 293.9 63.2 293.2 64.0 293.1 61.4 295.5 62.5 294.5 62.8 294.9 63.3ZM301.5 63.6 301.2 63.0 300.5 63.7 300.7 61.1 302.9 62.4 302.0 62.6 302.3 63.2ZM308.8 63.3 308.7 62.7 307.8 63.1 308.7 60.7 310.5 62.6 309.5 62.5 309.6 63.1ZM228.7 72.5 229.3 72.4 228.9 71.5 231.4 72.5 229.3 74.2 229.5 73.2 228.8 73.3ZM250.8 72.8 250.1 72.9 250.5 73.8 248.0 72.8 250.2 71.1 250.0 72.1 250.7 72.0ZM294.4 71.6 294.1 71.0 293.4 71.7 293.4 69.1 295.7 70.4 294.8 70.6 295.1 71.2ZM301.7 71.4 301.4 70.8 300.7 71.5 300.9 68.9 303.1 70.2 302.1 70.5 302.4 71.0ZM309.0 71.2 308.8 70.5 308.0 71.1 308.7 68.6 310.6 70.3 309.6 70.3 309.8 70.9ZM294.7 79.6 294.2 79.2 293.9 80.2 292.7 77.8 295.3 77.9 294.6 78.5 295.1 78.9ZM301.9 79.2 301.6 78.7 300.9 79.4 300.9 76.8 303.2 78.0 302.3 78.3 302.6 78.8ZM309.2 78.9 309.1 78.3 308.2 78.7 309.2 76.3 310.9 78.3 309.9 78.2 310.0 78.8ZM360.5 77.6 360.6 77.0 359.6 77.1 361.2 75.1 362.3 77.4 361.4 77.1 361.3 77.7ZM243.8 88.7 243.1 88.7 243.4 89.6 241.2 88.3 243.4 86.9 243.1 87.9 243.8 87.9ZM294.8 87.3 294.4 86.7 293.7 87.4 293.7 84.8 296.0 86.0 295.1 86.3 295.4 86.8ZM302.1 87.0 301.8 86.5 301.0 87.1 301.2 84.5 303.5 85.9 302.5 86.1 302.8 86.7ZM309.4 86.8 309.2 86.1 308.4 86.6 309.2 84.1 311.0 86.0 310.0 86.0 310.2 86.6ZM294.9 95.1 294.6 94.5 293.9 95.2 294.0 92.6 296.3 93.9 295.3 94.1 295.6 94.7ZM302.3 94.9 302.0 94.3 301.2 95.0 301.4 92.4 303.6 93.7 302.7 93.9 303.0 94.5ZM339.4 93.5 340.0 93.7 340.2 92.8 341.6 94.9 339.0 95.2 339.7 94.5 339.1 94.2ZM258.8 104.0 258.2 104.0 258.5 104.9 256.2 103.7 258.4 102.2 258.2 103.2 258.8 103.2ZM288.1 103.3 287.4 103.2 287.6 104.2 285.6 102.5 287.9 101.5 287.5 102.4 288.2 102.5ZM237.2 119.4 237.9 119.3 237.6 118.4 239.8 119.7 237.7 121.1 237.9 120.1 237.2 120.2ZM244.5 119.2 245.2 119.2 244.9 118.2 247.2 119.6 245.0 120.9 245.2 120.0 244.6 120.0ZM251.8 119.0 252.4 118.9 251.9 118.0 254.4 118.8 252.6 120.6 252.6 119.6 252.0 119.8ZM259.0 118.9 259.6 118.6 259.0 117.8 261.6 118.2 260.1 120.3 260.0 119.3 259.4 119.6ZM383.7 115.8 384.4 115.9 384.3 114.9 386.4 116.5 383.9 117.6 384.3 116.7 383.6 116.6ZM237.4 127.2 238.1 127.2 237.8 126.2 240.0 127.5 237.9 128.9 238.1 128.0 237.4 128.0ZM244.7 127.0 245.4 127.0 245.1 126.0 247.3 127.4 245.2 128.8 245.4 127.8 244.8 127.8ZM251.9 126.9 252.5 126.6 251.9 125.8 254.5 126.2 253.0 128.3 252.8 127.3 252.2 127.6ZM295.8 125.8 296.4 125.5 295.7 124.8 298.3 124.9 297.0 127.2 296.8 126.2 296.2 126.5ZM302.9 125.9 303.1 125.2 302.1 125.2 304.1 123.4 304.7 126.0 303.9 125.4 303.7 126.1ZM237.5 135.0 238.2 134.9 237.7 134.0 240.2 134.9 238.3 136.7 238.3 135.7 237.7 135.8ZM413.6 130.9 414.0 131.5 414.7 130.8 414.6 133.4 412.3 132.1 413.3 131.9 412.9 131.3ZM237.7 142.9 238.3 142.7 237.8 141.8 240.3 142.5 238.6 144.4 238.5 143.4 237.9 143.6ZM413.8 138.8 414.1 139.3 414.8 138.7 414.6 141.3 412.4 139.9 413.4 139.7 413.1 139.1ZM252.6 150.3 253.2 150.2 252.7 149.3 255.2 150.2 253.3 152.0 253.4 151.0 252.7 151.1ZM406.6 146.8 406.9 147.3 407.7 146.7 407.4 149.3 405.2 147.9 406.2 147.7 405.9 147.1ZM413.9 146.6 414.2 147.2 415.0 146.5 414.7 149.1 412.5 147.7 413.5 147.5 413.2 146.9ZM267.4 157.8 268.0 157.7 267.5 156.8 270.0 157.6 268.1 159.4 268.2 158.4 267.5 158.6ZM274.6 157.6 275.2 157.4 274.5 156.6 277.1 156.9 275.7 159.1 275.5 158.1 274.9 158.4ZM281.9 157.5 282.5 157.2 281.8 156.4 284.4 156.6 283.0 158.9 282.8 157.9 282.3 158.2ZM289.2 157.3 289.7 157.0 289.0 156.3 291.6 156.3 290.4 158.6 290.2 157.7 289.6 158.0ZM406.8 154.6 407.1 155.2 407.8 154.5 407.6 157.1 405.4 155.7 406.3 155.5 406.1 154.9ZM414.1 154.4 414.4 155.0 415.1 154.3 414.9 156.9 412.7 155.5 413.7 155.3 413.4 154.8ZM274.8 165.5 275.4 165.2 274.8 164.4 277.3 164.8 275.8 166.9 275.7 166.0 275.1 166.2ZM282.1 165.3 282.7 165.0 282.0 164.3 284.6 164.5 283.2 166.7 283.0 165.7 282.4 166.0ZM289.4 165.1 289.9 164.8 289.2 164.1 291.8 164.2 290.6 166.5 290.3 165.5 289.8 165.8ZM311.2 164.7 311.5 164.2 310.6 163.8 313.0 162.8 312.9 165.4 312.2 164.6 311.8 165.2ZM325.8 164.3 326.2 163.8 325.3 163.4 327.8 162.5 327.4 165.1 326.9 164.3 326.4 164.8ZM406.9 162.4 407.2 163.0 408.0 162.3 407.7 164.9 405.5 163.5 406.5 163.3 406.2 162.8ZM414.2 162.2 414.5 162.8 415.3 162.1 415.0 164.7 412.8 163.3 413.8 163.2 413.5 162.6ZM253.1 173.8 253.7 173.6 253.1 172.8 255.7 173.3 254.1 175.3 254.0 174.3 253.4 174.6ZM282.3 173.1 283.0 172.9 282.5 172.1 285.0 172.8 283.2 174.7 283.2 173.7 282.6 173.9ZM289.7 172.9 290.3 172.7 289.8 171.9 292.3 172.6 290.5 174.5 290.5 173.5 289.9 173.7ZM297.0 172.7 297.6 172.6 297.2 171.7 299.6 172.7 297.7 174.4 297.8 173.4 297.1 173.5ZM304.5 172.6 305.1 172.7 305.1 171.7 306.9 173.7 304.4 174.3 304.9 173.5 304.3 173.3ZM407.1 170.2 407.4 170.8 408.1 170.1 407.9 172.7 405.7 171.3 406.6 171.1 406.4 170.6ZM414.4 170.0 414.7 170.6 415.4 169.9 415.2 172.5 413.0 171.2 414.0 171.0 413.7 170.4ZM253.3 181.6 254.0 181.6 253.6 180.6 256.0 181.7 254.0 183.3 254.1 182.4 253.4 182.4ZM261.0 181.6 261.4 182.2 262.0 181.4 262.2 184.0 259.8 183.0 260.8 182.6 260.4 182.1ZM268.4 181.5 268.7 182.0 269.4 181.3 269.3 183.9 267.0 182.7 268.0 182.4 267.7 181.9ZM275.6 181.3 276.0 181.8 276.6 181.0 276.9 183.6 274.5 182.6 275.4 182.3 275.0 181.7ZM407.2 178.0 407.5 178.6 408.3 177.9 408.0 180.5 405.8 179.2 406.8 179.0 406.5 178.4ZM414.5 177.8 414.8 178.4 415.6 177.8 415.3 180.3 413.1 179.0 414.1 178.8 413.8 178.2ZM246.2 189.7 246.8 189.5 246.3 188.6 248.8 189.5 247.0 191.3 247.0 190.3 246.4 190.4ZM253.9 189.6 254.3 190.2 254.9 189.4 255.1 192.0 252.7 191.0 253.6 190.6 253.3 190.1ZM261.3 189.5 261.5 190.1 262.3 189.4 262.1 192.0 259.9 190.6 260.8 190.4 260.5 189.9ZM268.6 189.3 268.8 189.9 269.6 189.2 269.4 191.8 267.2 190.5 268.1 190.3 267.8 189.7ZM407.4 185.8 407.7 186.4 408.4 185.8 408.2 188.3 406.0 187.0 406.9 186.8 406.7 186.2ZM414.7 185.7 415.0 186.2 415.7 185.6 415.5 188.2 413.3 186.8 414.3 186.6 414.0 186.0ZM254.1 197.5 254.4 198.1 255.2 197.4 255.0 200.0 252.8 198.7 253.7 198.5 253.4 197.9ZM261.4 197.3 261.7 197.9 262.5 197.3 262.2 199.8 260.0 198.5 261.0 198.3 260.7 197.7ZM268.7 197.2 269.0 197.7 269.8 197.1 269.6 199.7 267.3 198.3 268.3 198.1 268.0 197.5ZM407.5 193.6 407.8 194.2 408.6 193.6 408.3 196.2 406.1 194.8 407.1 194.6 406.8 194.0ZM414.8 193.5 415.1 194.0 415.9 193.4 415.6 196.0 413.4 194.6 414.4 194.4 414.1 193.8ZM254.3 205.3 254.7 205.9 255.3 205.1 255.4 207.7 253.0 206.6 254.0 206.3 253.6 205.7ZM261.6 205.2 261.9 205.7 262.7 205.0 262.5 207.6 260.3 206.3 261.2 206.1 260.9 205.5ZM268.9 205.0 269.3 205.5 269.9 204.8 269.9 207.4 267.6 206.2 268.6 205.9 268.2 205.4ZM407.7 201.5 408.0 202.0 408.7 201.4 408.5 204.0 406.3 202.6 407.3 202.4 407.0 201.8ZM415.0 201.3 415.3 201.9 416.0 201.2 415.8 203.8 413.6 202.4 414.6 202.2 414.3 201.6ZM246.5 213.4 246.8 212.8 245.8 212.6 247.9 211.2 248.3 213.7 247.5 213.1 247.2 213.7ZM261.8 212.9 262.2 213.5 262.8 212.7 263.0 215.3 260.6 214.3 261.5 213.9 261.1 213.4ZM262.0 220.8 262.3 221.4 263.0 220.7 262.8 223.3 260.6 222.0 261.6 221.8 261.3 221.2ZM159.3 231.2 159.7 230.7 158.7 230.4 161.1 229.3 161.0 231.8 160.4 231.1 160.0 231.7ZM166.6 231.1 167.0 230.5 166.0 230.2 168.4 229.1 168.3 231.7 167.7 230.9 167.3 231.5ZM174.0 230.8 174.5 230.4 173.7 229.8 176.3 229.4 175.5 231.9 175.0 231.0 174.5 231.4ZM159.5 239.1 159.8 238.5 158.8 238.4 161.0 236.9 161.3 239.5 160.5 238.9 160.3 239.5ZM166.8 238.9 167.1 238.3 166.1 238.2 168.2 236.7 168.6 239.3 167.8 238.7 167.6 239.3ZM233.0 244.9 233.6 244.7 233.1 243.8 235.6 244.7 233.7 246.5 233.8 245.5 233.1 245.6ZM240.7 244.8 241.0 245.3 241.7 244.6 241.9 247.2 239.5 246.2 240.4 245.8 240.0 245.3ZM110.6 303.0 111.2 302.8 110.8 302.0 113.2 302.8 111.3 304.6 111.4 303.6 110.7 303.8ZM110.9 310.8 111.5 310.8 111.3 309.8 113.5 311.2 111.3 312.6 111.5 311.6 110.9 311.6ZM118.2 310.6 118.8 310.6 118.5 309.6 120.8 310.9 118.6 312.4 118.8 311.4 118.2 311.4ZM111.1 318.7 111.8 318.7 111.5 317.7 113.7 319.0 111.5 320.4 111.8 319.5 111.1 319.5ZM118.4 318.5 119.1 318.5 118.8 317.5 121.1 318.9 118.8 320.2 119.1 319.3 118.4 319.3ZM329.9 328.5 330.5 328.8 330.7 327.8 332.0 330.1 329.4 330.2 330.1 329.5 329.5 329.2ZM337.2 328.3 337.8 328.6 338.0 327.6 339.3 329.9 336.7 330.0 337.4 329.3 336.8 329.0ZM344.5 328.1 345.0 328.4 345.3 327.5 346.5 329.8 343.9 329.8 344.6 329.1 344.1 328.8ZM330.1 336.3 330.7 336.6 330.9 335.6 332.2 337.8 329.6 338.0 330.3 337.3 329.7 337.0ZM337.3 336.1 337.9 336.4 338.1 335.4 339.5 337.6 336.9 337.9 337.6 337.1 337.0 336.8ZM344.6 335.9 345.2 336.2 345.4 335.2 346.7 337.5 344.1 337.7 344.8 336.9 344.3 336.6ZM330.3 344.1 330.8 344.4 331.0 343.5 332.4 345.7 329.8 345.9 330.5 345.1 329.9 344.8ZM337.5 343.9 338.1 344.2 338.3 343.3 339.7 345.5 337.1 345.7 337.7 344.9 337.2 344.6ZM344.8 343.7 345.4 344.0 345.6 343.1 346.9 345.3 344.3 345.5 345.0 344.7 344.4 344.4Z"/><path fill="#5183bb" d="M250.4 57.2 249.7 57.2 250.0 58.1 247.6 56.9 249.9 55.4 249.6 56.4 250.3 56.4ZM257.7 57.0 256.9 57.0 257.2 58.0 254.6 56.6 257.2 55.2 256.9 56.2 257.7 56.2ZM294.3 56.1 293.5 55.9 293.5 56.9 291.4 54.7 294.4 54.3 293.8 55.1 294.5 55.4ZM308.7 55.4 308.6 54.7 307.7 55.1 308.8 52.6 310.4 54.8 309.4 54.7 309.5 55.4ZM316.0 55.2 316.0 54.5 315.0 54.8 316.4 52.2 317.8 54.8 316.8 54.5 316.8 55.2ZM323.3 55.1 323.3 54.3 322.4 54.6 323.7 52.0 325.1 54.6 324.1 54.3 324.1 55.1ZM330.7 54.8 330.8 54.2 329.8 54.4 331.6 51.4 332.5 54.7 331.6 54.3 331.5 54.9ZM250.6 65.0 249.9 65.0 250.2 66.0 247.8 64.7 250.1 63.3 249.8 64.2 250.5 64.2ZM257.9 64.8 257.1 64.8 257.4 65.8 254.8 64.4 257.4 63.1 257.1 64.0 257.9 64.0ZM316.2 63.0 316.2 62.3 315.2 62.6 316.6 60.1 317.9 62.6 317.0 62.3 317.0 63.0ZM323.5 62.9 323.5 62.1 322.6 62.4 323.9 59.9 325.3 62.4 324.3 62.1 324.3 62.9ZM330.9 62.6 330.9 62.0 329.9 62.2 331.7 59.2 332.6 62.6 331.7 62.1 331.6 62.8ZM221.3 72.7 221.6 72.6 221.0 71.8 224.5 72.1 221.9 74.4 221.8 73.4 221.5 73.5ZM287.3 72.0 286.8 71.9 286.9 72.9 284.1 70.9 287.5 70.2 287.0 71.1 287.5 71.2ZM316.3 70.9 316.3 70.1 315.4 70.5 316.7 67.9 318.1 70.4 317.1 70.1 317.1 70.9ZM323.7 70.7 323.7 69.9 322.7 70.2 324.1 67.7 325.4 70.3 324.5 69.9 324.5 70.7ZM331.0 70.5 331.1 69.9 330.1 70.0 331.9 67.1 332.8 70.4 331.9 70.0 331.8 70.6ZM221.5 80.6 221.8 80.5 221.2 79.6 224.7 80.0 222.0 82.2 222.0 81.2 221.7 81.3ZM228.9 80.4 229.6 80.3 229.2 79.4 231.9 80.3 229.6 82.0 229.7 81.1 229.0 81.2ZM316.5 78.7 316.5 77.9 315.6 78.2 316.9 75.7 318.3 78.2 317.3 77.9 317.3 78.7ZM323.9 78.5 323.9 77.8 322.9 78.1 324.3 75.5 325.6 78.1 324.7 77.8 324.7 78.5ZM331.2 78.3 331.3 77.8 330.3 77.9 332.1 75.0 333.0 78.4 332.1 77.9 332.0 78.4ZM382.5 77.2 382.5 76.4 381.5 76.8 382.7 74.2 384.2 76.6 383.3 76.4 383.3 77.1ZM221.8 88.4 222.5 88.4 222.2 87.4 224.9 88.7 222.3 90.1 222.6 89.2 221.8 89.2ZM229.1 88.2 229.9 88.2 229.6 87.2 232.1 88.6 229.6 90.0 229.9 89.0 229.1 89.0ZM316.7 86.5 316.7 85.8 315.7 86.1 317.1 83.6 318.5 86.1 317.5 85.8 317.5 86.5ZM324.0 86.3 324.0 85.6 323.1 85.9 324.5 83.4 325.8 85.9 324.8 85.6 324.8 86.3ZM331.4 86.1 331.5 85.4 330.5 85.4 332.5 83.4 333.2 86.1 332.3 85.6 332.1 86.3ZM353.4 85.5 353.7 84.8 352.7 84.7 354.9 82.9 355.2 85.8 354.4 85.1 354.1 85.8ZM222.0 96.2 222.8 96.2 222.5 95.2 225.2 96.6 222.5 98.0 222.8 97.0 222.0 97.0ZM229.3 96.0 230.1 96.0 229.8 95.1 232.4 96.4 229.8 97.8 230.1 96.8 229.3 96.8ZM244.0 96.5 243.2 96.5 243.5 97.4 241.1 96.1 243.5 94.7 243.2 95.7 244.0 95.7ZM251.3 96.3 250.6 96.3 250.9 97.3 248.3 95.9 250.9 94.6 250.6 95.5 251.3 95.5ZM287.9 95.4 287.1 95.3 287.2 96.3 285.1 94.4 287.8 93.6 287.3 94.5 288.0 94.6ZM332.2 93.7 332.5 94.1 333.0 93.2 334.1 96.5 331.0 95.0 331.9 94.6 331.6 94.3ZM346.7 93.3 347.4 93.5 347.5 92.5 349.2 94.7 346.5 95.1 347.1 94.3 346.4 94.0ZM244.2 104.3 243.4 104.3 243.7 105.3 241.3 103.9 243.7 102.6 243.5 103.5 244.2 103.5ZM251.5 104.1 250.8 104.1 251.1 105.1 248.5 103.7 251.1 102.4 250.8 103.3 251.5 103.3ZM310.5 102.2 310.8 102.9 311.5 102.2 311.4 105.1 309.1 103.3 310.1 103.2 309.7 102.5ZM361.6 100.8 362.2 101.2 362.6 100.3 363.7 102.9 360.9 102.5 361.7 101.9 361.2 101.4ZM237.0 111.5 237.7 111.5 237.4 110.5 239.9 111.8 237.5 113.3 237.8 112.3 237.1 112.3ZM310.6 110.0 311.0 110.6 311.7 109.9 311.7 112.7 309.3 111.2 310.3 111.0 309.9 110.4ZM390.5 108.2 390.5 107.5 389.5 107.7 391.0 105.3 392.2 107.8 391.3 107.5 391.3 108.2ZM325.3 117.3 326.0 117.6 326.1 116.6 328.0 119.0 325.0 119.1 325.7 118.3 324.9 118.0ZM105.9 138.2 106.3 138.2 105.9 137.3 109.2 138.6 106.0 140.0 106.3 139.0 105.9 139.0ZM113.2 138.1 114.0 138.1 113.6 137.1 116.3 138.4 113.6 139.8 114.0 138.9 113.2 138.9ZM120.5 137.9 121.3 137.9 121.0 136.9 123.6 138.3 121.0 139.6 121.3 138.7 120.5 138.7ZM127.8 137.7 128.3 137.7 128.0 136.7 131.2 138.1 128.0 139.5 128.3 138.5 127.8 138.5ZM222.9 135.4 223.2 135.3 222.6 134.5 226.1 134.8 223.5 137.0 223.5 136.0 223.1 136.2ZM230.2 135.2 230.5 135.1 229.9 134.3 233.3 134.6 230.7 136.9 230.7 135.9 230.4 136.0ZM106.1 146.1 106.5 146.1 106.2 145.1 109.4 146.5 106.2 147.8 106.5 146.9 106.1 146.9ZM113.4 145.9 114.2 145.9 113.9 144.9 116.5 146.3 113.9 147.7 114.2 146.7 113.4 146.7ZM120.7 145.7 121.5 145.7 121.2 144.8 123.8 146.1 121.2 147.5 121.5 146.5 120.7 146.5ZM128.0 145.5 128.5 145.5 128.1 144.6 131.3 145.9 128.1 147.3 128.5 146.3 128.0 146.3ZM135.4 145.4 135.9 145.4 135.6 144.4 138.8 145.7 135.6 147.1 135.9 146.2 135.4 146.2ZM142.7 145.2 143.1 145.2 142.7 144.2 145.9 145.6 142.7 146.9 143.1 146.0 142.7 146.0ZM150.0 145.0 150.5 145.0 150.2 144.0 153.4 145.4 150.2 146.8 150.5 145.8 150.0 145.8ZM223.0 143.2 223.4 143.1 222.8 142.3 226.3 142.5 223.7 144.9 223.7 143.9 223.3 144.0ZM230.4 143.1 230.7 142.9 230.1 142.1 233.5 142.4 230.9 144.7 230.9 143.7 230.6 143.8ZM135.6 153.2 135.9 153.2 135.6 152.2 138.8 153.6 135.6 155.0 135.9 154.0 135.6 154.0ZM142.9 153.0 143.7 153.0 143.4 152.1 145.9 153.4 143.4 154.8 143.7 153.8 142.9 153.8ZM150.2 152.8 151.0 152.8 150.7 151.9 153.2 153.2 150.7 154.6 151.0 153.6 150.2 153.6ZM157.5 152.7 158.2 152.6 157.8 151.7 161.1 152.9 157.9 154.4 158.2 153.4 157.6 153.5ZM281.7 149.7 282.3 149.3 281.5 148.6 284.3 148.6 283.0 150.9 282.7 150.0 282.1 150.3ZM288.9 149.5 289.4 149.1 288.6 148.5 291.2 147.9 290.5 150.5 290.0 149.6 289.5 150.1ZM135.8 161.0 136.4 161.0 136.1 160.1 139.3 161.4 136.1 162.8 136.4 161.8 135.8 161.8ZM143.1 160.9 143.9 160.9 143.6 159.9 146.1 161.3 143.6 162.6 143.9 161.7 143.1 161.7ZM150.4 160.7 151.2 160.7 150.9 159.7 153.4 161.1 150.9 162.4 151.2 161.5 150.4 161.5ZM157.7 160.5 158.1 160.5 157.7 159.5 161.0 160.7 157.9 162.3 158.1 161.3 157.8 161.3ZM172.2 160.2 172.9 159.9 172.2 159.1 175.7 159.2 173.2 161.7 173.1 160.7 172.5 160.9ZM245.3 158.4 246.0 158.1 245.4 157.3 248.2 157.5 246.5 159.8 246.3 158.8 245.7 159.1ZM143.3 168.7 144.1 168.7 143.8 167.7 146.4 169.1 143.8 170.5 144.1 169.5 143.3 169.5ZM150.7 168.5 151.4 168.5 151.1 167.6 153.7 168.9 151.1 170.3 151.4 169.3 150.7 169.3ZM157.9 168.3 158.3 168.3 157.9 167.4 161.2 168.4 158.2 170.1 158.4 169.1 158.0 169.1ZM143.6 176.5 144.0 176.5 143.7 175.6 146.9 176.9 143.7 178.3 144.0 177.3 143.6 177.3ZM150.9 176.4 151.6 176.4 151.3 175.4 154.0 176.8 151.3 178.1 151.6 177.2 150.9 177.2ZM158.2 176.2 158.6 176.2 158.2 175.2 161.5 176.4 158.4 177.9 158.6 177.0 158.2 177.0ZM312.0 172.5 312.3 173.0 312.9 172.2 313.7 175.6 310.7 173.7 311.7 173.4 311.4 173.0ZM319.3 172.3 319.7 172.9 320.3 172.1 321.0 175.5 318.1 173.6 319.0 173.3 318.7 172.8ZM326.6 172.1 327.1 172.7 327.7 171.9 328.2 174.8 325.5 173.6 326.5 173.2 326.0 172.6ZM333.7 171.8 334.4 172.0 334.4 171.0 336.5 173.0 333.7 173.6 334.2 172.8 333.5 172.6ZM158.4 184.0 159.2 184.0 158.9 183.1 161.5 184.4 158.9 185.8 159.2 184.8 158.4 184.8ZM165.7 183.8 166.5 183.8 166.1 182.9 168.8 184.2 166.2 185.6 166.5 184.6 165.7 184.6ZM282.9 181.1 283.4 181.7 284.0 180.8 284.6 183.8 281.9 182.5 282.8 182.2 282.3 181.6ZM290.3 180.9 290.5 181.2 291.1 180.4 291.9 183.7 288.9 182.0 289.9 181.7 289.6 181.4ZM297.6 180.7 298.0 181.3 298.6 180.5 299.2 183.9 296.3 182.0 297.3 181.7 296.9 181.2ZM304.9 180.5 305.3 181.1 305.9 180.3 306.6 183.7 303.6 181.8 304.6 181.6 304.2 181.0ZM334.1 179.8 334.5 180.3 335.1 179.5 335.8 183.0 332.8 181.1 333.8 180.8 333.5 180.3ZM341.2 179.5 341.8 179.7 341.9 178.7 344.4 181.1 340.9 181.2 341.5 180.4 341.0 180.2ZM158.6 191.9 159.0 191.9 158.7 190.9 161.9 192.3 158.7 193.6 159.0 192.7 158.6 192.7ZM165.9 191.7 166.4 191.7 166.1 190.7 169.3 192.1 166.1 193.4 166.4 192.5 165.9 192.5ZM275.8 189.1 276.2 189.7 276.9 189.0 277.0 191.8 274.6 190.4 275.5 190.1 275.2 189.5ZM238.9 197.8 239.5 197.3 238.6 196.7 241.5 196.1 240.4 198.8 240.0 197.9 239.4 198.4ZM276.0 196.9 276.4 197.6 277.1 196.8 277.2 199.6 274.8 198.2 275.7 198.0 275.4 197.4ZM239.0 205.8 239.1 205.4 238.1 205.3 240.5 202.8 240.7 206.3 239.9 205.6 239.7 206.0ZM276.2 204.7 276.6 205.3 277.2 204.4 277.7 207.2 275.1 206.2 276.0 205.8 275.6 205.2ZM283.5 204.5 283.7 204.8 284.3 204.0 285.2 207.3 282.1 205.7 283.1 205.3 282.9 205.0ZM210.0 214.2 210.5 213.6 209.5 213.3 212.2 211.9 211.7 214.9 211.1 214.0 210.7 214.7ZM217.3 214.2 217.4 213.8 216.4 213.8 218.7 211.3 218.9 214.7 218.1 214.1 218.0 214.4ZM224.6 214.0 224.7 213.5 223.7 213.5 226.0 210.9 226.3 214.4 225.5 213.8 225.3 214.2ZM269.1 212.7 269.5 213.2 270.1 212.4 270.6 215.1 268.0 214.2 268.9 213.8 268.5 213.3ZM276.3 212.5 276.8 213.0 277.3 212.1 278.1 214.8 275.4 214.1 276.3 213.6 275.8 213.1ZM283.6 212.3 284.1 212.8 284.6 212.0 285.4 214.6 282.7 213.9 283.6 213.4 283.1 212.9ZM159.5 223.2 159.9 223.2 159.5 222.2 162.8 223.5 159.6 225.0 159.9 224.0 159.5 224.0ZM166.8 223.0 167.2 223.0 166.8 222.1 170.1 223.3 166.9 224.8 167.2 223.8 166.8 223.8ZM203.0 222.2 203.5 221.8 202.6 221.3 206.0 220.5 204.2 223.5 203.9 222.5 203.5 222.8ZM210.2 222.2 210.5 221.4 209.5 221.4 211.7 219.3 212.0 222.3 211.2 221.7 210.9 222.4ZM217.5 222.0 217.7 221.2 216.7 221.2 218.9 219.1 219.3 222.1 218.5 221.5 218.2 222.2ZM224.8 221.8 224.9 221.5 223.9 221.5 226.2 218.9 226.5 222.3 225.6 221.7 225.5 222.1ZM269.3 220.6 269.7 221.2 270.3 220.4 270.8 223.2 268.1 222.0 269.1 221.7 268.6 221.1ZM276.5 220.3 277.0 220.9 277.5 220.0 278.2 222.7 275.6 221.9 276.5 221.4 276.0 220.9ZM283.8 220.2 284.3 220.7 284.8 219.8 285.6 222.5 282.9 221.7 283.8 221.2 283.3 220.7ZM152.1 231.3 152.6 230.9 151.8 230.4 154.4 229.7 153.6 232.4 153.2 231.5 152.7 231.9ZM181.4 230.5 181.8 230.4 181.1 229.6 184.6 229.6 182.2 232.1 182.1 231.1 181.7 231.3ZM210.4 230.0 210.6 229.5 209.6 229.4 212.0 227.0 212.1 230.4 211.3 229.8 211.1 230.3ZM217.7 229.8 217.9 229.1 216.9 229.1 219.1 226.9 219.5 229.9 218.7 229.3 218.4 230.1ZM225.0 229.6 225.1 229.3 224.1 229.3 226.4 226.7 226.7 230.2 225.8 229.6 225.7 229.9ZM262.2 228.8 262.4 229.5 263.3 229.0 262.4 231.9 260.6 229.6 261.6 229.7 261.4 228.9ZM152.2 239.3 152.6 238.6 151.6 238.5 153.9 236.8 154.0 239.7 153.3 239.0 153.0 239.7ZM174.1 238.8 174.4 238.1 173.4 238.0 175.5 236.2 175.9 239.0 175.1 238.4 174.9 239.1ZM225.2 237.5 225.3 237.0 224.3 237.0 226.7 234.5 226.9 237.9 226.1 237.3 225.9 237.7ZM232.5 237.3 232.6 236.8 231.6 236.8 233.9 234.2 234.2 237.7 233.4 237.1 233.2 237.5ZM225.5 245.2 225.8 244.8 224.9 244.4 228.1 243.0 226.8 246.3 226.4 245.4 226.0 245.7ZM248.0 244.7 248.2 245.3 249.0 244.7 248.7 248.2 246.4 245.5 247.4 245.6 247.2 245.0ZM138.1 255.3 138.5 254.7 137.5 254.5 140.4 252.6 139.8 256.0 139.2 255.2 138.8 255.8ZM145.4 255.1 145.8 254.6 144.8 254.3 147.7 252.4 147.1 255.8 146.5 255.0 146.1 255.6ZM131.0 263.4 131.2 263.1 130.2 262.9 133.0 260.8 132.6 264.2 131.9 263.5 131.7 263.8ZM138.4 263.1 138.9 262.6 138.0 262.1 140.7 261.3 140.0 264.0 139.5 263.1 139.0 263.7ZM145.7 262.9 146.2 262.4 145.3 261.9 147.9 261.1 147.3 263.8 146.8 262.9 146.3 263.5ZM131.3 271.2 131.8 270.6 130.8 270.2 133.5 269.0 133.0 271.9 132.4 271.1 131.9 271.7ZM138.6 270.9 139.1 270.4 138.2 270.0 140.9 269.2 140.2 271.9 139.7 271.0 139.2 271.5ZM145.9 270.8 146.4 270.2 145.5 269.8 148.2 268.9 147.5 271.6 147.0 270.8 146.5 271.3ZM248.5 268.0 249.0 268.5 249.4 267.6 251.0 270.6 247.6 269.6 248.5 269.1 247.9 268.7ZM255.7 267.8 256.4 268.1 256.5 267.1 258.4 269.5 255.4 269.6 256.0 268.9 255.3 268.5ZM262.9 267.6 263.7 267.9 263.8 266.9 265.7 269.2 262.7 269.4 263.3 268.7 262.6 268.3ZM270.4 267.5 270.9 268.1 271.4 267.2 272.0 270.0 269.3 269.0 270.3 268.6 269.8 268.0ZM277.7 267.4 278.1 268.0 278.7 267.2 279.2 270.2 276.5 268.8 277.5 268.5 277.0 267.8ZM131.5 279.0 131.8 278.6 130.9 278.3 133.9 276.5 133.0 279.9 132.5 279.1 132.2 279.5ZM138.8 278.8 139.0 278.6 138.1 278.2 141.1 276.6 140.2 279.9 139.6 279.1 139.4 279.3ZM146.1 278.6 146.5 278.1 145.5 277.8 148.4 275.9 147.7 279.4 147.1 278.5 146.7 279.1ZM175.2 278.0 175.3 277.6 174.3 277.6 176.6 275.0 176.8 278.5 176.0 277.9 175.9 278.2ZM182.5 277.8 182.6 277.4 181.6 277.4 183.9 274.8 184.1 278.3 183.3 277.7 183.2 278.0ZM226.4 276.4 227.0 276.2 226.4 275.4 229.9 275.7 227.2 278.0 227.2 277.0 226.7 277.1ZM233.6 276.2 234.2 275.9 233.4 275.2 236.9 274.8 234.8 277.6 234.6 276.6 234.0 276.9ZM240.9 276.0 241.5 275.7 240.7 275.0 244.2 274.7 242.1 277.4 241.9 276.4 241.3 276.7ZM248.4 275.8 249.0 275.8 248.8 274.9 251.9 276.5 248.6 277.6 249.0 276.6 248.4 276.6ZM255.8 275.6 256.3 275.8 256.3 274.8 258.9 277.1 255.4 277.4 256.0 276.5 255.6 276.4ZM263.1 275.4 263.6 275.6 263.7 274.6 266.2 277.0 262.7 277.2 263.3 276.4 262.8 276.2ZM270.5 275.3 270.8 275.6 271.2 274.6 272.7 277.8 269.4 276.7 270.3 276.2 270.0 275.9ZM277.8 275.2 278.2 275.5 278.7 274.6 279.8 277.9 276.6 276.5 277.6 276.1 277.2 275.7ZM109.9 287.4 110.2 287.1 109.2 286.7 112.2 285.0 111.4 288.4 110.8 287.6 110.5 287.9ZM117.2 287.2 117.5 286.7 116.6 286.4 119.5 284.6 118.8 288.0 118.2 287.2 117.8 287.7ZM124.5 287.1 124.8 286.5 123.9 286.2 126.8 284.4 126.1 287.8 125.5 287.0 125.1 287.5ZM131.8 286.8 132.1 286.5 131.1 286.1 134.3 284.6 133.1 287.9 132.7 287.0 132.4 287.4ZM139.1 286.6 139.3 286.4 138.4 285.9 141.6 284.6 140.3 287.8 139.9 286.9 139.6 287.2ZM146.3 286.5 146.7 286.0 145.7 285.7 148.7 283.9 147.9 287.3 147.3 286.5 146.9 286.9ZM153.6 286.3 153.9 285.8 153.0 285.5 156.0 283.7 155.2 287.1 154.6 286.3 154.2 286.8ZM160.9 286.1 161.1 285.7 160.2 285.4 163.3 283.7 162.3 287.1 161.8 286.2 161.5 286.6ZM168.1 285.9 168.5 285.3 167.5 285.1 170.0 283.5 169.9 286.4 169.2 285.7 168.8 286.3ZM175.4 285.8 175.7 285.1 174.7 285.0 176.9 283.1 177.2 286.0 176.4 285.4 176.1 286.1ZM182.7 285.6 183.0 284.9 182.0 284.8 184.2 282.9 184.5 285.8 183.7 285.2 183.4 285.9ZM190.0 285.3 190.5 284.7 189.5 284.4 192.1 283.0 191.7 286.0 191.1 285.2 190.6 285.8ZM197.4 285.0 197.9 284.7 197.1 284.1 200.5 283.4 198.6 286.3 198.4 285.4 197.8 285.7ZM204.7 284.8 205.2 284.5 204.5 283.8 207.9 283.3 205.9 286.1 205.7 285.2 205.1 285.5ZM212.0 284.6 212.5 284.3 211.7 283.6 215.2 283.1 213.2 286.0 212.9 285.0 212.4 285.3ZM219.3 284.4 219.8 284.2 219.1 283.5 222.6 283.5 220.2 286.0 220.1 285.0 219.6 285.2ZM226.6 284.2 227.0 284.1 226.4 283.3 229.8 283.4 227.3 285.8 227.3 284.8 226.9 285.0ZM233.8 284.1 234.4 283.7 233.6 283.1 237.0 282.6 235.0 285.4 234.8 284.4 234.2 284.7ZM241.1 283.9 241.7 283.6 240.9 282.9 244.4 282.5 242.2 285.2 242.0 284.3 241.5 284.6ZM110.3 295.2 110.9 294.8 110.2 294.1 113.1 294.2 111.4 296.5 111.3 295.5 110.6 295.9ZM117.6 295.0 118.3 294.7 117.7 293.9 120.7 294.2 118.6 296.4 118.6 295.4 117.9 295.7ZM124.9 294.8 125.6 294.5 125.0 293.7 127.9 294.0 125.9 296.2 125.9 295.2 125.1 295.5ZM132.1 294.6 132.5 294.4 131.8 293.7 135.3 293.7 132.8 296.2 132.8 295.2 132.4 295.3ZM139.5 294.4 140.2 294.2 139.7 293.3 142.6 294.1 140.3 296.0 140.4 295.0 139.7 295.1ZM146.8 294.2 147.6 294.1 147.2 293.2 149.8 294.4 147.4 295.9 147.6 294.9 146.9 295.0ZM154.1 294.0 154.8 293.9 154.5 293.0 157.1 294.2 154.7 295.7 154.9 294.7 154.1 294.8ZM161.3 293.8 162.1 293.6 161.6 292.7 164.4 293.6 162.1 295.4 162.2 294.4 161.5 294.6ZM168.6 293.6 169.3 293.4 168.8 292.6 171.4 293.3 169.4 295.2 169.5 294.2 168.8 294.4ZM175.9 293.4 176.7 293.3 176.3 292.4 178.9 293.6 176.5 295.1 176.7 294.1 176.0 294.2ZM183.2 293.2 183.9 293.1 183.6 292.2 186.1 293.4 183.8 294.9 184.0 293.9 183.3 294.0ZM190.4 293.0 191.1 292.8 190.6 292.0 193.2 292.7 191.3 294.6 191.3 293.6 190.6 293.8ZM197.7 292.8 198.5 292.7 198.0 291.8 200.8 292.7 198.5 294.5 198.6 293.5 197.9 293.6ZM205.1 292.6 205.8 292.6 205.5 291.6 208.1 292.9 205.6 294.3 205.9 293.4 205.1 293.4ZM212.4 292.4 213.1 292.4 212.8 291.4 215.4 292.7 212.9 294.2 213.1 293.2 212.4 293.2ZM219.6 292.2 220.4 292.2 220.0 291.2 222.8 292.4 220.2 294.0 220.5 293.0 219.7 293.0ZM227.0 292.0 227.8 292.1 227.6 291.1 230.0 292.8 227.2 293.8 227.7 292.9 226.9 292.8ZM234.3 291.9 235.1 292.1 235.0 291.0 237.2 293.1 234.3 293.7 234.9 292.8 234.1 292.6ZM241.6 291.7 242.4 291.9 242.3 290.9 244.6 292.9 241.6 293.5 242.2 292.6 241.4 292.4ZM117.8 302.8 118.6 302.6 118.0 301.7 120.9 302.2 118.8 304.3 118.8 303.3 118.1 303.6ZM125.1 302.6 125.9 302.4 125.3 301.5 128.3 302.0 126.1 304.1 126.1 303.1 125.3 303.4ZM147.1 302.0 147.9 302.0 147.5 301.0 150.2 302.4 147.5 303.8 147.8 302.8 147.1 302.8ZM154.4 301.8 154.7 301.8 154.4 300.8 157.6 302.3 154.3 303.6 154.7 302.6 154.3 302.6ZM176.2 301.2 176.9 301.2 176.6 300.3 179.2 301.6 176.6 303.0 176.9 302.0 176.2 302.0ZM183.5 301.0 184.2 301.0 183.9 300.1 186.5 301.4 183.9 302.8 184.2 301.8 183.5 301.8ZM190.7 300.8 191.5 300.8 191.2 299.9 193.8 301.2 191.2 302.6 191.5 301.6 190.7 301.6ZM198.0 300.6 198.8 300.6 198.5 299.7 201.1 301.0 198.5 302.4 198.8 301.4 198.0 301.4ZM205.3 300.4 206.1 300.4 205.8 299.5 208.3 300.9 205.7 302.2 206.1 301.2 205.3 301.2ZM212.6 300.2 213.4 300.3 213.1 299.3 215.6 300.8 213.0 302.0 213.3 301.1 212.6 301.0ZM227.3 299.9 227.9 300.1 227.9 299.1 230.5 301.4 227.0 301.7 227.6 300.9 227.0 300.6ZM234.5 299.7 234.9 299.8 234.9 298.8 237.5 301.1 234.0 301.4 234.6 300.6 234.3 300.4ZM241.8 299.5 242.2 299.6 242.2 298.6 244.8 301.0 241.3 301.2 242.0 300.4 241.6 300.3ZM183.7 308.9 184.4 308.9 184.2 307.9 186.8 309.3 184.1 310.6 184.4 309.7 183.7 309.7ZM190.9 308.7 191.7 308.7 191.4 307.7 194.0 309.1 191.4 310.4 191.7 309.5 190.9 309.5ZM198.2 308.5 198.9 308.5 198.6 307.5 201.8 309.1 198.5 310.2 198.9 309.3 198.2 309.3ZM336.8 304.9 337.3 305.4 337.8 304.5 338.6 307.3 335.8 306.5 336.7 306.0 336.2 305.5ZM183.9 316.7 184.4 316.7 184.1 315.7 187.2 317.3 183.9 318.5 184.3 317.5 183.9 317.5ZM191.2 316.5 191.9 316.5 191.6 315.6 194.7 317.0 191.5 318.3 191.8 317.3 191.1 317.3ZM329.7 312.9 330.2 313.4 330.7 312.5 331.4 315.2 328.7 314.5 329.6 314.0 329.1 313.5ZM336.9 312.7 337.4 313.2 337.9 312.3 338.7 315.0 336.0 314.3 336.9 313.8 336.4 313.3ZM111.4 326.5 112.0 326.5 111.7 325.5 114.9 326.9 111.7 328.3 112.0 327.3 111.4 327.3ZM322.6 320.9 323.0 321.3 323.4 320.4 324.8 323.5 321.5 322.4 322.4 321.9 322.0 321.5ZM329.8 320.7 330.3 321.2 330.8 320.3 331.6 323.0 328.9 322.3 329.8 321.8 329.3 321.3ZM337.1 320.5 337.6 321.0 338.1 320.1 338.8 322.8 336.2 322.1 337.1 321.6 336.6 321.1ZM322.7 328.7 323.3 329.1 323.6 328.2 325.0 330.8 322.1 330.4 322.9 329.8 322.2 329.4ZM322.8 336.5 323.5 336.9 323.7 335.9 325.1 338.4 322.3 338.2 323.0 337.6 322.4 337.2ZM315.8 344.5 316.3 344.9 316.6 343.9 318.5 346.9 315.1 346.2 315.9 345.6 315.3 345.2ZM323.0 344.3 323.6 344.7 323.9 343.8 325.3 346.2 322.5 346.1 323.2 345.4 322.6 345.0Z"/><path fill="#90c3dd" d="M389.4 53.6 388.8 49.0 387.9 49.5 388.8 46.1 390.6 49.1 389.6 48.9 390.2 53.5ZM389.5 61.4 389.0 56.8 388.0 57.3 389.0 53.9 390.7 56.9 389.7 56.7 390.3 61.3ZM389.7 69.2 389.1 64.6 388.2 65.1 389.1 61.7 390.9 64.7 389.9 64.5 390.5 69.1ZM404.7 84.5 404.3 80.3 403.4 80.7 404.5 77.4 406.1 80.5 405.1 80.2 405.5 84.4ZM412.0 84.3 411.7 80.1 410.8 80.5 411.9 77.2 413.5 80.3 412.5 80.1 412.8 84.2ZM404.8 92.3 404.5 88.2 403.6 88.6 404.7 85.3 406.3 88.4 405.3 88.1 405.6 92.2ZM412.1 92.1 411.8 88.0 410.9 88.4 412.0 85.1 413.6 88.2 412.6 87.9 412.9 92.0ZM104.8 106.9 108.3 105.0 107.6 104.3 111.1 103.9 108.9 106.7 108.7 105.7 105.1 107.6ZM112.1 106.7 115.7 104.8 114.9 104.1 118.4 103.8 116.2 106.5 116.1 105.5 112.5 107.4ZM119.4 106.5 123.5 104.3 122.8 103.6 126.3 103.3 124.1 106.0 123.9 105.0 119.8 107.3ZM412.3 99.9 412.0 95.8 411.1 96.2 412.2 92.9 413.8 96.0 412.8 95.8 413.1 99.9ZM127.1 114.2 131.5 113.5 131.0 112.6 134.4 113.5 131.4 115.3 131.6 114.3 127.2 115.0ZM215.2 119.9 219.6 119.6 219.3 118.7 222.5 119.9 219.4 121.4 219.7 120.4 215.3 120.7ZM340.0 117.0 343.3 119.4 343.6 118.4 345.3 121.4 341.9 120.6 342.8 120.0 339.5 117.6ZM157.1 137.0 161.7 136.9 161.3 136.0 164.6 137.3 161.4 138.7 161.7 137.7 157.1 137.8ZM201.0 135.9 205.3 135.9 205.0 134.9 208.2 136.3 205.0 137.6 205.3 136.7 201.0 136.7ZM208.3 135.7 212.6 135.7 212.3 134.8 215.5 136.1 212.3 137.5 212.6 136.5 208.3 136.5ZM193.8 144.0 197.9 142.3 197.3 141.5 200.7 141.6 198.3 144.0 198.2 143.0 194.1 144.7ZM201.2 143.7 205.3 143.5 204.9 142.6 208.2 143.8 205.1 145.3 205.3 144.3 201.2 144.5ZM208.5 143.6 212.6 143.5 212.3 142.5 215.5 143.8 212.3 145.2 212.6 144.3 208.5 144.4ZM208.6 151.4 212.5 149.4 211.8 148.7 215.2 148.4 213.0 151.1 212.9 150.1 208.9 152.2ZM215.8 151.3 219.7 148.7 218.9 148.0 222.3 147.4 220.4 150.3 220.1 149.3 216.3 152.0ZM230.8 166.6 234.5 163.5 233.7 163.0 237.0 162.0 235.4 165.1 235.1 164.1 231.3 167.2ZM187.2 175.5 190.6 172.8 189.7 172.2 193.0 171.3 191.4 174.3 191.1 173.4 187.7 176.2ZM129.2 184.7 133.4 184.7 133.0 183.8 136.2 185.1 133.0 186.5 133.4 185.5 129.2 185.5ZM136.5 184.6 140.8 184.6 140.5 183.6 143.7 185.0 140.5 186.3 140.8 185.4 136.5 185.4ZM187.4 183.4 190.7 181.0 189.9 180.4 193.3 179.7 191.5 182.6 191.2 181.7 187.9 184.0ZM209.5 190.7 213.3 187.6 212.4 187.1 215.7 186.1 214.1 189.2 213.8 188.2 210.0 191.3ZM224.1 190.3 227.8 187.2 226.9 186.7 230.2 185.7 228.7 188.8 228.3 187.8 224.6 190.9ZM158.8 199.7 163.2 199.7 162.9 198.7 166.1 200.1 162.9 201.4 163.2 200.5 158.8 200.5ZM151.9 215.6 156.4 215.3 156.0 214.4 159.3 215.6 156.2 217.1 156.4 216.1 152.0 216.4ZM122.7 224.3 125.2 220.7 124.3 220.4 127.3 218.6 126.5 222.0 125.9 221.2 123.3 224.8ZM130.0 224.1 133.6 221.1 132.8 220.5 136.1 219.6 134.5 222.6 134.1 221.7 130.5 224.7ZM137.3 223.9 141.0 220.9 140.1 220.4 143.5 219.4 141.8 222.5 141.5 221.6 137.8 224.5ZM144.7 223.6 148.2 221.6 147.4 220.9 150.8 220.4 148.8 223.2 148.6 222.2 145.1 224.3ZM291.5 235.7 293.9 239.2 294.5 238.5 295.1 241.9 292.2 239.9 293.2 239.7 290.9 236.1ZM298.8 235.5 301.2 239.0 301.8 238.2 302.5 241.6 299.6 239.8 300.6 239.5 298.2 235.9ZM306.1 235.3 309.0 238.2 309.4 237.3 310.7 240.6 307.5 239.2 308.4 238.8 305.5 235.8ZM313.4 235.1 316.2 238.0 316.7 237.1 318.0 240.3 314.8 239.0 315.7 238.5 312.8 235.6ZM291.7 243.5 293.9 247.1 294.6 246.3 295.1 249.7 292.2 247.7 293.2 247.5 291.0 243.9ZM299.0 243.3 301.4 246.8 302.0 246.0 302.7 249.5 299.7 247.6 300.7 247.3 298.3 243.8ZM306.3 243.1 309.1 246.1 309.6 245.2 310.8 248.4 307.6 247.0 308.5 246.6 305.7 243.6ZM313.5 242.9 316.4 245.8 316.9 244.9 318.1 248.1 314.9 246.8 315.8 246.3 313.0 243.4ZM196.7 261.6 198.9 258.1 198.0 257.9 200.8 255.9 200.2 259.4 199.6 258.6 197.3 262.1ZM189.6 269.7 191.8 266.2 190.8 265.9 193.7 264.0 193.1 267.4 192.5 266.6 190.2 270.1ZM196.9 269.5 199.2 266.0 198.2 265.7 201.1 263.8 200.5 267.2 199.9 266.4 197.5 269.9ZM270.6 283.1 274.6 285.2 274.8 284.2 277.0 286.9 273.5 286.6 274.2 285.9 270.3 283.8ZM277.9 282.9 281.7 285.2 281.9 284.2 284.0 287.1 280.5 286.6 281.3 285.9 277.5 283.6ZM285.4 282.9 287.2 287.0 288.0 286.3 288.0 289.8 285.5 287.4 286.5 287.3 284.6 283.2ZM292.7 282.7 294.4 286.8 295.1 286.2 295.1 289.7 292.6 287.2 293.6 287.1 291.9 283.0ZM285.6 290.8 287.0 295.2 287.8 294.6 287.5 298.0 285.2 295.4 286.2 295.4 284.8 291.0ZM292.9 290.6 294.1 294.8 294.9 294.2 294.5 297.7 292.3 295.0 293.3 295.0 292.1 290.8ZM249.2 299.3 252.7 301.3 252.9 300.3 255.0 303.0 251.6 302.7 252.3 302.0 248.8 300.0ZM293.0 298.5 293.5 302.7 294.4 302.3 293.4 305.6 291.7 302.6 292.7 302.8 292.2 298.6ZM293.2 306.3 293.5 310.5 294.4 310.1 293.3 313.4 291.7 310.3 292.7 310.6 292.4 306.4ZM264.2 314.7 267.3 318.0 267.8 317.1 269.0 320.3 265.8 318.9 266.7 318.5 263.6 315.2ZM271.5 314.5 274.6 317.9 275.1 317.0 276.2 320.3 273.0 318.8 274.0 318.4 270.9 315.0ZM264.4 322.5 267.3 325.4 267.7 324.5 269.0 327.7 265.8 326.4 266.7 326.0 263.8 323.1ZM271.7 322.3 274.5 325.2 275.0 324.3 276.3 327.5 273.1 326.2 274.0 325.8 271.1 322.9ZM170.1 340.6 174.4 341.8 174.4 340.8 177.1 342.9 173.7 343.4 174.2 342.5 169.9 341.4ZM177.3 340.4 181.5 341.3 181.4 340.3 184.2 342.3 180.8 343.0 181.3 342.1 177.2 341.2ZM177.5 348.3 181.7 348.9 181.5 347.9 184.5 349.7 181.1 350.6 181.5 349.7 177.4 349.0ZM184.8 348.1 188.8 348.7 188.7 347.7 191.6 349.5 188.3 350.4 188.7 349.5 184.7 348.8Z"/><path fill="#abd9e9" d="M396.7 53.4 395.8 47.4 394.9 47.9 395.7 44.5 397.6 47.4 396.6 47.3 397.5 53.3ZM396.9 61.2 395.9 55.2 395.0 55.7 395.8 52.3 397.7 55.2 396.7 55.1 397.7 61.1ZM199.2 73.3 204.9 70.6 204.2 69.8 207.7 69.7 205.3 72.3 205.2 71.3 199.6 74.0ZM397.0 69.0 396.0 63.0 395.1 63.4 396.0 60.1 397.8 63.0 396.8 62.8 397.8 68.9ZM404.4 68.9 403.4 62.7 402.5 63.2 403.3 59.8 405.1 62.7 404.1 62.6 405.2 68.7ZM411.7 68.7 410.7 62.2 409.8 62.7 410.7 59.3 412.5 62.3 411.5 62.1 412.5 68.6ZM199.4 81.1 205.1 78.5 204.4 77.8 207.9 77.7 205.5 80.2 205.4 79.2 199.8 81.8ZM397.2 76.8 396.2 71.0 395.3 71.4 396.2 68.0 398.0 71.0 397.0 70.8 398.0 76.7ZM404.5 76.7 403.6 70.7 402.7 71.2 403.5 67.8 405.3 70.7 404.3 70.6 405.3 76.5ZM199.7 88.9 205.9 88.1 205.4 87.2 208.8 88.1 205.8 89.9 206.0 88.9 199.9 89.7ZM207.1 88.7 213.0 87.9 212.6 87.0 216.0 87.9 213.0 89.7 213.2 88.7 207.2 89.5ZM200.0 96.7 206.3 96.1 205.9 95.1 209.2 96.2 206.2 97.9 206.4 96.9 200.0 97.5ZM207.3 96.6 213.6 95.9 213.2 95.0 216.5 96.0 213.5 97.7 213.7 96.7 207.4 97.4ZM126.9 106.3 132.8 105.1 132.3 104.2 135.7 104.9 132.9 106.9 133.0 105.9 127.0 107.1ZM148.9 105.8 155.1 104.9 154.7 104.0 158.1 104.8 155.1 106.7 155.3 105.7 149.0 106.6ZM156.4 113.5 162.5 113.2 162.1 112.3 165.4 113.5 162.2 115.0 162.5 114.0 156.5 114.3ZM369.2 116.2 375.0 118.8 375.1 117.7 377.5 120.3 374.0 120.2 374.7 119.5 368.9 116.9ZM340.1 124.7 345.6 127.5 345.7 126.5 348.0 129.1 344.5 128.9 345.2 128.2 339.7 125.5ZM208.7 159.3 213.0 155.5 212.1 155.0 215.4 153.9 213.9 157.1 213.5 156.1 209.2 159.9ZM216.0 159.1 220.7 155.1 219.9 154.6 223.2 153.6 221.6 156.7 221.2 155.7 216.5 159.8ZM208.9 167.2 213.3 163.2 212.4 162.7 215.7 161.6 214.3 164.7 213.8 163.8 209.4 167.8ZM216.2 167.0 220.9 163.0 220.0 162.5 223.3 161.4 221.8 164.5 221.4 163.6 216.7 167.6ZM194.7 183.2 199.1 179.2 198.2 178.7 201.5 177.6 200.0 180.7 199.6 179.8 195.2 183.8ZM202.0 183.0 206.3 179.1 205.4 178.6 208.7 177.5 207.2 180.7 206.8 179.7 202.5 183.6ZM151.3 192.0 157.2 192.0 156.8 191.1 160.0 192.4 156.8 193.8 157.2 192.8 151.3 192.8ZM129.7 208.3 135.3 206.3 134.7 205.5 138.2 205.7 135.6 208.1 135.6 207.0 130.0 209.1ZM166.3 207.3 172.2 207.3 171.9 206.4 175.1 207.7 171.9 209.1 172.2 208.1 166.3 208.1ZM122.5 216.4 127.1 212.4 126.3 211.9 129.6 210.8 128.0 213.9 127.6 213.0 123.0 217.0ZM144.6 215.8 150.9 214.1 150.3 213.2 153.8 213.7 151.0 215.9 151.1 214.9 144.8 216.5ZM108.0 224.7 110.7 219.4 109.7 219.2 112.4 217.0 112.2 220.5 111.4 219.8 108.7 225.1ZM115.3 224.5 118.1 219.3 117.1 219.2 119.7 216.9 119.5 220.4 118.8 219.7 116.0 224.9ZM256.2 291.3 261.5 293.7 261.6 292.7 264.0 295.2 260.5 295.2 261.2 294.4 255.9 292.0ZM263.5 291.1 268.8 293.8 268.9 292.8 271.1 295.4 267.7 295.2 268.4 294.5 263.2 291.8ZM140.4 325.7 146.2 325.7 145.9 324.8 149.1 326.1 145.9 327.5 146.2 326.5 140.4 326.5ZM133.4 333.8 139.4 333.8 139.1 332.8 142.3 334.2 139.1 335.5 139.4 334.6 133.4 334.6ZM126.4 341.8 132.8 341.8 132.5 340.8 135.7 342.2 132.5 343.6 132.8 342.6 126.4 342.6Z"/><path fill="#b8e0ed" d="M404.1 53.2 403.0 46.2 402.1 46.6 403.0 43.3 404.8 46.2 403.8 46.1 404.9 53.1ZM411.4 53.1 410.3 45.9 409.4 46.4 410.3 43.0 412.1 46.0 411.1 45.8 412.2 52.9ZM404.2 61.0 403.2 54.0 402.3 54.5 403.1 51.1 405.0 54.1 404.0 53.9 405.0 60.9ZM411.6 60.9 410.5 53.8 409.6 54.2 410.5 50.8 412.3 53.8 411.3 53.6 412.3 60.8ZM200.6 120.2 207.9 120.2 207.6 119.3 210.8 120.6 207.6 122.0 207.9 121.0 200.6 121.0ZM207.9 120.1 215.1 120.1 214.8 119.1 218.0 120.5 214.8 121.8 215.1 120.9 207.9 120.9ZM361.9 116.4 368.3 119.3 368.4 118.3 370.7 120.8 367.2 120.7 367.9 120.0 361.6 117.1ZM193.5 128.3 200.5 128.2 200.2 127.2 203.4 128.6 200.2 130.0 200.5 129.0 193.5 129.1ZM200.8 128.1 207.8 128.1 207.4 127.1 210.6 128.5 207.4 129.8 207.8 128.9 200.8 128.9ZM208.1 127.9 215.0 127.9 214.7 126.9 217.9 128.3 214.7 129.6 215.0 128.7 208.1 128.7ZM369.4 124.0 375.8 126.9 375.9 125.9 378.3 128.4 374.8 128.4 375.5 127.6 369.0 124.8ZM376.7 123.8 382.7 126.4 382.8 125.4 385.2 127.8 381.7 127.9 382.4 127.1 376.4 124.6ZM186.5 144.1 193.2 143.2 192.8 142.3 196.2 143.2 193.2 145.0 193.4 144.0 186.6 144.9ZM194.2 167.5 199.0 162.9 198.1 162.4 201.3 161.1 200.0 164.3 199.6 163.4 194.8 168.1ZM201.6 167.4 206.4 162.5 205.5 162.1 208.7 160.8 207.4 164.0 207.0 163.1 202.1 167.9ZM194.4 175.4 199.3 170.5 198.4 170.1 201.7 168.8 200.3 172.0 199.9 171.1 195.0 176.0ZM201.8 175.2 206.6 170.4 205.7 169.9 209.0 168.6 207.6 171.9 207.2 171.0 202.3 175.8ZM107.2 185.3 114.4 185.4 114.1 184.4 117.3 185.8 114.0 187.2 114.4 186.2 107.2 186.1ZM114.6 185.1 121.6 185.2 121.3 184.3 124.4 185.7 121.2 187.0 121.6 186.0 114.5 185.9ZM159.0 207.5 165.6 207.5 165.3 206.6 168.5 207.9 165.3 209.3 165.6 208.3 159.0 208.3ZM107.8 216.8 112.2 211.5 111.3 211.1 114.3 209.5 113.4 212.8 112.8 212.0 108.5 217.3ZM115.1 216.6 119.5 211.3 118.6 211.0 121.6 209.3 120.7 212.7 120.1 211.8 115.8 217.1ZM270.9 291.0 275.5 296.2 276.0 295.3 277.1 298.6 274.0 297.1 274.9 296.7 270.3 291.5ZM278.2 290.8 282.5 296.2 283.1 295.3 284.0 298.7 280.9 297.0 281.9 296.7 277.6 291.3ZM285.8 298.6 287.3 305.2 288.1 304.6 287.5 308.0 285.5 305.2 286.5 305.3 285.0 298.8ZM147.5 317.7 154.3 317.8 154.0 316.8 157.2 318.2 153.9 319.5 154.3 318.6 147.5 318.5ZM162.5 333.0 169.2 333.7 169.0 332.7 172.0 334.4 168.7 335.4 169.1 334.5 162.4 333.8ZM162.7 340.8 169.8 341.5 169.6 340.5 172.6 342.2 169.3 343.2 169.7 342.3 162.7 341.6ZM155.7 348.8 163.0 349.5 162.7 348.5 165.8 350.2 162.5 351.2 162.9 350.3 155.6 349.6ZM163.0 348.6 170.0 349.4 169.8 348.4 172.9 350.0 169.6 351.1 170.0 350.2 162.9 349.4Z"/><path fill="#fff7b3" d="M103.5 67.8 112.1 56.8 111.1 56.4 114.1 54.7 113.2 58.1 112.7 57.3 104.1 68.3ZM169.7 66.1 183.1 61.7 182.5 60.9 185.9 61.2 183.3 63.5 183.3 62.5 170.0 66.9ZM177.1 65.9 190.2 62.4 189.7 61.6 193.1 62.1 190.4 64.2 190.4 63.2 177.3 66.7ZM118.4 75.3 127.2 65.4 126.3 65.0 129.4 63.5 128.3 66.8 127.8 65.9 119.0 75.8ZM125.8 75.0 137.3 68.1 136.5 67.5 140.0 67.0 137.9 69.8 137.7 68.8 126.2 75.7ZM133.2 74.8 145.6 69.0 144.9 68.3 148.4 68.2 146.0 70.8 145.9 69.8 133.5 75.5ZM140.5 74.6 152.9 68.9 152.2 68.2 155.7 68.0 153.4 70.6 153.3 69.6 140.9 75.4ZM147.9 74.5 160.6 69.1 159.9 68.3 163.4 68.3 161.0 70.8 160.9 69.8 148.2 75.2ZM155.2 74.3 168.4 69.7 167.8 68.9 171.3 69.1 168.7 71.5 168.7 70.5 155.5 75.0ZM133.4 82.7 145.7 77.1 145.0 76.4 148.5 76.3 146.2 78.8 146.1 77.8 133.8 83.4ZM140.8 82.5 153.1 76.9 152.4 76.2 155.9 76.1 153.5 78.7 153.4 77.7 141.1 83.2ZM354.9 132.2 367.4 136.9 367.5 135.9 370.0 138.3 366.5 138.5 367.1 137.7 354.6 132.9ZM362.2 132.0 374.8 136.7 374.9 135.7 377.4 138.1 373.9 138.3 374.6 137.5 361.9 132.8ZM355.0 140.0 367.8 144.7 367.8 143.7 370.4 146.0 366.9 146.2 367.5 145.4 354.8 140.8Z"/><path fill="#f0f9dc" d="M184.4 65.8 194.9 62.6 194.3 61.8 197.7 62.1 195.1 64.4 195.1 63.4 184.6 66.5ZM177.3 73.8 188.2 70.3 187.7 69.5 191.1 69.8 188.5 72.1 188.5 71.0 177.5 74.5ZM118.6 83.1 126.3 74.6 125.4 74.2 128.6 72.8 127.4 76.0 126.9 75.2 119.2 83.6ZM126.4 90.7 136.9 87.2 136.3 86.4 139.7 86.6 137.1 88.9 137.1 87.9 126.6 91.4ZM133.7 90.5 144.9 87.9 144.4 87.0 147.8 87.6 145.0 89.7 145.1 88.7 133.9 91.3ZM141.1 90.3 152.3 87.7 151.7 86.9 155.2 87.5 152.4 89.5 152.5 88.5 141.2 91.1ZM134.0 98.3 144.8 96.0 144.2 95.1 147.7 95.8 144.8 97.8 144.9 96.8 134.1 99.1ZM141.3 98.1 152.1 95.8 151.6 95.0 155.0 95.6 152.1 97.6 152.3 96.6 141.5 98.9ZM156.0 97.8 166.7 95.9 166.2 95.0 169.6 95.8 166.7 97.7 166.8 96.7 156.1 98.6ZM185.3 97.1 196.6 95.7 196.2 94.8 199.5 95.8 196.5 97.5 196.7 96.5 185.4 97.9ZM163.8 113.3 175.2 113.2 174.9 112.2 178.1 113.6 174.9 115.0 175.2 114.0 163.8 114.1ZM185.8 112.8 197.2 112.7 196.9 111.7 200.1 113.1 196.9 114.4 197.2 113.5 185.8 113.6ZM171.3 120.9 182.5 120.9 182.2 120.0 185.4 121.3 182.2 122.7 182.5 121.7 171.3 121.7ZM178.6 120.8 189.8 120.8 189.5 119.8 192.7 121.2 189.5 122.5 189.8 121.6 178.6 121.6ZM186.0 120.6 196.8 120.6 196.5 119.6 199.7 121.0 196.5 122.3 196.8 121.4 186.0 121.4ZM171.5 128.8 182.6 128.8 182.2 127.8 185.4 129.2 182.2 130.5 182.6 129.6 171.5 129.6ZM178.9 128.6 189.9 128.6 189.6 127.6 192.8 129.0 189.6 130.4 189.9 129.4 178.9 129.4ZM369.5 131.8 379.6 135.5 379.7 134.5 382.2 136.8 378.7 137.0 379.4 136.2 369.2 132.6ZM362.5 147.6 373.2 150.6 373.2 149.6 375.9 151.8 372.5 152.3 373.0 151.4 362.3 148.4ZM144.2 200.1 155.2 200.0 154.8 199.1 158.0 200.4 154.8 201.8 155.2 200.8 144.2 200.9Z"/><path fill="#f7fccd" d="M103.7 75.6 111.0 65.9 110.1 65.6 113.1 63.9 112.3 67.2 111.7 66.4 104.4 76.1ZM111.1 75.5 118.5 65.7 117.5 65.4 120.6 63.7 119.7 67.0 119.1 66.2 111.7 75.9ZM103.9 83.5 111.1 74.0 110.2 73.7 113.2 72.0 112.4 75.3 111.8 74.5 104.6 84.0ZM111.3 83.3 118.5 73.9 117.5 73.5 120.6 71.8 119.7 75.2 119.1 74.3 111.9 83.8ZM177.5 81.6 188.7 78.7 188.1 77.8 191.6 78.3 188.8 80.5 188.9 79.4 177.7 82.4ZM148.4 90.1 159.6 87.1 159.1 86.3 162.5 86.7 159.8 88.9 159.8 87.9 148.6 90.9ZM155.7 90.0 167.6 86.7 167.0 85.9 170.4 86.3 167.7 88.5 167.8 87.5 155.9 90.7ZM170.4 89.6 182.6 87.8 182.1 86.9 185.5 87.8 182.5 89.6 182.7 88.6 170.5 90.4ZM177.7 89.4 189.8 87.7 189.4 86.8 192.7 87.7 189.8 89.5 189.9 88.5 177.9 90.2ZM163.3 97.6 175.3 96.1 174.9 95.2 178.2 96.1 175.2 97.9 175.4 96.9 163.4 98.4ZM170.6 97.4 182.8 95.9 182.3 95.0 185.7 95.9 182.7 97.7 182.9 96.7 170.7 98.2ZM178.0 97.3 190.1 95.7 189.6 94.8 193.0 95.8 190.0 97.5 190.2 96.5 178.1 98.1ZM163.6 105.4 175.4 105.0 175.1 104.1 178.3 105.3 175.2 106.8 175.4 105.8 163.6 106.2ZM170.9 105.3 183.0 105.2 182.7 104.2 185.9 105.5 182.7 106.9 183.0 106.0 170.9 106.1ZM178.2 105.1 190.3 105.0 190.0 104.0 193.2 105.4 190.0 106.8 190.3 105.8 178.2 105.9ZM185.5 104.9 197.1 104.6 196.8 103.6 200.0 104.9 196.9 106.3 197.2 105.4 185.6 105.7ZM171.1 113.1 183.2 113.1 182.8 112.1 186.0 113.5 182.8 114.9 183.2 113.9 171.1 113.9ZM178.4 112.9 190.5 112.9 190.2 112.0 193.4 113.3 190.2 114.7 190.5 113.7 178.4 113.7ZM107.5 201.1 117.0 193.7 116.2 193.2 119.5 192.3 117.8 195.3 117.5 194.4 107.9 201.7ZM114.8 200.9 124.3 193.6 123.4 193.0 126.8 192.2 125.1 195.2 124.8 194.2 115.2 201.5Z"/><path fill="#ffffbf" d="M162.6 74.1 175.0 70.0 174.4 69.2 177.8 69.4 175.2 71.7 175.2 70.7 162.8 74.9ZM169.9 73.9 182.2 69.9 181.6 69.1 185.1 69.3 182.5 71.6 182.5 70.6 170.2 74.7ZM126.1 82.8 137.5 77.3 136.7 76.5 140.2 76.4 137.9 79.0 137.8 78.0 126.4 83.6ZM148.1 82.3 160.3 77.4 159.6 76.6 163.1 76.7 160.6 79.2 160.6 78.1 148.4 83.1ZM155.5 82.1 167.8 78.0 167.2 77.2 170.7 77.5 168.1 79.8 168.1 78.8 155.7 82.9ZM162.8 82.0 175.1 77.9 174.5 77.1 177.9 77.4 175.3 79.7 175.3 78.7 163.1 82.7ZM170.1 81.8 182.4 77.9 181.8 77.0 185.2 77.4 182.6 79.6 182.6 78.6 170.4 82.5ZM163.1 89.8 175.2 87.0 174.7 86.1 178.1 86.7 175.3 88.8 175.4 87.8 163.2 90.6ZM362.3 139.8 374.5 143.9 374.5 142.9 377.1 145.2 373.7 145.4 374.3 144.6 362.1 140.6Z"/><path fill="#e0f3f8" d="M184.6 73.6 193.9 70.5 193.3 69.7 196.7 70.0 194.1 72.3 194.1 71.3 184.8 74.4ZM191.9 73.4 200.8 70.4 200.2 69.6 203.7 69.8 201.1 72.1 201.1 71.1 192.2 74.2ZM184.8 81.4 194.1 78.4 193.5 77.6 197.0 77.9 194.3 80.1 194.4 79.1 185.1 82.2ZM192.1 81.3 201.1 78.2 200.5 77.4 204.0 77.7 201.4 80.0 201.4 79.0 192.4 82.0ZM118.9 90.9 125.6 84.8 124.7 84.3 128.0 83.1 126.6 86.3 126.1 85.4 119.4 91.5ZM126.6 98.5 135.9 96.0 135.3 95.2 138.8 95.7 136.0 97.8 136.1 96.8 126.8 99.3ZM192.9 104.7 202.3 104.5 202.0 103.5 205.2 104.8 202.0 106.3 202.3 105.3 192.9 105.5ZM200.2 104.6 210.0 104.5 209.7 103.6 212.9 104.9 209.7 106.3 210.0 105.3 200.2 105.4ZM207.5 104.4 217.3 104.3 216.9 103.4 220.2 104.7 217.0 106.1 217.3 105.1 207.5 105.2ZM193.1 112.6 202.6 112.5 202.3 111.6 205.5 112.9 202.3 114.3 202.6 113.3 193.1 113.4ZM207.7 112.2 217.5 112.2 217.2 111.3 220.4 112.6 217.2 114.0 217.5 113.0 207.7 113.0ZM347.3 116.7 355.7 121.1 355.8 120.1 358.1 122.8 354.6 122.5 355.3 121.8 346.9 117.5ZM354.6 116.6 363.3 121.0 363.4 120.0 365.7 122.7 362.2 122.4 362.9 121.7 354.2 117.3ZM347.4 124.6 356.0 128.4 356.1 127.3 358.5 129.9 355.0 129.8 355.7 129.1 347.1 125.3ZM164.4 136.8 173.9 136.8 173.6 135.8 176.8 137.1 173.6 138.5 173.9 137.6 164.4 137.6ZM186.4 136.3 195.5 136.0 195.1 135.1 198.3 136.4 195.2 137.8 195.5 136.8 186.4 137.1ZM347.5 132.4 356.0 135.5 356.1 134.5 358.6 136.9 355.1 137.1 355.8 136.3 347.3 133.1ZM172.0 144.5 181.4 144.4 181.1 143.4 184.3 144.8 181.1 146.2 181.4 145.2 172.0 145.3ZM179.3 144.3 188.7 144.2 188.4 143.2 191.6 144.6 188.4 146.0 188.7 145.0 179.3 145.1ZM107.3 193.2 116.5 189.7 115.8 188.9 119.3 189.0 116.8 191.5 116.8 190.4 107.6 193.9ZM114.6 193.0 123.7 189.5 123.1 188.8 126.6 188.9 124.1 191.3 124.0 190.3 114.9 193.7ZM122.1 200.7 130.4 195.8 129.6 195.2 133.1 194.7 131.0 197.5 130.8 196.5 122.5 201.4ZM271.2 298.9 275.8 307.3 276.5 306.6 276.8 310.1 274.1 307.9 275.1 307.7 270.5 299.3ZM278.5 298.8 281.9 307.5 282.7 306.9 282.6 310.3 280.2 307.9 281.2 307.8 277.7 299.1ZM264.1 306.9 268.7 314.7 269.4 314.0 269.9 317.4 267.1 315.3 268.0 315.1 263.4 307.3ZM271.3 306.7 275.8 314.8 276.5 314.0 276.8 317.5 274.1 315.4 275.1 315.2 270.6 307.1ZM278.7 306.6 281.2 315.4 282.0 314.8 281.6 318.2 279.4 315.5 280.4 315.6 277.9 306.8ZM155.2 333.2 165.1 333.2 164.7 332.2 167.9 333.6 164.7 335.0 165.0 334.0 155.2 334.0ZM148.2 341.2 157.2 341.2 156.9 340.3 160.1 341.7 156.9 343.0 157.2 342.0 148.2 342.0ZM141.1 349.2 150.2 349.2 149.8 348.3 153.0 349.6 149.8 351.0 150.1 350.0 141.1 350.0Z"/><path fill="#9dcee3" d="M206.5 73.1 211.5 70.7 210.8 70.0 214.3 69.8 212.0 72.4 211.9 71.4 206.9 73.8ZM206.8 80.9 211.9 78.5 211.2 77.8 214.7 77.7 212.4 80.3 212.3 79.2 207.1 81.7ZM411.9 76.5 411.2 71.3 410.3 71.7 411.2 68.4 413.0 71.4 412.0 71.2 412.6 76.4ZM134.2 106.2 139.7 105.4 139.3 104.5 142.6 105.4 139.6 107.2 139.8 106.2 134.3 106.9ZM141.5 106.0 147.0 105.2 146.6 104.3 149.9 105.3 147.0 107.0 147.1 106.0 141.6 106.8ZM214.9 104.2 220.2 104.1 219.9 103.2 223.1 104.5 219.9 105.9 220.2 104.9 214.9 105.0ZM134.4 114.0 139.5 113.4 139.1 112.4 142.5 113.4 139.4 115.1 139.6 114.1 134.5 114.8ZM141.8 113.8 146.8 113.2 146.3 112.3 149.7 113.3 146.6 115.0 146.9 114.0 141.9 114.6ZM215.1 112.1 220.6 112.0 220.2 111.0 223.5 112.3 220.3 113.7 220.6 112.8 215.1 112.9ZM193.7 136.1 198.9 135.8 198.5 134.8 201.8 136.0 198.7 137.6 198.9 136.6 193.7 136.9ZM340.3 140.3 345.7 141.0 345.5 140.0 348.5 141.7 345.1 142.7 345.6 141.8 340.2 141.1ZM193.8 151.9 197.8 148.1 196.9 147.6 200.1 146.4 198.8 149.6 198.3 148.6 194.4 152.4ZM201.2 151.7 205.1 148.0 204.2 147.5 207.5 146.4 206.1 149.5 205.7 148.6 201.7 152.3ZM194.0 159.7 198.0 155.9 197.1 155.4 200.3 154.1 199.0 157.3 198.5 156.4 194.6 160.3ZM201.3 159.5 205.4 155.6 204.5 155.1 207.7 153.8 206.4 157.0 205.9 156.1 201.9 160.1ZM223.3 159.0 227.6 155.4 226.7 154.8 230.1 153.8 228.5 156.9 228.1 156.0 223.8 159.6ZM230.6 158.8 234.4 155.6 233.6 155.1 236.9 154.1 235.3 157.2 234.9 156.3 231.1 159.4ZM223.5 166.8 227.8 163.2 226.9 162.7 230.3 161.6 228.7 164.7 228.3 163.8 224.0 167.4ZM107.0 177.5 112.3 178.0 112.0 177.0 115.1 178.7 111.8 179.7 112.2 178.8 107.0 178.3ZM209.1 175.0 213.0 171.7 212.1 171.2 215.4 170.2 213.9 173.3 213.5 172.3 209.6 175.6ZM216.4 174.8 220.3 171.6 219.4 171.1 222.7 170.0 221.1 173.1 220.8 172.2 216.9 175.4ZM223.7 174.6 227.8 171.2 226.9 170.7 230.2 169.7 228.6 172.8 228.3 171.8 224.2 175.2ZM121.8 184.9 127.1 184.7 126.7 183.7 130.0 184.9 126.8 186.4 127.1 185.5 121.9 185.7ZM143.8 184.4 148.7 184.4 148.3 183.4 151.5 184.8 148.3 186.1 148.7 185.2 143.8 185.2ZM209.3 182.8 213.1 179.6 212.2 179.1 215.6 178.1 214.0 181.2 213.6 180.3 209.8 183.4ZM216.6 182.6 220.4 179.5 219.5 178.9 222.9 177.9 221.3 181.0 220.9 180.1 217.1 183.3ZM223.9 182.5 227.7 179.3 226.8 178.8 230.2 177.8 228.6 180.9 228.2 179.9 224.4 183.1ZM129.4 192.6 134.9 192.5 134.5 191.6 137.7 192.9 134.6 194.3 134.9 193.3 129.4 193.4ZM216.8 190.5 220.6 187.3 219.7 186.8 223.1 185.8 221.5 188.9 221.1 187.9 217.3 191.1ZM166.1 199.5 171.0 199.5 170.7 198.5 173.9 199.9 170.7 201.3 171.0 200.3 166.1 200.3ZM173.4 199.3 178.4 199.3 178.1 198.4 181.3 199.7 178.1 201.1 178.4 200.1 173.4 200.1ZM173.6 207.2 178.5 207.2 178.2 206.2 181.4 207.6 178.2 208.9 178.5 208.0 173.6 208.0ZM129.9 216.2 134.4 213.6 133.6 212.9 137.1 212.5 135.0 215.3 134.8 214.3 130.3 216.9ZM137.2 216.0 141.9 213.5 141.1 212.8 144.6 212.5 142.4 215.2 142.2 214.2 137.5 216.7ZM108.2 232.7 108.4 227.8 107.5 228.0 109.0 224.9 110.2 228.2 109.2 227.8 109.0 232.8ZM108.4 240.6 108.5 235.7 107.5 236.0 108.9 232.8 110.3 236.1 109.3 235.7 109.2 240.6ZM154.8 317.5 160.1 318.1 159.9 317.1 162.9 318.8 159.6 319.8 160.0 318.9 154.7 318.3ZM256.9 314.9 260.3 318.5 260.8 317.6 262.0 320.9 258.8 319.5 259.8 319.1 256.3 315.4ZM278.8 314.4 281.3 319.1 282.0 318.4 282.3 321.9 279.6 319.7 280.6 319.5 278.1 314.7ZM162.3 325.1 168.0 325.9 167.8 324.9 170.8 326.7 167.4 327.6 167.9 326.7 162.2 325.9ZM126.1 333.9 131.8 333.9 131.4 333.0 134.6 334.3 131.4 335.7 131.8 334.7 126.1 334.7ZM126.6 349.6 132.2 349.6 131.8 348.7 135.0 350.0 131.8 351.4 132.2 350.4 126.6 350.4ZM170.2 348.4 175.4 349.3 175.2 348.3 178.2 350.2 174.8 351.0 175.3 350.1 170.1 349.2Z"/><path fill="#4065ac" d="M236.4 72.5 236.8 73.1 237.4 72.3 237.6 74.9 235.2 73.9 236.1 73.5 235.7 73.0ZM243.8 72.6 243.8 73.3 244.7 73.0 243.3 75.2 242.0 72.9 243.0 73.2 243.0 72.6ZM236.3 80.2 236.9 80.3 236.8 79.3 238.8 80.8 236.5 82.0 236.9 81.1 236.2 81.0ZM243.7 80.8 243.1 81.0 243.6 81.8 241.1 81.1 242.8 79.2 242.9 80.2 243.5 80.0ZM367.9 77.5 367.9 76.8 366.9 77.1 368.3 74.9 369.6 77.1 368.7 76.8 368.7 77.5ZM375.2 77.3 375.2 76.7 374.2 76.9 375.5 74.7 376.9 76.9 376.0 76.6 376.0 77.3ZM236.4 88.0 237.1 88.0 236.8 87.1 239.1 88.4 236.9 89.8 237.1 88.8 236.5 88.8ZM360.7 85.4 360.9 84.7 359.9 84.7 361.8 83.0 362.5 85.4 361.6 84.9 361.5 85.6ZM382.7 85.0 382.7 84.3 381.7 84.6 383.0 82.4 384.4 84.5 383.5 84.3 383.5 84.9ZM317.5 94.1 318.0 94.5 318.5 93.6 319.1 96.1 316.6 95.6 317.5 95.1 317.0 94.6ZM324.9 93.9 325.3 94.4 325.9 93.5 326.4 96.1 323.9 95.4 324.7 94.9 324.3 94.4ZM382.8 92.8 382.8 92.1 381.9 92.4 383.2 90.2 384.6 92.3 383.6 92.1 383.6 92.8ZM236.8 103.7 237.5 103.7 237.2 102.7 239.4 104.0 237.3 105.4 237.5 104.5 236.8 104.5ZM266.2 103.8 265.6 103.9 266.1 104.8 263.6 104.0 265.5 102.2 265.4 103.1 266.1 103.0ZM383.0 100.6 383.0 99.9 382.0 100.2 383.4 98.0 384.7 100.2 383.8 99.9 383.8 100.6ZM251.7 112.0 251.0 111.9 251.2 112.9 249.1 111.5 251.4 110.2 251.1 111.1 251.7 111.2ZM266.6 110.9 267.1 111.4 267.6 110.5 268.2 113.0 265.7 112.5 266.5 112.0 266.1 111.5ZM274.0 110.8 274.4 111.3 274.9 110.4 275.4 113.0 272.9 112.2 273.8 111.8 273.4 111.3ZM288.2 110.3 288.8 110.1 288.3 109.3 290.8 110.0 289.1 111.9 289.0 110.9 288.4 111.1ZM295.9 110.2 296.4 110.6 296.8 109.8 297.6 112.2 295.0 111.8 295.9 111.2 295.4 110.8ZM303.2 110.1 303.7 110.5 304.2 109.6 304.8 112.2 302.3 111.6 303.1 111.1 302.7 110.6ZM266.7 118.7 267.3 119.0 267.5 118.0 268.8 120.3 266.2 120.4 266.9 119.7 266.3 119.4ZM274.0 118.5 274.6 118.7 274.7 117.7 276.3 119.8 273.7 120.3 274.3 119.5 273.7 119.2ZM296.0 118.0 296.6 118.4 296.9 117.4 298.0 119.8 295.4 119.7 296.1 119.0 295.6 118.7ZM303.4 117.9 303.9 118.3 304.3 117.4 305.1 119.9 302.5 119.4 303.4 118.9 302.9 118.5ZM310.5 117.6 311.1 117.6 310.9 116.6 313.1 118.0 310.8 119.4 311.1 118.4 310.5 118.4ZM317.7 117.4 318.4 117.3 318.0 116.4 320.4 117.4 318.4 119.1 318.5 118.1 317.8 118.2ZM412.7 123.2 412.9 122.6 411.9 122.6 413.8 120.8 414.6 123.3 413.7 122.8 413.5 123.4ZM244.9 134.8 245.6 134.8 245.3 133.9 247.5 135.1 245.4 136.6 245.6 135.6 245.0 135.6ZM252.2 134.7 252.8 134.6 252.4 133.7 254.8 134.6 252.9 136.3 253.0 135.3 252.3 135.5ZM252.4 142.5 253.0 142.4 252.6 141.5 255.0 142.5 253.0 144.2 253.1 143.2 252.5 143.3ZM245.2 150.5 245.9 150.4 245.4 149.5 247.8 150.3 246.0 152.1 246.0 151.1 245.4 151.3ZM253.1 158.2 253.6 158.6 254.0 157.7 254.9 160.1 252.3 159.9 253.1 159.3 252.6 158.9ZM260.4 158.0 260.9 158.4 261.2 157.4 262.3 159.8 259.7 159.7 260.5 159.1 259.9 158.7ZM253.2 166.0 253.8 166.4 254.1 165.4 255.2 167.7 252.6 167.7 253.4 167.1 252.8 166.7ZM260.6 165.9 261.1 166.3 261.5 165.5 262.3 167.9 259.7 167.5 260.5 166.9 260.1 166.5ZM267.8 165.6 268.4 165.9 268.5 164.9 270.1 166.9 267.6 167.4 268.1 166.6 267.5 166.4ZM318.5 164.5 318.9 164.0 318.0 163.6 320.5 162.7 320.1 165.3 319.5 164.5 319.1 165.0ZM260.7 173.7 261.3 174.0 261.5 173.0 262.8 175.2 260.3 175.4 260.9 174.7 260.3 174.4ZM268.0 173.5 268.6 173.8 268.9 172.9 270.1 175.2 267.5 175.2 268.2 174.5 267.6 174.2ZM275.1 173.3 275.8 173.3 275.5 172.3 277.7 173.7 275.5 175.0 275.8 174.1 275.1 174.1ZM246.7 197.5 247.2 197.9 247.5 196.9 248.7 199.2 246.1 199.3 246.8 198.6 246.3 198.2ZM246.4 205.4 247.0 205.0 246.2 204.4 248.8 204.2 247.8 206.6 247.4 205.7 246.9 206.0ZM254.3 213.0 254.9 213.2 255.0 212.2 256.6 214.3 254.1 214.8 254.6 214.0 254.0 213.7ZM246.7 221.1 247.1 220.6 246.2 220.3 248.5 219.2 248.4 221.8 247.8 221.1 247.4 221.6ZM254.6 220.9 255.1 221.3 255.5 220.4 256.4 222.8 253.8 222.5 254.6 221.9 254.1 221.5ZM247.5 228.9 248.0 229.3 248.3 228.3 249.4 230.7 246.8 230.5 247.5 229.9 247.0 229.5ZM254.8 228.7 255.3 229.2 255.8 228.4 256.3 230.9 253.8 230.2 254.7 229.8 254.2 229.3ZM415.3 224.6 415.8 225.1 416.3 224.2 416.9 226.7 414.4 226.1 415.2 225.6 414.8 225.2ZM239.8 237.0 240.2 236.5 239.3 236.1 241.8 235.2 241.4 237.8 240.9 237.0 240.5 237.5ZM247.7 236.8 248.2 237.2 248.7 236.3 249.3 238.9 246.8 238.3 247.6 237.8 247.2 237.3ZM255.1 236.6 255.4 237.1 256.1 236.4 256.3 238.9 253.9 238.0 254.8 237.6 254.4 237.1ZM408.2 232.6 408.7 233.1 409.2 232.2 409.8 234.7 407.2 234.1 408.1 233.6 407.6 233.2ZM415.5 232.4 416.0 232.9 416.4 232.0 417.0 234.6 414.5 234.0 415.4 233.5 414.9 233.0ZM408.3 240.4 408.8 240.9 409.3 240.0 409.9 242.6 407.4 242.0 408.2 241.5 407.8 241.0ZM415.6 240.2 416.1 240.7 416.6 239.8 417.2 242.4 414.7 241.8 415.5 241.3 415.1 240.8ZM415.8 248.1 416.2 248.5 416.7 247.7 417.3 250.2 414.8 249.6 415.7 249.1 415.2 248.6Z"/><path fill="#82b8d7" d="M389.9 77.0 389.4 73.3 388.5 73.7 389.4 70.4 391.2 73.4 390.2 73.2 390.6 76.9ZM397.3 84.6 397.0 81.3 396.1 81.7 397.2 78.4 398.8 81.5 397.8 81.2 398.1 84.6ZM214.6 96.4 218.3 96.1 217.9 95.2 221.2 96.3 218.1 97.9 218.3 96.9 214.7 97.2ZM347.1 101.2 349.2 103.9 349.8 103.0 350.7 106.4 347.7 104.8 348.6 104.4 346.4 101.7ZM354.4 101.0 356.6 103.7 357.1 102.8 358.1 106.2 355.0 104.6 356.0 104.2 353.8 101.5ZM405.0 100.1 404.7 96.2 403.7 96.6 404.9 93.3 406.5 96.4 405.5 96.2 405.8 100.0ZM105.0 114.7 108.4 113.0 107.7 112.3 111.2 112.1 108.9 114.8 108.8 113.8 105.4 115.5ZM112.3 114.6 115.6 113.0 114.9 112.2 118.4 112.1 116.1 114.7 116.0 113.7 112.7 115.3ZM149.1 113.6 153.1 113.3 152.7 112.4 156.0 113.5 152.9 115.1 153.1 114.1 149.2 114.4ZM347.2 109.0 349.8 111.9 350.3 111.0 351.4 114.3 348.2 112.8 349.2 112.4 346.6 109.5ZM354.5 108.8 357.1 111.7 357.6 110.8 358.8 114.1 355.6 112.6 356.6 112.2 353.9 109.4ZM412.4 107.7 412.2 103.8 411.2 104.2 412.3 100.9 413.9 104.0 412.9 103.7 413.2 107.7ZM134.7 121.8 138.2 121.6 137.8 120.6 141.1 121.7 138.0 123.3 138.3 122.4 134.7 122.6ZM156.7 121.3 160.3 121.3 160.0 120.3 163.2 121.6 160.0 123.0 160.3 122.1 156.7 122.1ZM332.7 117.1 335.3 119.3 335.7 118.3 337.3 121.4 334.0 120.4 334.8 119.9 332.2 117.8ZM156.9 129.1 160.4 129.1 160.0 128.2 163.2 129.5 160.0 130.9 160.4 129.9 156.9 129.9ZM215.4 127.7 219.2 127.4 218.8 126.5 222.1 127.6 219.0 129.2 219.2 128.2 215.5 128.5ZM332.8 124.9 335.6 126.8 335.8 125.8 337.7 128.7 334.3 128.0 335.1 127.4 332.4 125.6ZM186.6 152.0 189.6 150.2 188.8 149.5 192.2 149.0 190.2 151.8 190.0 150.8 187.0 152.7ZM223.1 151.1 226.2 148.9 225.3 148.3 228.7 147.5 226.9 150.5 226.6 149.6 223.6 151.8ZM340.3 148.2 343.6 147.1 343.0 146.3 346.5 146.6 343.8 148.9 343.8 147.9 340.5 148.9ZM347.6 148.0 351.1 147.0 350.5 146.2 354.0 146.6 351.3 148.8 351.3 147.8 347.8 148.8ZM186.8 159.9 189.5 157.7 188.7 157.1 192.0 156.2 190.3 159.3 190.0 158.3 187.3 160.5ZM340.5 156.0 343.7 154.9 343.1 154.1 346.6 154.4 344.0 156.7 344.0 155.7 340.7 156.8ZM347.8 155.8 351.0 154.8 350.4 154.0 353.9 154.3 351.3 156.6 351.3 155.6 348.0 156.6ZM106.8 169.6 110.4 169.8 110.2 168.8 113.3 170.3 110.0 171.5 110.4 170.6 106.8 170.4ZM187.0 167.7 189.8 165.4 189.0 164.9 192.3 163.9 190.7 167.0 190.3 166.0 187.5 168.3ZM340.6 163.8 343.7 162.8 343.1 162.0 346.6 162.3 343.9 164.6 343.9 163.6 340.9 164.6ZM114.3 177.3 118.2 177.5 117.9 176.5 121.0 178.1 117.7 179.3 118.1 178.3 114.3 178.1ZM128.9 176.9 132.2 176.9 131.8 175.9 135.0 177.3 131.8 178.7 132.2 177.7 128.9 177.7ZM231.0 174.4 234.0 172.0 233.2 171.5 236.5 170.5 234.9 173.6 234.5 172.6 231.5 175.1ZM231.2 182.3 234.0 180.0 233.2 179.5 236.5 178.5 234.9 181.6 234.5 180.7 231.7 182.9ZM202.2 190.8 205.5 188.8 204.7 188.1 208.2 187.6 206.2 190.4 205.9 189.4 202.7 191.5ZM231.4 190.1 234.2 187.8 233.4 187.3 236.7 186.3 235.1 189.4 234.7 188.5 231.9 190.7ZM209.8 198.5 212.6 196.8 211.8 196.2 215.3 195.7 213.2 198.5 213.0 197.5 210.2 199.2ZM217.0 198.3 220.0 195.8 219.2 195.3 222.5 194.3 220.9 197.4 220.5 196.4 217.5 198.9ZM224.3 198.1 226.7 195.8 225.8 195.4 229.0 194.1 227.7 197.3 227.2 196.4 224.8 198.7ZM159.3 215.4 162.9 215.4 162.6 214.4 165.8 215.8 162.6 217.1 162.9 216.2 159.3 216.2ZM166.6 215.2 170.2 215.2 169.9 214.2 173.1 215.6 169.9 216.9 170.2 216.0 166.6 216.0ZM173.9 215.0 177.1 215.0 176.8 214.0 180.0 215.4 176.8 216.7 177.1 215.8 173.9 215.8ZM115.5 232.5 116.2 229.1 115.2 229.3 117.1 226.4 117.8 229.8 116.9 229.3 116.3 232.7ZM291.4 227.9 293.1 230.6 293.8 229.8 294.4 233.2 291.5 231.3 292.5 231.0 290.7 228.3ZM298.6 227.7 300.5 230.3 301.1 229.5 301.9 232.8 298.9 231.1 299.9 230.7 298.0 228.1ZM305.9 227.4 308.0 229.9 308.5 229.0 309.5 232.4 306.4 230.8 307.4 230.4 305.3 228.0ZM313.2 227.3 315.4 229.7 315.9 228.8 317.0 232.1 313.8 230.6 314.8 230.2 312.6 227.8ZM115.7 240.4 116.2 237.1 115.2 237.3 117.0 234.4 117.9 237.7 117.0 237.3 116.5 240.5ZM277.0 236.1 278.5 239.4 279.3 238.7 279.4 242.2 276.8 239.9 277.8 239.8 276.3 236.5ZM284.3 235.9 286.0 239.3 286.7 238.6 286.9 242.1 284.3 239.8 285.3 239.7 283.6 236.3ZM108.7 248.5 108.7 244.4 107.7 244.7 109.1 241.5 110.4 244.8 109.5 244.4 109.5 248.5ZM188.9 246.2 190.1 243.1 189.1 243.1 191.5 240.6 191.6 244.0 190.9 243.4 189.7 246.5ZM277.2 244.0 278.6 247.2 279.4 246.6 279.4 250.0 276.9 247.7 277.9 247.6 276.4 244.3ZM284.5 243.8 286.0 247.1 286.8 246.4 286.9 249.9 284.3 247.6 285.3 247.5 283.7 244.1ZM108.9 256.3 108.9 252.5 107.9 252.8 109.3 249.6 110.7 252.8 109.7 252.5 109.7 256.3ZM181.8 254.3 182.9 251.0 181.9 251.0 184.2 248.4 184.5 251.9 183.7 251.3 182.6 254.5ZM189.1 254.1 190.3 250.8 189.3 250.8 191.6 248.2 191.8 251.7 191.0 251.1 189.9 254.3ZM196.4 253.8 198.1 250.8 197.1 250.6 199.8 248.5 199.5 251.9 198.8 251.2 197.1 254.2ZM299.2 251.2 300.8 254.2 301.5 253.5 301.7 257.0 299.0 254.7 300.0 254.6 298.5 251.6ZM306.5 250.9 308.7 253.7 309.2 252.9 310.2 256.2 307.1 254.6 308.1 254.2 305.8 251.4ZM313.7 250.7 316.0 253.5 316.5 252.6 317.5 256.0 314.4 254.4 315.4 254.0 313.1 251.2ZM321.0 250.5 323.2 252.9 323.7 252.1 324.8 255.3 321.7 253.9 322.6 253.5 320.4 251.1ZM160.1 262.8 160.2 258.9 159.2 259.2 160.6 256.0 161.9 259.2 161.0 258.9 160.9 262.8ZM167.4 262.6 167.5 258.7 166.5 259.0 167.9 255.8 169.2 259.0 168.3 258.7 168.2 262.6ZM174.7 262.4 175.3 259.1 174.3 259.2 176.2 256.3 177.0 259.7 176.1 259.2 175.5 262.5ZM182.0 262.1 183.2 258.8 182.2 258.8 184.5 256.3 184.7 259.7 183.9 259.1 182.8 262.4ZM189.3 261.9 191.0 258.5 190.0 258.3 192.7 256.1 192.5 259.5 191.8 258.8 190.1 262.2ZM306.6 258.8 308.8 261.5 309.4 260.7 310.3 264.0 307.2 262.3 308.2 262.0 306.0 259.3ZM313.9 258.6 316.1 261.3 316.7 260.4 317.6 263.8 314.5 262.1 315.5 261.8 313.3 259.1ZM160.4 270.6 160.4 266.7 159.4 267.0 160.8 263.8 162.2 267.0 161.2 266.7 161.2 270.7ZM167.6 270.5 167.7 266.5 166.7 266.8 168.1 263.6 169.4 266.8 168.5 266.5 168.4 270.5ZM299.5 266.8 301.6 269.5 302.1 268.7 303.0 272.1 300.0 270.3 300.9 270.0 298.9 267.3ZM306.8 266.6 309.0 269.3 309.5 268.4 310.5 271.8 307.4 270.1 308.3 269.8 306.2 267.1ZM292.5 275.0 293.2 278.1 294.1 277.6 293.4 281.0 291.4 278.2 292.4 278.3 291.7 275.1ZM299.7 274.6 301.7 277.4 302.3 276.6 303.1 279.9 300.1 278.2 301.1 277.8 299.1 275.1ZM307.0 274.4 309.1 277.1 309.7 276.3 310.6 279.6 307.5 277.9 308.5 277.6 306.4 274.9ZM256.0 283.4 259.2 284.2 259.1 283.2 261.9 285.2 258.5 285.8 259.0 284.9 255.8 284.2ZM263.3 283.2 266.5 284.1 266.4 283.1 269.2 285.3 265.7 285.7 266.3 284.9 263.0 284.0ZM248.9 291.5 252.2 292.8 252.3 291.8 254.7 294.3 251.3 294.3 251.9 293.6 248.6 292.2ZM300.3 298.3 300.6 302.1 301.5 301.8 300.4 305.0 298.8 301.9 299.8 302.2 299.5 298.4ZM147.3 309.8 150.6 310.1 150.4 309.1 153.5 310.7 150.2 311.8 150.6 310.9 147.3 310.6ZM154.7 309.7 158.0 310.6 158.0 309.6 160.7 311.8 157.2 312.2 157.8 311.4 154.5 310.4ZM162.0 309.5 165.2 310.5 165.2 309.5 167.9 311.8 164.4 312.1 165.0 311.3 161.7 310.2ZM300.5 306.1 300.6 310.1 301.6 309.7 300.4 313.0 298.9 309.8 299.9 310.1 299.7 306.2ZM162.2 317.3 165.8 318.3 165.7 317.3 168.4 319.5 165.0 319.9 165.5 319.1 161.9 318.1ZM169.5 317.1 172.7 318.2 172.7 317.2 175.4 319.4 171.9 319.8 172.5 318.9 169.2 317.9ZM176.7 316.9 179.8 317.9 179.8 316.9 182.4 319.1 179.0 319.5 179.5 318.7 176.5 317.7ZM125.9 326.1 129.4 326.1 129.1 325.1 132.3 326.5 129.1 327.9 129.4 326.9 125.9 326.9ZM133.2 325.9 136.9 325.9 136.6 324.9 139.8 326.3 136.6 327.7 136.9 326.7 133.2 326.7ZM169.7 324.9 173.0 326.0 173.0 325.0 175.6 327.3 172.2 327.6 172.8 326.8 169.4 325.7ZM176.9 324.8 180.2 325.8 180.2 324.8 182.8 327.1 179.4 327.4 180.0 326.6 176.7 325.5ZM257.1 322.7 259.8 325.2 260.3 324.3 261.7 327.4 258.4 326.3 259.3 325.8 256.6 323.3ZM279.0 322.1 281.0 324.6 281.5 323.8 282.5 327.1 279.4 325.5 280.4 325.1 278.3 322.6ZM169.9 332.8 173.7 333.9 173.6 332.9 176.3 335.1 172.9 335.5 173.4 334.7 169.6 333.5ZM177.1 332.6 180.9 333.7 180.8 332.7 183.5 334.9 180.1 335.3 180.6 334.5 176.9 333.4ZM184.6 340.2 188.5 340.9 188.4 339.9 191.3 341.8 187.9 342.6 188.4 341.7 184.4 341.0Z"/><path fill="#e8f6ea" d="M185.0 89.3 195.4 87.0 194.9 86.1 198.3 86.8 195.5 88.8 195.6 87.8 185.2 90.0ZM148.6 98.0 158.6 95.9 158.1 95.0 161.5 95.6 158.6 97.6 158.7 96.6 148.8 98.8ZM200.4 112.4 210.3 112.4 210.0 111.4 213.2 112.8 210.0 114.2 210.3 113.2 200.4 113.2ZM164.0 121.1 174.5 121.1 174.2 120.1 177.4 121.5 174.2 122.9 174.5 121.9 164.0 121.9ZM164.2 129.0 174.3 129.0 174.0 128.0 177.2 129.3 174.0 130.7 174.3 129.8 164.2 129.8ZM186.2 128.4 196.4 128.4 196.1 127.4 199.3 128.8 196.1 130.1 196.4 129.2 186.2 129.2ZM354.7 124.4 364.0 128.9 364.2 127.9 366.5 130.5 363.0 130.3 363.7 129.6 354.4 125.1ZM171.7 136.6 181.8 136.6 181.5 135.7 184.7 137.0 181.5 138.4 181.8 137.4 171.7 137.4ZM179.1 136.4 189.1 136.4 188.8 135.5 192.0 136.8 188.8 138.2 189.1 137.2 179.1 137.2ZM144.0 192.2 154.5 192.2 154.2 191.3 157.4 192.6 154.2 194.0 154.5 193.0 144.0 193.0ZM136.9 200.2 147.6 200.2 147.3 199.2 150.5 200.5 147.3 201.9 147.6 201.0 136.9 201.0ZM107.7 208.9 115.3 202.3 114.5 201.8 117.8 200.8 116.2 203.9 115.9 203.0 108.2 209.5ZM115.0 208.7 122.6 202.2 121.8 201.7 125.1 200.6 123.5 203.7 123.2 202.8 115.5 209.3ZM144.4 207.9 155.0 207.7 154.6 206.8 157.9 208.0 154.7 209.5 155.0 208.5 144.4 208.7ZM147.9 333.4 157.9 333.4 157.5 332.4 160.7 333.8 157.5 335.1 157.9 334.2 147.9 334.2Z"/><path fill="#74add1" d="M214.4 88.6 216.9 88.1 216.5 87.2 219.8 88.0 216.9 89.9 217.1 88.9 214.5 89.3ZM390.0 84.8 389.8 82.0 388.8 82.4 389.9 79.1 391.5 82.1 390.6 81.9 390.8 84.7ZM390.2 92.6 389.9 89.8 389.0 90.2 390.1 86.9 391.7 90.0 390.7 89.8 391.0 92.6ZM397.5 92.4 397.2 89.3 396.3 89.7 397.4 86.4 399.0 89.5 398.0 89.2 398.3 92.4ZM317.8 102.0 318.7 104.2 319.5 103.6 319.4 107.0 317.0 104.6 318.0 104.5 317.1 102.3ZM325.1 101.8 326.1 104.1 326.8 103.4 326.8 106.9 324.3 104.5 325.3 104.4 324.4 102.1ZM332.4 101.6 333.9 104.1 334.6 103.3 335.0 106.7 332.2 104.7 333.2 104.5 331.8 102.0ZM339.8 101.4 341.3 103.9 342.0 103.1 342.5 106.6 339.7 104.6 340.6 104.3 339.1 101.8ZM397.6 100.3 397.4 97.2 396.5 97.6 397.6 94.3 399.2 97.4 398.2 97.1 398.4 100.2ZM119.7 114.4 122.2 113.6 121.7 112.8 125.1 113.1 122.5 115.4 122.5 114.3 119.9 115.1ZM318.0 109.8 318.9 112.0 319.7 111.4 319.6 114.8 317.1 112.4 318.1 112.3 317.2 110.1ZM325.3 109.7 326.3 111.9 327.0 111.2 327.1 114.7 324.5 112.3 325.5 112.2 324.6 110.0ZM332.6 109.4 334.2 111.9 334.8 111.1 335.4 114.5 332.5 112.6 333.5 112.3 331.9 109.8ZM339.9 109.2 341.7 111.8 342.3 111.0 342.9 114.4 340.0 112.5 341.0 112.2 339.3 109.7ZM361.8 108.6 364.2 110.0 364.4 109.0 366.5 111.8 363.1 111.4 363.8 110.7 361.4 109.3ZM397.8 108.1 397.6 105.7 396.7 106.0 397.9 102.8 399.4 105.9 398.4 105.6 398.6 108.0ZM317.6 125.6 318.1 122.6 317.1 122.7 319.0 119.8 319.8 123.2 318.9 122.7 318.4 125.7ZM324.9 125.4 325.5 123.0 324.5 123.0 326.6 120.3 327.1 123.7 326.3 123.1 325.7 125.6ZM215.6 135.6 218.2 135.3 217.8 134.4 221.1 135.4 218.1 137.1 218.3 136.1 215.7 136.4ZM303.1 133.8 303.1 130.8 302.2 131.1 303.5 127.9 304.9 131.1 303.9 130.8 303.9 133.8ZM310.4 133.6 310.5 130.6 309.5 130.9 310.9 127.7 312.2 130.9 311.3 130.6 311.2 133.6ZM317.7 133.4 318.2 130.3 317.2 130.5 319.1 127.5 319.9 130.9 319.0 130.4 318.5 133.5ZM325.1 133.2 325.6 130.3 324.6 130.4 326.6 127.5 327.3 131.0 326.4 130.5 325.8 133.4ZM332.8 132.7 335.3 132.8 335.0 131.8 338.1 133.3 334.9 134.5 335.3 133.6 332.8 133.5ZM157.3 144.8 160.1 144.7 159.8 143.8 163.0 145.1 159.9 146.5 160.2 145.5 157.3 145.6ZM215.8 143.4 218.2 142.9 217.7 142.0 221.1 142.8 218.2 144.7 218.3 143.7 215.9 144.2ZM303.3 141.6 303.3 138.6 302.3 138.9 303.7 135.7 305.0 138.9 304.1 138.6 304.1 141.6ZM310.6 141.5 310.6 138.4 309.7 138.7 311.1 135.5 312.4 138.8 311.4 138.4 311.4 141.5ZM317.9 141.2 318.4 138.1 317.4 138.3 319.2 135.4 320.1 138.7 319.2 138.3 318.7 141.3ZM325.2 141.0 325.8 138.0 324.8 138.1 326.7 135.2 327.4 138.6 326.6 138.1 326.0 141.2ZM230.5 150.9 232.8 149.3 232.0 148.7 235.4 148.0 233.5 151.0 233.2 150.0 230.9 151.6ZM318.1 149.1 318.3 146.4 317.3 146.7 319.0 143.6 320.0 146.9 319.1 146.5 318.9 149.1ZM325.4 148.9 325.9 145.8 324.9 146.0 326.8 143.0 327.6 146.4 326.7 145.9 326.2 149.0ZM238.0 158.6 240.4 156.7 239.6 156.1 243.0 155.2 241.3 158.3 240.9 157.3 238.4 159.2ZM333.1 156.2 335.2 154.9 334.4 154.3 337.8 153.7 335.8 156.6 335.6 155.6 333.5 156.9ZM355.2 155.6 357.6 155.2 357.1 154.3 360.5 155.1 357.6 157.0 357.7 156.0 355.3 156.4ZM128.7 169.1 131.3 169.1 130.9 168.1 134.1 169.5 130.9 170.8 131.3 169.9 128.7 169.9ZM172.4 168.0 174.8 166.6 174.0 165.9 177.5 165.4 175.4 168.3 175.2 167.3 172.8 168.7ZM179.7 167.9 182.3 166.1 181.4 165.5 184.8 164.8 183.0 167.7 182.7 166.7 180.1 168.5ZM348.0 163.6 350.8 162.9 350.2 162.1 353.7 162.6 350.9 164.7 351.0 163.7 348.2 164.4ZM121.6 177.1 124.2 177.1 123.8 176.1 127.0 177.5 123.8 178.9 124.2 177.9 121.6 177.9ZM136.2 176.7 139.4 176.7 139.0 175.8 142.2 177.1 139.0 178.5 139.4 177.5 136.2 177.5ZM172.6 175.9 175.1 174.4 174.3 173.7 177.8 173.3 175.7 176.1 175.5 175.1 173.0 176.6ZM179.9 175.7 182.4 174.1 181.7 173.5 185.1 173.0 183.1 175.8 182.9 174.8 180.3 176.4ZM348.2 171.5 350.7 170.9 350.2 170.0 353.6 170.7 350.8 172.7 350.9 171.7 348.3 172.2ZM355.5 171.3 357.8 170.8 357.3 169.9 360.7 170.7 357.8 172.6 358.0 171.6 355.6 172.1ZM180.1 183.5 182.6 182.2 181.9 181.5 185.3 181.1 183.2 183.9 183.0 182.9 180.5 184.2ZM173.2 191.5 175.9 191.4 175.5 190.4 178.8 191.7 175.6 193.2 175.9 192.2 173.2 192.3ZM180.5 191.3 183.3 190.9 182.8 190.0 186.2 190.8 183.2 192.7 183.4 191.7 180.6 192.1ZM187.7 191.1 190.1 190.6 189.5 189.7 192.9 190.3 190.2 192.3 190.2 191.3 187.9 191.9ZM195.0 191.0 197.5 190.1 196.9 189.3 200.3 189.6 197.7 191.9 197.7 190.9 195.3 191.7ZM180.7 199.1 183.5 199.0 183.1 198.0 186.4 199.2 183.3 200.7 183.6 199.8 180.8 199.9ZM122.8 232.3 123.4 229.3 122.4 229.4 124.4 226.6 125.1 230.0 124.2 229.5 123.6 232.5ZM123.0 240.2 123.6 237.2 122.6 237.4 124.5 234.5 125.2 237.8 124.3 237.4 123.8 240.3ZM188.7 238.4 189.9 236.2 188.9 236.0 191.5 233.8 191.3 237.3 190.6 236.5 189.4 238.7ZM196.0 238.1 197.4 235.8 196.5 235.5 199.2 233.5 198.8 236.9 198.1 236.2 196.7 238.6ZM203.3 238.0 204.8 235.6 203.8 235.4 206.6 233.3 206.1 236.8 205.4 236.0 204.0 238.4ZM320.7 234.9 322.7 236.9 323.1 236.0 324.4 239.2 321.2 237.9 322.1 237.5 320.1 235.4ZM328.0 234.7 329.9 236.7 330.4 235.8 331.7 239.0 328.4 237.7 329.4 237.2 327.4 235.3ZM181.6 246.4 182.6 243.5 181.6 243.5 183.9 240.9 184.2 244.3 183.3 243.7 182.4 246.7ZM196.2 246.0 197.7 243.3 196.7 243.1 199.5 241.0 199.1 244.5 198.4 243.7 196.9 246.4ZM203.5 245.8 205.0 243.3 204.1 243.1 206.9 241.0 206.4 244.5 205.7 243.7 204.2 246.2ZM210.8 245.6 212.3 243.1 211.3 242.9 214.2 240.9 213.7 244.3 213.0 243.5 211.5 246.0ZM320.8 242.7 322.9 244.7 323.3 243.8 324.6 247.1 321.4 245.8 322.3 245.3 320.3 243.3ZM328.1 242.5 330.1 244.5 330.6 243.6 331.9 246.8 328.6 245.5 329.5 245.0 327.6 243.1ZM174.5 254.5 175.0 251.8 174.0 251.9 175.9 249.0 176.7 252.4 175.8 251.9 175.3 254.7ZM203.7 253.6 205.3 251.1 204.3 250.9 207.1 248.9 206.6 252.3 205.9 251.6 204.4 254.0ZM211.0 253.4 212.5 251.2 211.5 250.9 214.4 249.0 213.8 252.4 213.2 251.6 211.7 253.9ZM248.2 252.6 248.8 255.6 249.6 255.1 248.9 258.5 247.0 255.6 248.0 255.8 247.4 252.8ZM255.5 252.4 256.0 255.5 256.9 255.0 256.1 258.4 254.2 255.5 255.2 255.6 254.7 252.6ZM262.8 252.3 263.0 254.8 264.0 254.4 262.9 257.7 261.3 254.6 262.2 254.8 262.0 252.4ZM270.1 252.1 270.1 255.1 271.1 254.8 269.8 258.0 268.4 254.8 269.3 255.1 269.3 252.1ZM277.4 251.9 277.5 255.0 278.4 254.6 277.2 257.9 275.7 254.7 276.7 255.0 276.6 252.0ZM284.7 251.7 284.8 254.8 285.8 254.5 284.5 257.7 283.0 254.6 284.0 254.9 283.9 251.8ZM292.0 251.5 292.1 254.6 293.1 254.3 291.9 257.5 290.4 254.4 291.3 254.7 291.2 251.6ZM248.4 260.4 249.0 263.2 249.9 262.7 249.2 266.1 247.2 263.3 248.2 263.4 247.6 260.6ZM255.7 260.3 256.3 263.1 257.1 262.6 256.4 266.0 254.5 263.1 255.5 263.2 254.9 260.4ZM270.3 259.9 270.4 262.7 271.3 262.4 270.1 265.6 268.6 262.5 269.6 262.8 269.5 260.0ZM277.6 259.8 277.7 262.6 278.6 262.3 277.3 265.5 275.9 262.4 276.9 262.7 276.8 259.8ZM284.9 259.6 284.9 262.6 285.9 262.3 284.6 265.5 283.2 262.3 284.1 262.6 284.1 259.6ZM292.1 259.4 292.3 262.5 293.2 262.1 292.0 265.3 290.5 262.2 291.5 262.5 291.3 259.4ZM299.4 259.0 300.8 261.8 301.5 261.1 301.7 264.6 299.0 262.3 300.0 262.2 298.7 259.4ZM182.3 269.9 183.3 267.5 182.3 267.4 184.9 265.1 184.8 268.5 184.1 267.8 183.0 270.2ZM285.0 267.3 285.6 270.3 286.5 269.8 285.7 273.2 283.8 270.3 284.8 270.4 284.2 267.5ZM292.3 267.1 292.9 270.2 293.8 269.7 293.1 273.1 291.1 270.2 292.1 270.4 291.5 267.3ZM314.1 266.4 316.1 268.4 316.5 267.5 317.8 270.8 314.6 269.4 315.5 269.0 313.5 266.9ZM321.4 266.2 323.3 268.2 323.8 267.2 325.1 270.5 321.9 269.2 322.8 268.7 320.8 266.7ZM285.2 275.1 285.9 278.1 286.7 277.6 286.1 281.0 284.1 278.2 285.1 278.3 284.4 275.3ZM314.2 274.2 316.2 276.2 316.7 275.3 317.9 278.6 314.7 277.2 315.6 276.8 313.7 274.7ZM321.5 274.0 323.5 276.0 323.9 275.1 325.2 278.3 322.0 277.0 322.9 276.5 321.0 274.6ZM299.9 282.5 301.5 285.1 302.1 284.4 302.6 287.8 299.8 285.7 300.8 285.5 299.2 282.9ZM307.2 282.3 308.7 284.8 309.4 284.0 309.9 287.4 307.1 285.4 308.1 285.2 306.5 282.7ZM314.5 282.0 316.1 284.1 316.6 283.3 317.5 286.7 314.5 285.0 315.4 284.6 313.8 282.5ZM321.7 281.8 323.4 283.7 323.9 282.9 325.1 286.2 321.9 284.7 322.9 284.3 321.1 282.4ZM300.1 290.3 301.5 293.0 302.2 292.3 302.5 295.8 299.8 293.6 300.8 293.4 299.4 290.7ZM307.4 290.1 308.8 292.2 309.4 291.4 310.0 294.8 307.1 292.9 308.1 292.6 306.7 290.5ZM169.2 309.3 172.1 310.1 172.0 309.1 174.7 311.2 171.3 311.7 171.9 310.8 169.0 310.0ZM249.4 307.2 251.9 308.8 252.2 307.8 254.1 310.6 250.7 310.1 251.5 309.4 249.0 307.8ZM140.2 317.9 142.8 317.9 142.5 316.9 145.7 318.3 142.5 319.6 142.8 318.7 140.2 318.7ZM249.6 315.0 251.6 316.3 251.8 315.3 253.8 318.2 250.4 317.6 251.2 317.0 249.1 315.7ZM286.1 314.1 287.5 316.3 288.1 315.5 288.7 319.0 285.8 317.0 286.8 316.8 285.4 314.6ZM249.8 322.8 252.1 324.4 252.4 323.4 254.4 326.2 250.9 325.7 251.7 325.0 249.3 323.5ZM184.4 332.4 187.4 333.4 187.3 332.3 190.0 334.6 186.5 334.9 187.1 334.1 184.2 333.2ZM220.8 331.4 223.1 332.3 223.2 331.3 225.6 333.8 222.2 333.9 222.8 333.1 220.5 332.2ZM228.1 331.2 230.4 332.2 230.5 331.1 232.9 333.6 229.4 333.7 230.1 332.9 227.8 332.0ZM235.4 331.0 237.7 332.2 237.9 331.2 240.1 333.9 236.7 333.7 237.4 332.9 235.0 331.8ZM242.7 330.9 245.2 332.4 245.4 331.4 247.5 334.2 244.0 333.7 244.8 333.1 242.3 331.5ZM249.9 330.7 252.5 332.2 252.7 331.2 254.7 334.0 251.3 333.5 252.1 332.9 249.5 331.3ZM257.2 330.5 259.5 332.1 259.8 331.1 261.6 334.1 258.2 333.3 259.0 332.7 256.8 331.1ZM221.0 339.3 223.3 340.2 223.4 339.2 225.8 341.6 222.4 341.7 223.0 340.9 220.7 340.0ZM228.3 339.1 230.6 340.0 230.7 339.0 233.1 341.4 229.6 341.5 230.3 340.7 228.0 339.8ZM235.6 338.9 238.0 340.1 238.1 339.1 240.4 341.7 236.9 341.5 237.6 340.8 235.2 339.6ZM242.9 338.7 245.4 340.2 245.6 339.2 247.7 342.0 244.2 341.5 245.0 340.9 242.5 339.4ZM250.1 338.5 252.7 340.0 252.9 339.0 254.9 341.8 251.5 341.4 252.3 340.7 249.7 339.2ZM257.4 338.3 259.6 339.7 259.8 338.8 261.7 341.7 258.3 341.0 259.1 340.4 257.0 339.0ZM192.2 347.9 194.6 349.0 194.7 348.0 197.0 350.5 193.5 350.5 194.2 349.7 191.8 348.6ZM221.2 347.1 223.5 348.1 223.5 347.1 225.9 349.6 222.5 349.5 223.1 348.8 220.9 347.8ZM228.5 346.9 230.8 347.9 230.9 346.8 233.3 349.3 229.8 349.4 230.5 348.6 228.2 347.6ZM235.8 346.7 238.2 347.9 238.3 346.9 240.6 349.6 237.1 349.3 237.8 348.6 235.4 347.4ZM243.1 346.5 245.6 348.0 245.8 347.0 247.8 349.8 244.4 349.4 245.2 348.7 242.7 347.2ZM250.3 346.3 252.8 347.8 253.0 346.8 255.1 349.7 251.6 349.2 252.4 348.5 249.9 347.0ZM257.6 346.1 259.7 347.6 260.0 346.6 261.9 349.5 258.5 348.8 259.3 348.2 257.2 346.8Z"/><path fill="#3b56a4" d="M368.0 85.3 368.0 84.6 367.1 84.9 368.4 82.7 369.8 84.9 368.8 84.7 368.8 85.3ZM375.3 85.1 375.3 84.5 374.4 84.7 375.7 82.5 377.1 84.7 376.1 84.5 376.1 85.1ZM236.6 95.9 237.3 95.8 237.0 94.9 239.2 96.2 237.1 97.6 237.3 96.6 236.7 96.7ZM309.6 94.6 309.4 94.0 308.5 94.5 309.2 92.0 311.1 93.8 310.1 93.8 310.3 94.4ZM361.2 92.9 361.9 92.9 361.6 91.9 363.8 93.2 361.7 94.6 361.9 93.7 361.3 93.7ZM368.2 93.1 368.2 92.5 367.2 92.7 368.6 90.5 369.9 92.8 369.0 92.5 369.0 93.1ZM375.5 92.9 375.5 92.3 374.5 92.5 375.9 90.3 377.3 92.6 376.3 92.3 376.3 92.9ZM295.1 102.8 294.9 102.2 294.0 102.8 294.6 100.2 296.6 101.9 295.6 101.9 295.8 102.6ZM368.3 100.9 368.4 100.2 367.4 100.4 369.0 98.4 370.1 100.7 369.2 100.3 369.1 101.0ZM375.7 100.7 375.7 100.1 374.7 100.3 376.1 98.2 377.4 100.4 376.5 100.1 376.5 100.8ZM259.3 111.1 259.8 111.6 260.3 110.7 260.8 113.2 258.3 112.6 259.2 112.1 258.7 111.7ZM280.7 110.6 281.2 110.1 280.4 109.6 283.0 109.2 282.2 111.6 281.7 110.7 281.2 111.2ZM368.6 108.5 369.1 108.0 368.2 107.5 370.7 106.9 370.1 109.4 369.6 108.6 369.2 109.0ZM375.8 108.5 375.9 107.9 375.0 107.9 376.7 106.0 377.6 108.5 376.7 108.0 376.6 108.7ZM383.2 108.2 383.4 107.6 382.4 107.5 384.5 106.0 384.9 108.6 384.2 108.0 383.9 108.6ZM245.1 142.7 245.8 142.6 245.5 141.7 247.7 143.0 245.6 144.4 245.8 143.4 245.1 143.5Z"/><path d="M100.54 19.05 L111.43 391.66 M146.47 18 L156.79 390.4 M192.4 16.95 L202.15 389.14 M238.33 15.91 L247.51 387.87 M284.26 14.86 L292.87 386.61 M330.19 13.82 L338.23 385.35 M376.12 12.77 L383.59 384.09 M422.05 11.73 L428.95 382.82 M65.59 78.74 L450.64 69.67 M66.78 117.99 L451.33 108.72 M67.98 157.23 L452.02 147.77 M69.17 196.47 L452.71 186.82 M70.36 235.71 L453.4 225.87 M71.56 274.95 L454.09 264.92 M72.75 314.19 L454.78 303.97 M73.94 353.43 L455.47 343.02" stroke="#a8a8a8" stroke-opacity="0.8" stroke-width="1.2" fill="none"/></g><rect x="100.5" y="49.5" width="321" height="305.5" fill="none" stroke="#000" stroke-width="1.1"/><text x="260" y="20" font-size="16.67" text-anchor="middle">2026-03-15T16:00:00Z</text><rect x="247.6" y="1.8" width="8" height="1.3" fill="#000"/><rect x="337.4" y="1.8" width="8.5" height="1.3" fill="#000"/><text x="101.43" y="39" font-size="13.89" text-anchor="middle">112.5°E</text><text x="110.35" y="373.3" font-size="13.89" text-anchor="middle">112.5°E</text><text x="193.25" y="39" font-size="13.89" text-anchor="middle">113°E</text><text x="201.25" y="373.3" font-size="13.89" text-anchor="middle">113°E</text><text x="285.06" y="39" font-size="13.89" text-anchor="middle">113.5°E</text><text x="292.13" y="373.3" font-size="13.89" text-anchor="middle">113.5°E</text><text x="376.86" y="39" font-size="13.89" text-anchor="middle">114°E</text><text x="383" y="373.3" font-size="13.89" text-anchor="middle">114°E</text><text x="93" y="82.92" font-size="13.89" text-anchor="end">21.6°S</text><text x="93" y="122.17" font-size="13.89" text-anchor="end">21.8°S</text><text x="93" y="161.43" font-size="13.89" text-anchor="end">22°S</text><text x="93" y="200.68" font-size="13.89" text-anchor="end">22.2°S</text><text x="93" y="239.93" font-size="13.89" text-anchor="end">22.4°S</text><text x="93" y="279.19" font-size="13.89" text-anchor="end">22.6°S</text><text x="93" y="318.45" font-size="13.89" text-anchor="end">22.8°S</text><text x="93" y="357.71" font-size="13.89" text-anchor="end">23°S</text><rect x="441.5" y="125.5" width="8" height="154" fill="url(#cb)" stroke="#000" stroke-width="1.1"/><line x1="449.5" y1="279.5" x2="454.4" y2="279.5" stroke="#000" stroke-width="1.1"/><text x="458.8" y="283.8" font-size="13.89">0.0</text><line x1="449.5" y1="248.7" x2="454.4" y2="248.7" stroke="#000" stroke-width="1.1"/><text x="458.8" y="253" font-size="13.89">0.2</text><line x1="449.5" y1="217.9" x2="454.4" y2="217.9" stroke="#000" stroke-width="1.1"/><text x="458.8" y="222.2" font-size="13.89">0.4</text><line x1="449.5" y1="187.1" x2="454.4" y2="187.1" stroke="#000" stroke-width="1.1"/><text x="458.8" y="191.4" font-size="13.89">0.6</text><line x1="449.5" y1="156.3" x2="454.4" y2="156.3" stroke="#000" stroke-width="1.1"/><text x="458.8" y="160.6" font-size="13.89">0.8</text><line x1="449.5" y1="125.5" x2="454.4" y2="125.5" stroke="#000" stroke-width="1.1"/><text x="458.8" y="129.8" font-size="13.89">1.0</text><text x="547" y="33.7" font-size="13.89">Iterations: 200</text><text x="547" y="66.15" font-size="13.89">nll: -14605.169198122376</text><text x="547" y="98.6" font-size="13.89">σ = 2.66e-09</text><text x="547" y="131.05" font-size="13.89">,η_uv1 = 2.46e-01</text><text x="547" y="163.5" font-size="13.89">η_uv2 = 4.34e-02</text><text x="547" y="195.95" font-size="13.89">ℓ_uv1 = 17059.10</text><text x="547" y="228.4" font-size="13.89">ℓ_uv2 = 10382.01</text><text x="547" y="260.85" font-size="13.89">η_q = 2.22e-05</text><text x="547" y="293.3" font-size="13.89">ℓ_q = 28998.36</text></svg></body></html>
